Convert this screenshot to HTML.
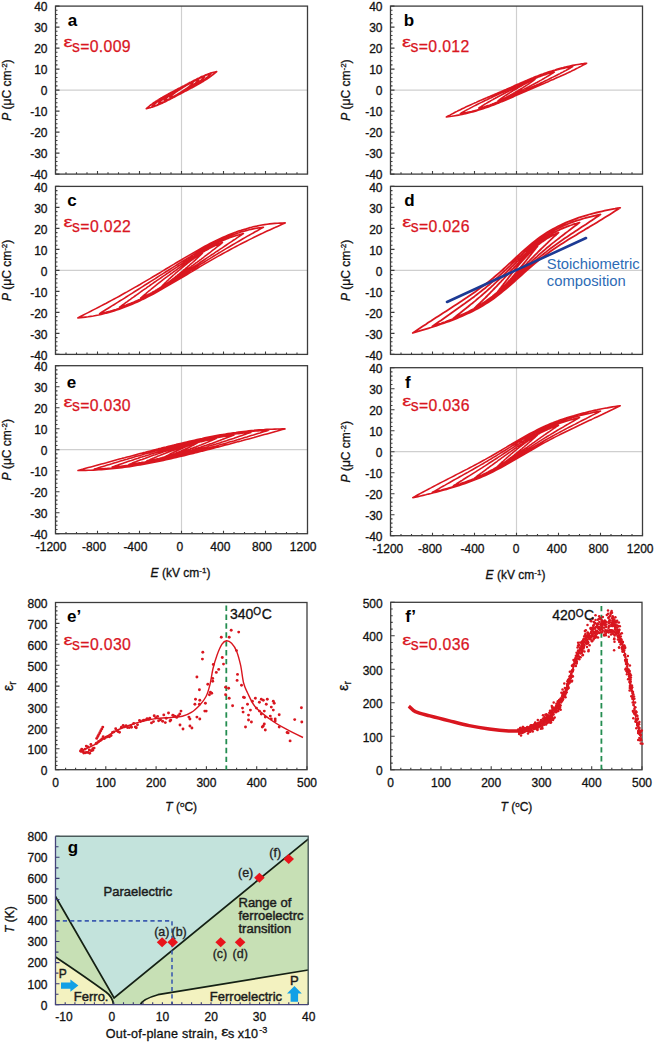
<!DOCTYPE html><html><head><meta charset="utf-8"><style>html,body{margin:0;padding:0;background:#fff;width:655px;height:1042px;overflow:hidden}svg{display:block;font-family:"Liberation Sans",sans-serif}.tk{font-size:12px;fill:#111;stroke:#111;stroke-width:0.3px}.lb{font-size:17px;font-weight:bold;fill:#000}.eps{font-size:15.8px;fill:#d9161f;stroke:#d9161f;stroke-width:0.25px}.ax{font-size:12px;fill:#111}</style></head><body>
<svg width="655" height="1042" viewBox="0 0 655 1042">
<rect width="655" height="1042" fill="#fff"/>
<line x1="181.5" y1="6.1" x2="181.5" y2="174.1" stroke="#cfcfcf" stroke-width="1.2"/>
<line x1="55.5" y1="90.1" x2="307.5" y2="90.1" stroke="#cfcfcf" stroke-width="1.2"/>
<path d="M55.5 6.1h4 M55.5 10.3h2 M55.5 14.5h2 M55.5 18.7h2 M55.5 22.9h2 M55.5 27.1h4 M55.5 31.3h2 M55.5 35.5h2 M55.5 39.7h2 M55.5 43.9h2 M55.5 48.1h4 M55.5 52.3h2 M55.5 56.5h2 M55.5 60.7h2 M55.5 64.9h2 M55.5 69.1h4 M55.5 73.3h2 M55.5 77.5h2 M55.5 81.7h2 M55.5 85.9h2 M55.5 90.1h4 M55.5 94.3h2 M55.5 98.5h2 M55.5 102.7h2 M55.5 106.9h2 M55.5 111.1h4 M55.5 115.3h2 M55.5 119.5h2 M55.5 123.7h2 M55.5 127.9h2 M55.5 132.1h4 M55.5 136.3h2 M55.5 140.5h2 M55.5 144.7h2 M55.5 148.9h2 M55.5 153.1h4 M55.5 157.3h2 M55.5 161.5h2 M55.5 165.7h2 M55.5 169.9h2 M55.5 174.1h4 M55.5 174.1v-3 M66.0 174.1v-1.8 M76.5 174.1v-1.8 M87.0 174.1v-1.8 M97.5 174.1v-3 M108.0 174.1v-1.8 M118.5 174.1v-1.8 M129.0 174.1v-1.8 M139.5 174.1v-3 M150.0 174.1v-1.8 M160.5 174.1v-1.8 M171.0 174.1v-1.8 M181.5 174.1v-3 M192.0 174.1v-1.8 M202.5 174.1v-1.8 M213.0 174.1v-1.8 M223.5 174.1v-3 M234.0 174.1v-1.8 M244.5 174.1v-1.8 M255.0 174.1v-1.8 M265.5 174.1v-3 M276.0 174.1v-1.8 M286.5 174.1v-1.8 M297.0 174.1v-1.8 M307.5 174.1v-3" stroke="#3c3c3c" stroke-width="1.1" fill="none"/>
<rect x="55.5" y="6.1" width="252.0" height="168.0" fill="none" stroke="#3c3c3c" stroke-width="1.3"/>
<text x="47.5" y="11.3" class="tk" text-anchor="end">40</text>
<text x="47.5" y="32.3" class="tk" text-anchor="end">30</text>
<text x="47.5" y="53.3" class="tk" text-anchor="end">20</text>
<text x="47.5" y="74.3" class="tk" text-anchor="end">10</text>
<text x="47.5" y="95.3" class="tk" text-anchor="end">0</text>
<text x="47.5" y="116.3" class="tk" text-anchor="end">-10</text>
<text x="47.5" y="137.3" class="tk" text-anchor="end">-20</text>
<text x="47.5" y="158.3" class="tk" text-anchor="end">-30</text>
<text x="47.5" y="179.3" class="tk" text-anchor="end">-40</text>
<line x1="516.5" y1="6.1" x2="516.5" y2="174.1" stroke="#cfcfcf" stroke-width="1.2"/>
<line x1="390.5" y1="90.1" x2="642.5" y2="90.1" stroke="#cfcfcf" stroke-width="1.2"/>
<path d="M390.5 6.1h4 M390.5 10.3h2 M390.5 14.5h2 M390.5 18.7h2 M390.5 22.9h2 M390.5 27.1h4 M390.5 31.3h2 M390.5 35.5h2 M390.5 39.7h2 M390.5 43.9h2 M390.5 48.1h4 M390.5 52.3h2 M390.5 56.5h2 M390.5 60.7h2 M390.5 64.9h2 M390.5 69.1h4 M390.5 73.3h2 M390.5 77.5h2 M390.5 81.7h2 M390.5 85.9h2 M390.5 90.1h4 M390.5 94.3h2 M390.5 98.5h2 M390.5 102.7h2 M390.5 106.9h2 M390.5 111.1h4 M390.5 115.3h2 M390.5 119.5h2 M390.5 123.7h2 M390.5 127.9h2 M390.5 132.1h4 M390.5 136.3h2 M390.5 140.5h2 M390.5 144.7h2 M390.5 148.9h2 M390.5 153.1h4 M390.5 157.3h2 M390.5 161.5h2 M390.5 165.7h2 M390.5 169.9h2 M390.5 174.1h4 M390.5 174.1v-3 M401.0 174.1v-1.8 M411.5 174.1v-1.8 M422.0 174.1v-1.8 M432.5 174.1v-3 M443.0 174.1v-1.8 M453.5 174.1v-1.8 M464.0 174.1v-1.8 M474.5 174.1v-3 M485.0 174.1v-1.8 M495.5 174.1v-1.8 M506.0 174.1v-1.8 M516.5 174.1v-3 M527.0 174.1v-1.8 M537.5 174.1v-1.8 M548.0 174.1v-1.8 M558.5 174.1v-3 M569.0 174.1v-1.8 M579.5 174.1v-1.8 M590.0 174.1v-1.8 M600.5 174.1v-3 M611.0 174.1v-1.8 M621.5 174.1v-1.8 M632.0 174.1v-1.8 M642.5 174.1v-3" stroke="#3c3c3c" stroke-width="1.1" fill="none"/>
<rect x="390.5" y="6.1" width="252.0" height="168.0" fill="none" stroke="#3c3c3c" stroke-width="1.3"/>
<text x="382.5" y="11.3" class="tk" text-anchor="end">40</text>
<text x="382.5" y="32.3" class="tk" text-anchor="end">30</text>
<text x="382.5" y="53.3" class="tk" text-anchor="end">20</text>
<text x="382.5" y="74.3" class="tk" text-anchor="end">10</text>
<text x="382.5" y="95.3" class="tk" text-anchor="end">0</text>
<text x="382.5" y="116.3" class="tk" text-anchor="end">-10</text>
<text x="382.5" y="137.3" class="tk" text-anchor="end">-20</text>
<text x="382.5" y="158.3" class="tk" text-anchor="end">-30</text>
<text x="382.5" y="179.3" class="tk" text-anchor="end">-40</text>
<line x1="181.5" y1="186.4" x2="181.5" y2="354.4" stroke="#cfcfcf" stroke-width="1.2"/>
<line x1="55.5" y1="270.4" x2="307.5" y2="270.4" stroke="#cfcfcf" stroke-width="1.2"/>
<path d="M55.5 186.4h4 M55.5 190.6h2 M55.5 194.8h2 M55.5 199.0h2 M55.5 203.2h2 M55.5 207.4h4 M55.5 211.6h2 M55.5 215.8h2 M55.5 220.0h2 M55.5 224.2h2 M55.5 228.4h4 M55.5 232.6h2 M55.5 236.8h2 M55.5 241.0h2 M55.5 245.2h2 M55.5 249.4h4 M55.5 253.6h2 M55.5 257.8h2 M55.5 262.0h2 M55.5 266.2h2 M55.5 270.4h4 M55.5 274.6h2 M55.5 278.8h2 M55.5 283.0h2 M55.5 287.2h2 M55.5 291.4h4 M55.5 295.6h2 M55.5 299.8h2 M55.5 304.0h2 M55.5 308.2h2 M55.5 312.4h4 M55.5 316.6h2 M55.5 320.8h2 M55.5 325.0h2 M55.5 329.2h2 M55.5 333.4h4 M55.5 337.6h2 M55.5 341.8h2 M55.5 346.0h2 M55.5 350.2h2 M55.5 354.4h4 M55.5 354.4v-3 M66.0 354.4v-1.8 M76.5 354.4v-1.8 M87.0 354.4v-1.8 M97.5 354.4v-3 M108.0 354.4v-1.8 M118.5 354.4v-1.8 M129.0 354.4v-1.8 M139.5 354.4v-3 M150.0 354.4v-1.8 M160.5 354.4v-1.8 M171.0 354.4v-1.8 M181.5 354.4v-3 M192.0 354.4v-1.8 M202.5 354.4v-1.8 M213.0 354.4v-1.8 M223.5 354.4v-3 M234.0 354.4v-1.8 M244.5 354.4v-1.8 M255.0 354.4v-1.8 M265.5 354.4v-3 M276.0 354.4v-1.8 M286.5 354.4v-1.8 M297.0 354.4v-1.8 M307.5 354.4v-3" stroke="#3c3c3c" stroke-width="1.1" fill="none"/>
<rect x="55.5" y="186.4" width="252.0" height="168.0" fill="none" stroke="#3c3c3c" stroke-width="1.3"/>
<text x="47.5" y="191.6" class="tk" text-anchor="end">40</text>
<text x="47.5" y="212.6" class="tk" text-anchor="end">30</text>
<text x="47.5" y="233.6" class="tk" text-anchor="end">20</text>
<text x="47.5" y="254.6" class="tk" text-anchor="end">10</text>
<text x="47.5" y="275.6" class="tk" text-anchor="end">0</text>
<text x="47.5" y="296.6" class="tk" text-anchor="end">-10</text>
<text x="47.5" y="317.6" class="tk" text-anchor="end">-20</text>
<text x="47.5" y="338.6" class="tk" text-anchor="end">-30</text>
<text x="47.5" y="359.6" class="tk" text-anchor="end">-40</text>
<line x1="516.5" y1="186.4" x2="516.5" y2="354.4" stroke="#cfcfcf" stroke-width="1.2"/>
<line x1="390.5" y1="270.4" x2="642.5" y2="270.4" stroke="#cfcfcf" stroke-width="1.2"/>
<path d="M390.5 186.4h4 M390.5 190.6h2 M390.5 194.8h2 M390.5 199.0h2 M390.5 203.2h2 M390.5 207.4h4 M390.5 211.6h2 M390.5 215.8h2 M390.5 220.0h2 M390.5 224.2h2 M390.5 228.4h4 M390.5 232.6h2 M390.5 236.8h2 M390.5 241.0h2 M390.5 245.2h2 M390.5 249.4h4 M390.5 253.6h2 M390.5 257.8h2 M390.5 262.0h2 M390.5 266.2h2 M390.5 270.4h4 M390.5 274.6h2 M390.5 278.8h2 M390.5 283.0h2 M390.5 287.2h2 M390.5 291.4h4 M390.5 295.6h2 M390.5 299.8h2 M390.5 304.0h2 M390.5 308.2h2 M390.5 312.4h4 M390.5 316.6h2 M390.5 320.8h2 M390.5 325.0h2 M390.5 329.2h2 M390.5 333.4h4 M390.5 337.6h2 M390.5 341.8h2 M390.5 346.0h2 M390.5 350.2h2 M390.5 354.4h4 M390.5 354.4v-3 M401.0 354.4v-1.8 M411.5 354.4v-1.8 M422.0 354.4v-1.8 M432.5 354.4v-3 M443.0 354.4v-1.8 M453.5 354.4v-1.8 M464.0 354.4v-1.8 M474.5 354.4v-3 M485.0 354.4v-1.8 M495.5 354.4v-1.8 M506.0 354.4v-1.8 M516.5 354.4v-3 M527.0 354.4v-1.8 M537.5 354.4v-1.8 M548.0 354.4v-1.8 M558.5 354.4v-3 M569.0 354.4v-1.8 M579.5 354.4v-1.8 M590.0 354.4v-1.8 M600.5 354.4v-3 M611.0 354.4v-1.8 M621.5 354.4v-1.8 M632.0 354.4v-1.8 M642.5 354.4v-3" stroke="#3c3c3c" stroke-width="1.1" fill="none"/>
<rect x="390.5" y="186.4" width="252.0" height="168.0" fill="none" stroke="#3c3c3c" stroke-width="1.3"/>
<text x="382.5" y="191.6" class="tk" text-anchor="end">40</text>
<text x="382.5" y="212.6" class="tk" text-anchor="end">30</text>
<text x="382.5" y="233.6" class="tk" text-anchor="end">20</text>
<text x="382.5" y="254.6" class="tk" text-anchor="end">10</text>
<text x="382.5" y="275.6" class="tk" text-anchor="end">0</text>
<text x="382.5" y="296.6" class="tk" text-anchor="end">-10</text>
<text x="382.5" y="317.6" class="tk" text-anchor="end">-20</text>
<text x="382.5" y="338.6" class="tk" text-anchor="end">-30</text>
<text x="382.5" y="359.6" class="tk" text-anchor="end">-40</text>
<line x1="181.5" y1="365.7" x2="181.5" y2="533.7" stroke="#cfcfcf" stroke-width="1.2"/>
<line x1="55.5" y1="449.7" x2="307.5" y2="449.7" stroke="#cfcfcf" stroke-width="1.2"/>
<path d="M55.5 365.7h4 M55.5 369.9h2 M55.5 374.1h2 M55.5 378.3h2 M55.5 382.5h2 M55.5 386.7h4 M55.5 390.9h2 M55.5 395.1h2 M55.5 399.3h2 M55.5 403.5h2 M55.5 407.7h4 M55.5 411.9h2 M55.5 416.1h2 M55.5 420.3h2 M55.5 424.5h2 M55.5 428.7h4 M55.5 432.9h2 M55.5 437.1h2 M55.5 441.3h2 M55.5 445.5h2 M55.5 449.7h4 M55.5 453.9h2 M55.5 458.1h2 M55.5 462.3h2 M55.5 466.5h2 M55.5 470.7h4 M55.5 474.9h2 M55.5 479.1h2 M55.5 483.3h2 M55.5 487.5h2 M55.5 491.7h4 M55.5 495.9h2 M55.5 500.1h2 M55.5 504.3h2 M55.5 508.5h2 M55.5 512.7h4 M55.5 516.9h2 M55.5 521.1h2 M55.5 525.3h2 M55.5 529.5h2 M55.5 533.7h4 M55.5 533.7v-3 M66.0 533.7v-1.8 M76.5 533.7v-1.8 M87.0 533.7v-1.8 M97.5 533.7v-3 M108.0 533.7v-1.8 M118.5 533.7v-1.8 M129.0 533.7v-1.8 M139.5 533.7v-3 M150.0 533.7v-1.8 M160.5 533.7v-1.8 M171.0 533.7v-1.8 M181.5 533.7v-3 M192.0 533.7v-1.8 M202.5 533.7v-1.8 M213.0 533.7v-1.8 M223.5 533.7v-3 M234.0 533.7v-1.8 M244.5 533.7v-1.8 M255.0 533.7v-1.8 M265.5 533.7v-3 M276.0 533.7v-1.8 M286.5 533.7v-1.8 M297.0 533.7v-1.8 M307.5 533.7v-3" stroke="#3c3c3c" stroke-width="1.1" fill="none"/>
<rect x="55.5" y="365.7" width="252.0" height="168.0" fill="none" stroke="#3c3c3c" stroke-width="1.3"/>
<text x="47.5" y="370.9" class="tk" text-anchor="end">40</text>
<text x="47.5" y="391.9" class="tk" text-anchor="end">30</text>
<text x="47.5" y="412.9" class="tk" text-anchor="end">20</text>
<text x="47.5" y="433.9" class="tk" text-anchor="end">10</text>
<text x="47.5" y="454.9" class="tk" text-anchor="end">0</text>
<text x="47.5" y="475.9" class="tk" text-anchor="end">-10</text>
<text x="47.5" y="496.9" class="tk" text-anchor="end">-20</text>
<text x="47.5" y="517.9" class="tk" text-anchor="end">-30</text>
<text x="47.5" y="538.9" class="tk" text-anchor="end">-40</text>
<line x1="516.5" y1="367.7" x2="516.5" y2="535.7" stroke="#cfcfcf" stroke-width="1.2"/>
<line x1="390.5" y1="451.7" x2="642.5" y2="451.7" stroke="#cfcfcf" stroke-width="1.2"/>
<path d="M390.5 367.7h4 M390.5 371.9h2 M390.5 376.1h2 M390.5 380.3h2 M390.5 384.5h2 M390.5 388.7h4 M390.5 392.9h2 M390.5 397.1h2 M390.5 401.3h2 M390.5 405.5h2 M390.5 409.7h4 M390.5 413.9h2 M390.5 418.1h2 M390.5 422.3h2 M390.5 426.5h2 M390.5 430.7h4 M390.5 434.9h2 M390.5 439.1h2 M390.5 443.3h2 M390.5 447.5h2 M390.5 451.7h4 M390.5 455.9h2 M390.5 460.1h2 M390.5 464.3h2 M390.5 468.5h2 M390.5 472.7h4 M390.5 476.9h2 M390.5 481.1h2 M390.5 485.3h2 M390.5 489.5h2 M390.5 493.7h4 M390.5 497.9h2 M390.5 502.1h2 M390.5 506.3h2 M390.5 510.5h2 M390.5 514.7h4 M390.5 518.9h2 M390.5 523.1h2 M390.5 527.3h2 M390.5 531.5h2 M390.5 535.7h4 M390.5 535.7v-3 M401.0 535.7v-1.8 M411.5 535.7v-1.8 M422.0 535.7v-1.8 M432.5 535.7v-3 M443.0 535.7v-1.8 M453.5 535.7v-1.8 M464.0 535.7v-1.8 M474.5 535.7v-3 M485.0 535.7v-1.8 M495.5 535.7v-1.8 M506.0 535.7v-1.8 M516.5 535.7v-3 M527.0 535.7v-1.8 M537.5 535.7v-1.8 M548.0 535.7v-1.8 M558.5 535.7v-3 M569.0 535.7v-1.8 M579.5 535.7v-1.8 M590.0 535.7v-1.8 M600.5 535.7v-3 M611.0 535.7v-1.8 M621.5 535.7v-1.8 M632.0 535.7v-1.8 M642.5 535.7v-3" stroke="#3c3c3c" stroke-width="1.1" fill="none"/>
<rect x="390.5" y="367.7" width="252.0" height="168.0" fill="none" stroke="#3c3c3c" stroke-width="1.3"/>
<text x="382.5" y="372.9" class="tk" text-anchor="end">40</text>
<text x="382.5" y="393.9" class="tk" text-anchor="end">30</text>
<text x="382.5" y="414.9" class="tk" text-anchor="end">20</text>
<text x="382.5" y="435.9" class="tk" text-anchor="end">10</text>
<text x="382.5" y="456.9" class="tk" text-anchor="end">0</text>
<text x="382.5" y="477.9" class="tk" text-anchor="end">-10</text>
<text x="382.5" y="498.9" class="tk" text-anchor="end">-20</text>
<text x="382.5" y="519.9" class="tk" text-anchor="end">-30</text>
<text x="382.5" y="540.9" class="tk" text-anchor="end">-40</text>
<path d="M193.1 82.8 L192.8 82.8 L192.5 82.8 L192.2 82.9 L191.9 82.9 L191.6 83.0 L191.3 83.1 L191.0 83.2 L190.7 83.3 L190.5 83.4 L190.2 83.5 L189.9 83.6 L189.6 83.7 L189.3 83.9 L189.0 84.0 L188.7 84.1 L188.4 84.3 L188.1 84.4 L187.9 84.6 L187.6 84.8 L187.3 84.9 L187.0 85.1 L186.7 85.2 L186.4 85.4 L186.1 85.6 L185.8 85.8 L185.5 85.9 L185.3 86.1 L185.0 86.3 L184.7 86.5 L184.4 86.7 L184.1 86.8 L183.8 87.0 L183.5 87.2 L183.2 87.4 L182.9 87.6 L182.7 87.8 L182.4 87.9 L182.1 88.1 L181.8 88.3 L181.5 88.5 L181.2 88.7 L180.9 88.9 L180.6 89.0 L180.3 89.2 L180.1 89.4 L179.8 89.6 L179.5 89.8 L179.2 90.0 L178.9 90.1 L178.6 90.3 L178.3 90.5 L178.0 90.7 L177.7 90.9 L177.5 91.1 L177.2 91.3 L176.9 91.5 L176.6 91.7 L176.3 91.9 L176.0 92.1 L175.7 92.3 L175.4 92.5 L175.1 92.7 L174.9 92.9 L174.6 93.1 L174.3 93.3 L174.0 93.5 L173.7 93.8 L173.4 94.0 L173.1 94.3 L172.8 94.5 L172.5 94.8 L172.3 95.0 L172.0 95.3 L171.7 95.6 L171.4 95.9 L171.1 96.1 L170.8 96.5 L170.5 96.8 L170.2 97.1 L169.9 97.4 L170.2 97.4 L170.5 97.4 L170.8 97.3 L171.1 97.3 L171.4 97.2 L171.7 97.1 L172.0 97.0 L172.3 96.9 L172.5 96.8 L172.8 96.7 L173.1 96.6 L173.4 96.5 L173.7 96.3 L174.0 96.2 L174.3 96.1 L174.6 95.9 L174.9 95.8 L175.1 95.6 L175.4 95.4 L175.7 95.3 L176.0 95.1 L176.3 95.0 L176.6 94.8 L176.9 94.6 L177.2 94.4 L177.5 94.3 L177.7 94.1 L178.0 93.9 L178.3 93.7 L178.6 93.5 L178.9 93.4 L179.2 93.2 L179.5 93.0 L179.8 92.8 L180.1 92.6 L180.3 92.4 L180.6 92.3 L180.9 92.1 L181.2 91.9 L181.5 91.7 L181.8 91.5 L182.1 91.3 L182.4 91.2 L182.7 91.0 L182.9 90.8 L183.2 90.6 L183.5 90.4 L183.8 90.2 L184.1 90.1 L184.4 89.9 L184.7 89.7 L185.0 89.5 L185.3 89.3 L185.5 89.1 L185.8 88.9 L186.1 88.7 L186.4 88.5 L186.7 88.3 L187.0 88.1 L187.3 87.9 L187.6 87.7 L187.9 87.5 L188.1 87.3 L188.4 87.1 L188.7 86.9 L189.0 86.7 L189.3 86.4 L189.6 86.2 L189.9 85.9 L190.2 85.7 L190.5 85.4 L190.7 85.2 L191.0 84.9 L191.3 84.6 L191.6 84.3 L191.9 84.1 L192.2 83.7 L192.5 83.4 L192.8 83.1 L193.1 82.8Z M198.8 79.8 L198.4 79.8 L198.0 79.9 L197.5 80.0 L197.1 80.1 L196.7 80.2 L196.2 80.3 L195.8 80.5 L195.4 80.6 L194.9 80.8 L194.5 81.0 L194.1 81.1 L193.6 81.3 L193.2 81.5 L192.8 81.7 L192.3 81.9 L191.9 82.1 L191.5 82.3 L191.0 82.6 L190.6 82.8 L190.2 83.0 L189.7 83.2 L189.3 83.5 L188.9 83.7 L188.4 84.0 L188.0 84.2 L187.6 84.5 L187.1 84.7 L186.7 85.0 L186.3 85.2 L185.8 85.5 L185.4 85.7 L185.0 86.0 L184.5 86.2 L184.1 86.5 L183.7 86.8 L183.2 87.0 L182.8 87.3 L182.4 87.5 L181.9 87.8 L181.5 88.0 L181.1 88.3 L180.6 88.6 L180.2 88.8 L179.8 89.1 L179.3 89.3 L178.9 89.6 L178.5 89.8 L178.0 90.1 L177.6 90.4 L177.2 90.6 L176.7 90.9 L176.3 91.2 L175.9 91.4 L175.4 91.7 L175.0 92.0 L174.6 92.2 L174.1 92.5 L173.7 92.8 L173.3 93.0 L172.8 93.3 L172.4 93.6 L172.0 93.9 L171.5 94.2 L171.1 94.5 L170.7 94.8 L170.2 95.1 L169.8 95.4 L169.4 95.8 L168.9 96.1 L168.5 96.4 L168.1 96.8 L167.6 97.1 L167.2 97.5 L166.8 97.9 L166.3 98.3 L165.9 98.7 L165.5 99.1 L165.0 99.5 L164.6 100.0 L164.2 100.4 L164.6 100.4 L165.0 100.3 L165.5 100.2 L165.9 100.1 L166.3 100.0 L166.8 99.9 L167.2 99.7 L167.6 99.6 L168.1 99.4 L168.5 99.2 L168.9 99.1 L169.4 98.9 L169.8 98.7 L170.2 98.5 L170.7 98.3 L171.1 98.1 L171.5 97.9 L172.0 97.6 L172.4 97.4 L172.8 97.2 L173.3 97.0 L173.7 96.7 L174.1 96.5 L174.6 96.2 L175.0 96.0 L175.4 95.7 L175.9 95.5 L176.3 95.2 L176.7 95.0 L177.2 94.7 L177.6 94.5 L178.0 94.2 L178.5 94.0 L178.9 93.7 L179.3 93.4 L179.8 93.2 L180.2 92.9 L180.6 92.7 L181.1 92.4 L181.5 92.2 L181.9 91.9 L182.4 91.6 L182.8 91.4 L183.2 91.1 L183.7 90.9 L184.1 90.6 L184.5 90.4 L185.0 90.1 L185.4 89.8 L185.8 89.6 L186.3 89.3 L186.7 89.0 L187.1 88.8 L187.6 88.5 L188.0 88.2 L188.4 88.0 L188.9 87.7 L189.3 87.4 L189.7 87.2 L190.2 86.9 L190.6 86.6 L191.0 86.3 L191.5 86.0 L191.9 85.7 L192.3 85.4 L192.8 85.1 L193.2 84.8 L193.6 84.4 L194.1 84.1 L194.5 83.8 L194.9 83.4 L195.4 83.1 L195.8 82.7 L196.2 82.3 L196.7 81.9 L197.1 81.5 L197.5 81.1 L198.0 80.7 L198.4 80.2 L198.8 79.8Z M204.6 76.9 L204.0 77.0 L203.4 77.1 L202.9 77.2 L202.3 77.4 L201.7 77.5 L201.1 77.7 L200.6 77.9 L200.0 78.1 L199.4 78.3 L198.8 78.5 L198.2 78.8 L197.7 79.0 L197.1 79.2 L196.5 79.5 L195.9 79.8 L195.4 80.0 L194.8 80.3 L194.2 80.6 L193.6 80.9 L193.1 81.2 L192.5 81.5 L191.9 81.8 L191.3 82.1 L190.7 82.4 L190.2 82.7 L189.6 83.1 L189.0 83.4 L188.4 83.7 L187.9 84.0 L187.3 84.4 L186.7 84.7 L186.1 85.0 L185.5 85.3 L185.0 85.7 L184.4 86.0 L183.8 86.3 L183.2 86.7 L182.7 87.0 L182.1 87.3 L181.5 87.7 L180.9 88.0 L180.3 88.3 L179.8 88.6 L179.2 89.0 L178.6 89.3 L178.0 89.6 L177.5 90.0 L176.9 90.3 L176.3 90.6 L175.7 91.0 L175.1 91.3 L174.6 91.6 L174.0 92.0 L173.4 92.3 L172.8 92.7 L172.3 93.0 L171.7 93.3 L171.1 93.7 L170.5 94.1 L169.9 94.4 L169.4 94.8 L168.8 95.1 L168.2 95.5 L167.6 95.9 L167.1 96.3 L166.5 96.7 L165.9 97.1 L165.3 97.5 L164.8 97.9 L164.2 98.3 L163.6 98.8 L163.0 99.2 L162.4 99.7 L161.9 100.1 L161.3 100.6 L160.7 101.1 L160.1 101.6 L159.6 102.2 L159.0 102.7 L158.4 103.3 L159.0 103.2 L159.6 103.1 L160.1 103.0 L160.7 102.8 L161.3 102.7 L161.9 102.5 L162.4 102.3 L163.0 102.1 L163.6 101.9 L164.2 101.7 L164.8 101.4 L165.3 101.2 L165.9 101.0 L166.5 100.7 L167.1 100.4 L167.6 100.2 L168.2 99.9 L168.8 99.6 L169.4 99.3 L169.9 99.0 L170.5 98.7 L171.1 98.4 L171.7 98.1 L172.3 97.8 L172.8 97.5 L173.4 97.1 L174.0 96.8 L174.6 96.5 L175.1 96.2 L175.7 95.8 L176.3 95.5 L176.9 95.2 L177.5 94.9 L178.0 94.5 L178.6 94.2 L179.2 93.9 L179.8 93.5 L180.3 93.2 L180.9 92.9 L181.5 92.5 L182.1 92.2 L182.7 91.9 L183.2 91.6 L183.8 91.2 L184.4 90.9 L185.0 90.6 L185.5 90.2 L186.1 89.9 L186.7 89.6 L187.3 89.2 L187.9 88.9 L188.4 88.6 L189.0 88.2 L189.6 87.9 L190.2 87.5 L190.7 87.2 L191.3 86.9 L191.9 86.5 L192.5 86.1 L193.1 85.8 L193.6 85.4 L194.2 85.1 L194.8 84.7 L195.4 84.3 L195.9 83.9 L196.5 83.5 L197.1 83.1 L197.7 82.7 L198.2 82.3 L198.8 81.9 L199.4 81.4 L200.0 81.0 L200.6 80.5 L201.1 80.1 L201.7 79.6 L202.3 79.1 L202.9 78.6 L203.4 78.0 L204.0 77.5 L204.6 76.9Z M210.9 74.0 L210.2 74.1 L209.4 74.3 L208.7 74.4 L208.0 74.6 L207.2 74.8 L206.5 75.0 L205.8 75.3 L205.0 75.5 L204.3 75.8 L203.6 76.1 L202.8 76.4 L202.1 76.7 L201.3 77.0 L200.6 77.3 L199.9 77.6 L199.1 78.0 L198.4 78.3 L197.7 78.7 L196.9 79.0 L196.2 79.4 L195.5 79.7 L194.7 80.1 L194.0 80.5 L193.3 80.9 L192.5 81.3 L191.8 81.7 L191.1 82.1 L190.3 82.4 L189.6 82.8 L188.8 83.2 L188.1 83.6 L187.4 84.0 L186.6 84.4 L185.9 84.8 L185.2 85.3 L184.4 85.7 L183.7 86.1 L183.0 86.5 L182.2 86.9 L181.5 87.3 L180.8 87.7 L180.0 88.1 L179.3 88.5 L178.6 88.9 L177.8 89.3 L177.1 89.7 L176.4 90.1 L175.6 90.5 L174.9 90.9 L174.2 91.3 L173.4 91.7 L172.7 92.1 L171.9 92.6 L171.2 93.0 L170.5 93.4 L169.7 93.8 L169.0 94.2 L168.3 94.7 L167.5 95.1 L166.8 95.5 L166.1 96.0 L165.3 96.4 L164.6 96.9 L163.9 97.3 L163.1 97.8 L162.4 98.3 L161.7 98.7 L160.9 99.2 L160.2 99.7 L159.4 100.3 L158.7 100.8 L158.0 101.3 L157.2 101.9 L156.5 102.5 L155.8 103.0 L155.0 103.6 L154.3 104.3 L153.6 104.9 L152.8 105.5 L152.1 106.2 L152.8 106.1 L153.6 105.9 L154.3 105.8 L155.0 105.6 L155.8 105.4 L156.5 105.2 L157.2 104.9 L158.0 104.7 L158.7 104.4 L159.4 104.1 L160.2 103.8 L160.9 103.5 L161.7 103.2 L162.4 102.9 L163.1 102.6 L163.9 102.2 L164.6 101.9 L165.3 101.5 L166.1 101.2 L166.8 100.8 L167.5 100.5 L168.3 100.1 L169.0 99.7 L169.7 99.3 L170.5 98.9 L171.2 98.5 L171.9 98.1 L172.7 97.8 L173.4 97.4 L174.2 97.0 L174.9 96.6 L175.6 96.2 L176.4 95.8 L177.1 95.4 L177.8 94.9 L178.6 94.5 L179.3 94.1 L180.0 93.7 L180.8 93.3 L181.5 92.9 L182.2 92.5 L183.0 92.1 L183.7 91.7 L184.4 91.3 L185.2 90.9 L185.9 90.5 L186.6 90.1 L187.4 89.7 L188.1 89.3 L188.8 88.9 L189.6 88.5 L190.3 88.1 L191.1 87.6 L191.8 87.2 L192.5 86.8 L193.3 86.4 L194.0 86.0 L194.7 85.5 L195.5 85.1 L196.2 84.7 L196.9 84.2 L197.7 83.8 L198.4 83.3 L199.1 82.9 L199.9 82.4 L200.6 81.9 L201.3 81.5 L202.1 81.0 L202.8 80.5 L203.6 79.9 L204.3 79.4 L205.0 78.9 L205.8 78.3 L206.5 77.7 L207.2 77.2 L208.0 76.6 L208.7 75.9 L209.4 75.3 L210.2 74.7 L210.9 74.0Z M216.7 71.6 L215.8 71.8 L214.9 72.0 L214.0 72.2 L213.2 72.4 L212.3 72.6 L211.4 72.9 L210.5 73.1 L209.6 73.4 L208.8 73.7 L207.9 74.1 L207.0 74.4 L206.1 74.7 L205.2 75.1 L204.4 75.5 L203.5 75.9 L202.6 76.2 L201.7 76.6 L200.8 77.0 L200.0 77.5 L199.1 77.9 L198.2 78.3 L197.3 78.7 L196.4 79.2 L195.6 79.6 L194.7 80.1 L193.8 80.5 L192.9 81.0 L192.1 81.4 L191.2 81.9 L190.3 82.3 L189.4 82.8 L188.5 83.2 L187.7 83.7 L186.8 84.2 L185.9 84.6 L185.0 85.1 L184.1 85.6 L183.3 86.0 L182.4 86.5 L181.5 86.9 L180.6 87.4 L179.7 87.9 L178.9 88.3 L178.0 88.8 L177.1 89.3 L176.2 89.7 L175.3 90.2 L174.5 90.7 L173.6 91.1 L172.7 91.6 L171.8 92.1 L170.9 92.5 L170.1 93.0 L169.2 93.5 L168.3 94.0 L167.4 94.4 L166.6 94.9 L165.7 95.4 L164.8 95.9 L163.9 96.4 L163.0 96.9 L162.2 97.4 L161.3 97.9 L160.4 98.5 L159.5 99.0 L158.6 99.6 L157.8 100.1 L156.9 100.7 L156.0 101.2 L155.1 101.8 L154.2 102.4 L153.4 103.0 L152.5 103.7 L151.6 104.3 L150.7 105.0 L149.8 105.7 L149.0 106.4 L148.1 107.1 L147.2 107.8 L146.3 108.6 L147.2 108.4 L148.1 108.2 L149.0 108.0 L149.8 107.8 L150.7 107.6 L151.6 107.3 L152.5 107.1 L153.4 106.8 L154.2 106.5 L155.1 106.1 L156.0 105.8 L156.9 105.5 L157.8 105.1 L158.6 104.7 L159.5 104.3 L160.4 104.0 L161.3 103.6 L162.2 103.2 L163.0 102.7 L163.9 102.3 L164.8 101.9 L165.7 101.5 L166.6 101.0 L167.4 100.6 L168.3 100.1 L169.2 99.7 L170.1 99.2 L170.9 98.8 L171.8 98.3 L172.7 97.9 L173.6 97.4 L174.5 97.0 L175.3 96.5 L176.2 96.0 L177.1 95.6 L178.0 95.1 L178.9 94.6 L179.7 94.2 L180.6 93.7 L181.5 93.2 L182.4 92.8 L183.3 92.3 L184.1 91.9 L185.0 91.4 L185.9 90.9 L186.8 90.5 L187.7 90.0 L188.5 89.5 L189.4 89.1 L190.3 88.6 L191.2 88.1 L192.1 87.7 L192.9 87.2 L193.8 86.7 L194.7 86.2 L195.6 85.8 L196.4 85.3 L197.3 84.8 L198.2 84.3 L199.1 83.8 L200.0 83.3 L200.8 82.8 L201.7 82.3 L202.6 81.7 L203.5 81.2 L204.4 80.6 L205.2 80.1 L206.1 79.5 L207.0 79.0 L207.9 78.4 L208.8 77.8 L209.6 77.2 L210.5 76.5 L211.4 75.9 L212.3 75.2 L213.2 74.5 L214.0 73.8 L214.9 73.1 L215.8 72.4 L216.7 71.6Z" fill="none" stroke="#d9161f" stroke-width="1.6" stroke-linejoin="round"/>
<path d="M535.0 79.3 L534.5 79.5 L534.1 79.6 L533.6 79.8 L533.1 80.0 L532.7 80.2 L532.2 80.3 L531.7 80.5 L531.3 80.7 L530.8 80.9 L530.4 81.1 L529.9 81.4 L529.4 81.6 L529.0 81.8 L528.5 82.0 L528.0 82.2 L527.6 82.5 L527.1 82.7 L526.7 82.9 L526.2 83.2 L525.7 83.4 L525.3 83.7 L524.8 83.9 L524.4 84.2 L523.9 84.4 L523.4 84.7 L523.0 84.9 L522.5 85.2 L522.0 85.5 L521.6 85.7 L521.1 86.0 L520.7 86.3 L520.2 86.5 L519.7 86.8 L519.3 87.1 L518.8 87.3 L518.3 87.6 L517.9 87.9 L517.4 88.2 L517.0 88.4 L516.5 88.7 L516.0 89.0 L515.6 89.3 L515.1 89.5 L514.7 89.8 L514.2 90.1 L513.7 90.4 L513.3 90.6 L512.8 90.9 L512.3 91.2 L511.9 91.5 L511.4 91.8 L511.0 92.0 L510.5 92.3 L510.0 92.6 L509.6 92.9 L509.1 93.2 L508.6 93.5 L508.2 93.8 L507.7 94.1 L507.3 94.4 L506.8 94.7 L506.3 95.0 L505.9 95.3 L505.4 95.6 L504.9 95.9 L504.5 96.2 L504.0 96.5 L503.6 96.8 L503.1 97.1 L502.6 97.5 L502.2 97.8 L501.7 98.1 L501.3 98.5 L500.8 98.8 L500.3 99.1 L499.9 99.5 L499.4 99.8 L498.9 100.2 L498.5 100.5 L498.0 100.9 L498.5 100.7 L498.9 100.6 L499.4 100.4 L499.9 100.2 L500.3 100.0 L500.8 99.9 L501.3 99.7 L501.7 99.5 L502.2 99.3 L502.6 99.1 L503.1 98.8 L503.6 98.6 L504.0 98.4 L504.5 98.2 L504.9 98.0 L505.4 97.7 L505.9 97.5 L506.3 97.3 L506.8 97.0 L507.3 96.8 L507.7 96.5 L508.2 96.3 L508.6 96.0 L509.1 95.8 L509.6 95.5 L510.0 95.3 L510.5 95.0 L511.0 94.7 L511.4 94.5 L511.9 94.2 L512.3 93.9 L512.8 93.7 L513.3 93.4 L513.7 93.1 L514.2 92.9 L514.7 92.6 L515.1 92.3 L515.6 92.0 L516.0 91.8 L516.5 91.5 L517.0 91.2 L517.4 90.9 L517.9 90.7 L518.3 90.4 L518.8 90.1 L519.3 89.8 L519.7 89.6 L520.2 89.3 L520.7 89.0 L521.1 88.7 L521.6 88.4 L522.0 88.2 L522.5 87.9 L523.0 87.6 L523.4 87.3 L523.9 87.0 L524.4 86.7 L524.8 86.4 L525.3 86.1 L525.7 85.8 L526.2 85.5 L526.7 85.2 L527.1 84.9 L527.6 84.6 L528.0 84.3 L528.5 84.0 L529.0 83.7 L529.4 83.4 L529.9 83.1 L530.4 82.7 L530.8 82.4 L531.3 82.1 L531.7 81.7 L532.2 81.4 L532.7 81.1 L533.1 80.7 L533.6 80.4 L534.1 80.0 L534.5 79.7 L535.0 79.3Z M554.3 72.1 L553.4 72.3 L552.4 72.5 L551.5 72.7 L550.5 73.0 L549.6 73.2 L548.6 73.5 L547.7 73.8 L546.7 74.1 L545.8 74.4 L544.9 74.7 L543.9 75.0 L543.0 75.3 L542.0 75.7 L541.1 76.0 L540.1 76.4 L539.2 76.7 L538.2 77.1 L537.3 77.5 L536.3 77.9 L535.4 78.3 L534.5 78.7 L533.5 79.1 L532.6 79.5 L531.6 79.9 L530.7 80.3 L529.7 80.8 L528.8 81.2 L527.8 81.7 L526.9 82.1 L526.0 82.6 L525.0 83.0 L524.1 83.5 L523.1 84.0 L522.2 84.4 L521.2 84.9 L520.3 85.4 L519.3 85.8 L518.4 86.3 L517.4 86.8 L516.5 87.3 L515.6 87.7 L514.6 88.2 L513.7 88.7 L512.7 89.2 L511.8 89.7 L510.8 90.1 L509.9 90.6 L508.9 91.1 L508.0 91.6 L507.1 92.1 L506.1 92.5 L505.2 93.0 L504.2 93.5 L503.3 94.0 L502.3 94.5 L501.4 95.0 L500.4 95.5 L499.5 96.0 L498.5 96.5 L497.6 97.0 L496.7 97.5 L495.7 98.0 L494.8 98.5 L493.8 99.0 L492.9 99.6 L491.9 100.1 L491.0 100.6 L490.0 101.2 L489.1 101.7 L488.1 102.3 L487.2 102.8 L486.3 103.4 L485.3 103.9 L484.4 104.5 L483.4 105.1 L482.5 105.7 L481.5 106.3 L480.6 106.9 L479.6 107.5 L478.7 108.1 L479.6 107.9 L480.6 107.7 L481.5 107.5 L482.5 107.2 L483.4 107.0 L484.4 106.7 L485.3 106.4 L486.3 106.1 L487.2 105.8 L488.1 105.5 L489.1 105.2 L490.0 104.9 L491.0 104.5 L491.9 104.2 L492.9 103.8 L493.8 103.5 L494.8 103.1 L495.7 102.7 L496.7 102.3 L497.6 101.9 L498.5 101.5 L499.5 101.1 L500.4 100.7 L501.4 100.3 L502.3 99.9 L503.3 99.4 L504.2 99.0 L505.2 98.5 L506.1 98.1 L507.1 97.6 L508.0 97.2 L508.9 96.7 L509.9 96.2 L510.8 95.8 L511.8 95.3 L512.7 94.8 L513.7 94.4 L514.6 93.9 L515.6 93.4 L516.5 92.9 L517.4 92.5 L518.4 92.0 L519.3 91.5 L520.3 91.0 L521.2 90.5 L522.2 90.1 L523.1 89.6 L524.1 89.1 L525.0 88.6 L526.0 88.1 L526.9 87.7 L527.8 87.2 L528.8 86.7 L529.7 86.2 L530.7 85.7 L531.6 85.2 L532.6 84.7 L533.5 84.2 L534.5 83.7 L535.4 83.2 L536.3 82.7 L537.3 82.2 L538.2 81.7 L539.2 81.2 L540.1 80.6 L541.1 80.1 L542.0 79.6 L543.0 79.0 L543.9 78.5 L544.9 77.9 L545.8 77.4 L546.7 76.8 L547.7 76.3 L548.6 75.7 L549.6 75.1 L550.5 74.5 L551.5 73.9 L552.4 73.3 L553.4 72.7 L554.3 72.1Z M572.7 66.6 L571.3 66.8 L569.9 67.0 L568.5 67.3 L567.1 67.5 L565.7 67.8 L564.2 68.1 L562.8 68.4 L561.4 68.7 L560.0 69.1 L558.6 69.5 L557.2 69.8 L555.8 70.2 L554.4 70.6 L553.0 71.0 L551.6 71.5 L550.2 71.9 L548.8 72.4 L547.4 72.9 L546.0 73.4 L544.6 73.9 L543.2 74.4 L541.8 74.9 L540.4 75.4 L539.0 76.0 L537.6 76.5 L536.2 77.1 L534.8 77.7 L533.4 78.3 L531.9 78.9 L530.5 79.5 L529.1 80.1 L527.7 80.7 L526.3 81.4 L524.9 82.0 L523.5 82.6 L522.1 83.3 L520.7 83.9 L519.3 84.6 L517.9 85.2 L516.5 85.9 L515.1 86.5 L513.7 87.2 L512.3 87.9 L510.9 88.5 L509.5 89.2 L508.1 89.8 L506.7 90.5 L505.3 91.1 L503.9 91.8 L502.5 92.4 L501.1 93.1 L499.6 93.7 L498.2 94.4 L496.8 95.0 L495.4 95.7 L494.0 96.3 L492.6 97.0 L491.2 97.7 L489.8 98.3 L488.4 99.0 L487.0 99.7 L485.6 100.3 L484.2 101.0 L482.8 101.7 L481.4 102.4 L480.0 103.1 L478.6 103.8 L477.2 104.5 L475.8 105.2 L474.4 105.9 L473.0 106.6 L471.6 107.4 L470.2 108.1 L468.8 108.9 L467.3 109.6 L465.9 110.4 L464.5 111.2 L463.1 112.0 L461.7 112.8 L460.3 113.6 L461.7 113.4 L463.1 113.2 L464.5 112.9 L465.9 112.7 L467.3 112.4 L468.8 112.1 L470.2 111.8 L471.6 111.5 L473.0 111.1 L474.4 110.7 L475.8 110.4 L477.2 110.0 L478.6 109.6 L480.0 109.2 L481.4 108.7 L482.8 108.3 L484.2 107.8 L485.6 107.3 L487.0 106.8 L488.4 106.3 L489.8 105.8 L491.2 105.3 L492.6 104.8 L494.0 104.2 L495.4 103.7 L496.8 103.1 L498.2 102.5 L499.6 101.9 L501.1 101.3 L502.5 100.7 L503.9 100.1 L505.3 99.5 L506.7 98.8 L508.1 98.2 L509.5 97.6 L510.9 96.9 L512.3 96.3 L513.7 95.6 L515.1 95.0 L516.5 94.3 L517.9 93.7 L519.3 93.0 L520.7 92.3 L522.1 91.7 L523.5 91.0 L524.9 90.4 L526.3 89.7 L527.7 89.1 L529.1 88.4 L530.5 87.8 L531.9 87.1 L533.4 86.5 L534.8 85.8 L536.2 85.2 L537.6 84.5 L539.0 83.9 L540.4 83.2 L541.8 82.5 L543.2 81.9 L544.6 81.2 L546.0 80.5 L547.4 79.9 L548.8 79.2 L550.2 78.5 L551.6 77.8 L553.0 77.1 L554.4 76.4 L555.8 75.7 L557.2 75.0 L558.6 74.3 L560.0 73.6 L561.4 72.8 L562.8 72.1 L564.2 71.3 L565.7 70.6 L567.1 69.8 L568.5 69.0 L569.9 68.2 L571.3 67.4 L572.7 66.6Z M586.6 63.2 L584.9 63.4 L583.1 63.7 L581.4 63.9 L579.6 64.2 L577.9 64.5 L576.1 64.8 L574.4 65.1 L572.6 65.4 L570.9 65.8 L569.1 66.2 L567.4 66.6 L565.6 67.0 L563.8 67.4 L562.1 67.9 L560.3 68.3 L558.6 68.8 L556.8 69.3 L555.1 69.9 L553.3 70.4 L551.6 71.0 L549.8 71.5 L548.1 72.1 L546.3 72.7 L544.6 73.3 L542.8 74.0 L541.0 74.6 L539.3 75.3 L537.5 76.0 L535.8 76.6 L534.0 77.3 L532.3 78.1 L530.5 78.8 L528.8 79.5 L527.0 80.3 L525.3 81.0 L523.5 81.8 L521.8 82.5 L520.0 83.3 L518.3 84.1 L516.5 84.8 L514.7 85.6 L513.0 86.4 L511.2 87.2 L509.5 87.9 L507.7 88.7 L506.0 89.5 L504.2 90.2 L502.5 91.0 L500.7 91.8 L499.0 92.5 L497.2 93.3 L495.5 94.0 L493.7 94.8 L492.0 95.5 L490.2 96.3 L488.4 97.0 L486.7 97.8 L484.9 98.5 L483.2 99.3 L481.4 100.1 L479.7 100.8 L477.9 101.6 L476.2 102.4 L474.4 103.1 L472.7 103.9 L470.9 104.7 L469.2 105.5 L467.4 106.3 L465.6 107.1 L463.9 108.0 L462.1 108.8 L460.4 109.7 L458.6 110.5 L456.9 111.4 L455.1 112.3 L453.4 113.2 L451.6 114.1 L449.9 115.1 L448.1 116.0 L446.4 117.0 L448.1 116.8 L449.9 116.5 L451.6 116.3 L453.4 116.0 L455.1 115.7 L456.9 115.4 L458.6 115.1 L460.4 114.8 L462.1 114.4 L463.9 114.0 L465.6 113.6 L467.4 113.2 L469.2 112.8 L470.9 112.3 L472.7 111.9 L474.4 111.4 L476.2 110.9 L477.9 110.3 L479.7 109.8 L481.4 109.2 L483.2 108.7 L484.9 108.1 L486.7 107.5 L488.4 106.9 L490.2 106.2 L492.0 105.6 L493.7 104.9 L495.5 104.2 L497.2 103.6 L499.0 102.9 L500.7 102.1 L502.5 101.4 L504.2 100.7 L506.0 99.9 L507.7 99.2 L509.5 98.4 L511.2 97.7 L513.0 96.9 L514.7 96.1 L516.5 95.3 L518.3 94.6 L520.0 93.8 L521.8 93.0 L523.5 92.3 L525.3 91.5 L527.0 90.7 L528.8 90.0 L530.5 89.2 L532.3 88.4 L534.0 87.7 L535.8 86.9 L537.5 86.2 L539.3 85.4 L541.0 84.7 L542.8 83.9 L544.6 83.2 L546.3 82.4 L548.1 81.7 L549.8 80.9 L551.6 80.1 L553.3 79.4 L555.1 78.6 L556.8 77.8 L558.6 77.1 L560.3 76.3 L562.1 75.5 L563.8 74.7 L565.6 73.9 L567.4 73.1 L569.1 72.2 L570.9 71.4 L572.6 70.5 L574.4 69.7 L576.1 68.8 L577.9 67.9 L579.6 67.0 L581.4 66.1 L583.1 65.1 L584.9 64.2 L586.6 63.2Z" fill="none" stroke="#d9161f" stroke-width="1.6" stroke-linejoin="round"/>
<path d="M202.5 253.1 L202.0 253.4 L201.4 253.7 L200.9 254.0 L200.4 254.4 L199.9 254.7 L199.3 255.0 L198.8 255.3 L198.3 255.6 L197.8 256.0 L197.2 256.3 L196.7 256.7 L196.2 257.0 L195.7 257.4 L195.2 257.7 L194.6 258.1 L194.1 258.4 L193.6 258.8 L193.1 259.2 L192.5 259.6 L192.0 259.9 L191.5 260.3 L190.9 260.7 L190.4 261.1 L189.9 261.5 L189.4 261.9 L188.8 262.3 L188.3 262.7 L187.8 263.1 L187.3 263.5 L186.8 264.0 L186.2 264.4 L185.7 264.8 L185.2 265.2 L184.7 265.6 L184.1 266.1 L183.6 266.5 L183.1 266.9 L182.6 267.4 L182.0 267.8 L181.5 268.2 L181.0 268.7 L180.4 269.1 L179.9 269.5 L179.4 270.0 L178.9 270.4 L178.3 270.9 L177.8 271.3 L177.3 271.8 L176.8 272.2 L176.2 272.7 L175.7 273.1 L175.2 273.6 L174.7 274.0 L174.2 274.5 L173.6 275.0 L173.1 275.4 L172.6 275.9 L172.1 276.4 L171.5 276.9 L171.0 277.3 L170.5 277.8 L169.9 278.3 L169.4 278.8 L168.9 279.3 L168.4 279.8 L167.8 280.3 L167.3 280.8 L166.8 281.3 L166.3 281.8 L165.8 282.3 L165.2 282.8 L164.7 283.3 L164.2 283.9 L163.7 284.4 L163.1 284.9 L162.6 285.5 L162.1 286.0 L161.6 286.6 L161.0 287.1 L160.5 287.7 L161.0 287.3 L161.6 287.0 L162.1 286.7 L162.6 286.3 L163.1 286.0 L163.7 285.6 L164.2 285.3 L164.7 284.9 L165.2 284.6 L165.8 284.2 L166.3 283.8 L166.8 283.4 L167.3 283.1 L167.8 282.7 L168.4 282.3 L168.9 281.9 L169.4 281.5 L169.9 281.1 L170.5 280.7 L171.0 280.3 L171.5 279.9 L172.1 279.5 L172.6 279.1 L173.1 278.7 L173.6 278.3 L174.2 277.9 L174.7 277.5 L175.2 277.1 L175.7 276.6 L176.2 276.2 L176.8 275.8 L177.3 275.4 L177.8 274.9 L178.3 274.5 L178.9 274.1 L179.4 273.6 L179.9 273.2 L180.4 272.8 L181.0 272.3 L181.5 271.9 L182.0 271.5 L182.6 271.0 L183.1 270.6 L183.6 270.1 L184.1 269.7 L184.7 269.3 L185.2 268.8 L185.7 268.4 L186.2 267.9 L186.8 267.5 L187.3 267.1 L187.8 266.6 L188.3 266.2 L188.8 265.7 L189.4 265.3 L189.9 264.8 L190.4 264.3 L190.9 263.9 L191.5 263.4 L192.0 263.0 L192.5 262.5 L193.1 262.0 L193.6 261.6 L194.1 261.1 L194.6 260.6 L195.2 260.1 L195.7 259.6 L196.2 259.2 L196.7 258.7 L197.2 258.2 L197.8 257.7 L198.3 257.2 L198.8 256.7 L199.3 256.2 L199.9 255.7 L200.4 255.2 L200.9 254.7 L201.4 254.2 L202.0 253.7 L202.5 253.1Z M222.4 242.6 L221.4 243.0 L220.4 243.4 L219.4 243.8 L218.4 244.3 L217.3 244.7 L216.3 245.2 L215.3 245.6 L214.3 246.1 L213.2 246.6 L212.2 247.1 L211.2 247.6 L210.2 248.1 L209.1 248.6 L208.1 249.2 L207.1 249.7 L206.1 250.3 L205.0 250.9 L204.0 251.5 L203.0 252.0 L202.0 252.6 L201.0 253.3 L199.9 253.9 L198.9 254.5 L197.9 255.1 L196.9 255.8 L195.8 256.4 L194.8 257.1 L193.8 257.8 L192.8 258.4 L191.7 259.1 L190.7 259.8 L189.7 260.5 L188.7 261.2 L187.6 261.9 L186.6 262.6 L185.6 263.3 L184.6 264.0 L183.5 264.7 L182.5 265.4 L181.5 266.2 L180.5 266.9 L179.5 267.6 L178.4 268.4 L177.4 269.1 L176.4 269.8 L175.4 270.6 L174.3 271.3 L173.3 272.0 L172.3 272.8 L171.3 273.5 L170.2 274.3 L169.2 275.1 L168.2 275.8 L167.2 276.6 L166.1 277.4 L165.1 278.1 L164.1 278.9 L163.1 279.7 L162.0 280.5 L161.0 281.3 L160.0 282.1 L159.0 282.9 L158.0 283.7 L156.9 284.5 L155.9 285.3 L154.9 286.2 L153.9 287.0 L152.8 287.8 L151.8 288.6 L150.8 289.5 L149.8 290.3 L148.7 291.2 L147.7 292.0 L146.7 292.9 L145.7 293.8 L144.6 294.6 L143.6 295.5 L142.6 296.4 L141.6 297.3 L140.6 298.2 L141.6 297.7 L142.6 297.3 L143.6 296.8 L144.6 296.3 L145.7 295.8 L146.7 295.3 L147.7 294.8 L148.7 294.2 L149.8 293.7 L150.8 293.1 L151.8 292.6 L152.8 292.0 L153.9 291.4 L154.9 290.9 L155.9 290.3 L156.9 289.7 L158.0 289.0 L159.0 288.4 L160.0 287.8 L161.0 287.2 L162.0 286.5 L163.1 285.9 L164.1 285.2 L165.1 284.5 L166.1 283.9 L167.2 283.2 L168.2 282.5 L169.2 281.8 L170.2 281.1 L171.3 280.4 L172.3 279.7 L173.3 279.0 L174.3 278.3 L175.4 277.6 L176.4 276.9 L177.4 276.2 L178.4 275.5 L179.5 274.7 L180.5 274.0 L181.5 273.3 L182.5 272.6 L183.5 271.9 L184.6 271.1 L185.6 270.4 L186.6 269.7 L187.6 268.9 L188.7 268.2 L189.7 267.5 L190.7 266.8 L191.7 266.0 L192.8 265.3 L193.8 264.5 L194.8 263.8 L195.8 263.0 L196.9 262.3 L197.9 261.5 L198.9 260.8 L199.9 260.0 L201.0 259.3 L202.0 258.5 L203.0 257.8 L204.0 257.0 L205.0 256.2 L206.1 255.4 L207.1 254.7 L208.1 253.9 L209.1 253.1 L210.2 252.3 L211.2 251.5 L212.2 250.7 L213.2 249.9 L214.3 249.1 L215.3 248.3 L216.3 247.5 L217.3 246.7 L218.4 245.9 L219.4 245.1 L220.4 244.3 L221.4 243.4 L222.4 242.6Z M243.4 233.6 L241.9 233.9 L240.4 234.3 L238.8 234.8 L237.3 235.2 L235.7 235.7 L234.2 236.2 L232.6 236.7 L231.1 237.3 L229.5 237.8 L228.0 238.4 L226.4 239.0 L224.9 239.7 L223.3 240.3 L221.8 241.0 L220.2 241.7 L218.7 242.4 L217.1 243.1 L215.6 243.9 L214.0 244.6 L212.5 245.4 L210.9 246.2 L209.4 247.0 L207.8 247.9 L206.3 248.7 L204.7 249.6 L203.2 250.5 L201.6 251.4 L200.1 252.3 L198.5 253.2 L197.0 254.1 L195.4 255.1 L193.9 256.1 L192.3 257.0 L190.8 258.0 L189.2 259.0 L187.7 260.0 L186.1 261.0 L184.6 262.0 L183.0 263.0 L181.5 264.0 L180.0 265.0 L178.4 266.0 L176.9 267.1 L175.3 268.1 L173.8 269.1 L172.2 270.2 L170.7 271.2 L169.1 272.2 L167.6 273.3 L166.0 274.3 L164.5 275.4 L162.9 276.4 L161.4 277.5 L159.8 278.6 L158.3 279.6 L156.7 280.7 L155.2 281.8 L153.6 282.8 L152.1 283.9 L150.5 285.0 L149.0 286.1 L147.4 287.2 L145.9 288.3 L144.3 289.4 L142.8 290.4 L141.2 291.5 L139.7 292.7 L138.1 293.8 L136.6 294.9 L135.0 296.0 L133.5 297.1 L131.9 298.2 L130.4 299.3 L128.8 300.4 L127.3 301.6 L125.7 302.7 L124.2 303.8 L122.6 305.0 L121.1 306.1 L119.6 307.2 L121.1 306.8 L122.6 306.3 L124.2 305.7 L125.7 305.2 L127.3 304.6 L128.8 304.0 L130.4 303.4 L131.9 302.8 L133.5 302.2 L135.0 301.5 L136.6 300.8 L138.1 300.1 L139.7 299.4 L141.2 298.7 L142.8 297.9 L144.3 297.1 L145.9 296.3 L147.4 295.5 L149.0 294.7 L150.5 293.9 L152.1 293.0 L153.6 292.2 L155.2 291.3 L156.7 290.4 L158.3 289.5 L159.8 288.6 L161.4 287.6 L162.9 286.7 L164.5 285.7 L166.0 284.8 L167.6 283.8 L169.1 282.8 L170.7 281.8 L172.2 280.8 L173.8 279.8 L175.3 278.8 L176.9 277.8 L178.4 276.8 L180.0 275.8 L181.5 274.8 L183.0 273.8 L184.6 272.8 L186.1 271.7 L187.7 270.7 L189.2 269.7 L190.8 268.7 L192.3 267.7 L193.9 266.6 L195.4 265.6 L197.0 264.6 L198.5 263.6 L200.1 262.5 L201.6 261.5 L203.2 260.5 L204.7 259.5 L206.3 258.4 L207.8 257.4 L209.4 256.4 L210.9 255.3 L212.5 254.3 L214.0 253.3 L215.6 252.2 L217.1 251.2 L218.7 250.2 L220.2 249.1 L221.8 248.1 L223.3 247.1 L224.9 246.0 L226.4 245.0 L228.0 243.9 L229.5 242.9 L231.1 241.9 L232.6 240.8 L234.2 239.8 L235.7 238.8 L237.3 237.7 L238.8 236.7 L240.4 235.6 L241.9 234.6 L243.4 233.6Z M263.4 227.2 L261.4 227.5 L259.3 227.8 L257.3 228.1 L255.2 228.5 L253.2 228.9 L251.1 229.4 L249.1 229.8 L247.0 230.4 L245.0 230.9 L242.9 231.5 L240.9 232.1 L238.8 232.8 L236.8 233.4 L234.7 234.2 L232.7 234.9 L230.6 235.7 L228.6 236.5 L226.5 237.4 L224.5 238.2 L222.4 239.1 L220.4 240.1 L218.4 241.0 L216.3 242.0 L214.3 243.0 L212.2 244.1 L210.2 245.1 L208.1 246.2 L206.1 247.3 L204.0 248.5 L202.0 249.6 L199.9 250.8 L197.9 252.0 L195.8 253.2 L193.8 254.4 L191.7 255.6 L189.7 256.9 L187.6 258.1 L185.6 259.4 L183.5 260.7 L181.5 261.9 L179.5 263.2 L177.4 264.5 L175.4 265.8 L173.3 267.1 L171.3 268.4 L169.2 269.7 L167.2 271.0 L165.1 272.3 L163.1 273.6 L161.0 274.9 L159.0 276.2 L156.9 277.5 L154.9 278.8 L152.8 280.1 L150.8 281.4 L148.7 282.7 L146.7 284.0 L144.6 285.3 L142.6 286.6 L140.6 287.9 L138.5 289.2 L136.5 290.5 L134.4 291.8 L132.4 293.1 L130.3 294.4 L128.3 295.7 L126.2 297.0 L124.2 298.3 L122.1 299.6 L120.1 300.8 L118.0 302.1 L116.0 303.4 L113.9 304.7 L111.9 305.9 L109.8 307.2 L107.8 308.5 L105.7 309.8 L103.7 311.0 L101.6 312.3 L99.6 313.6 L101.6 313.2 L103.7 312.7 L105.7 312.3 L107.8 311.8 L109.8 311.3 L111.9 310.7 L113.9 310.1 L116.0 309.5 L118.0 308.8 L120.1 308.2 L122.1 307.4 L124.2 306.7 L126.2 305.9 L128.3 305.1 L130.3 304.3 L132.4 303.4 L134.4 302.5 L136.5 301.6 L138.5 300.7 L140.6 299.7 L142.6 298.7 L144.6 297.7 L146.7 296.6 L148.7 295.5 L150.8 294.5 L152.8 293.3 L154.9 292.2 L156.9 291.1 L159.0 289.9 L161.0 288.7 L163.1 287.5 L165.1 286.3 L167.2 285.1 L169.2 283.8 L171.3 282.6 L173.3 281.3 L175.4 280.0 L177.4 278.8 L179.5 277.5 L181.5 276.2 L183.5 274.9 L185.6 273.6 L187.6 272.4 L189.7 271.1 L191.7 269.8 L193.8 268.5 L195.8 267.3 L197.9 266.0 L199.9 264.7 L202.0 263.4 L204.0 262.2 L206.1 260.9 L208.1 259.6 L210.2 258.4 L212.2 257.1 L214.3 255.8 L216.3 254.6 L218.4 253.3 L220.4 252.1 L222.4 250.9 L224.5 249.6 L226.5 248.4 L228.6 247.2 L230.6 246.0 L232.7 244.8 L234.7 243.6 L236.8 242.4 L238.8 241.2 L240.9 240.0 L242.9 238.8 L245.0 237.6 L247.0 236.4 L249.1 235.3 L251.1 234.1 L253.2 233.0 L255.2 231.8 L257.3 230.7 L259.3 229.5 L261.4 228.4 L263.4 227.2Z M285.2 222.9 L282.6 223.0 L280.1 223.1 L277.5 223.2 L274.9 223.4 L272.3 223.6 L269.7 223.9 L267.1 224.2 L264.5 224.6 L261.9 225.0 L259.3 225.5 L256.7 226.1 L254.1 226.6 L251.5 227.3 L248.9 227.9 L246.3 228.7 L243.7 229.4 L241.2 230.3 L238.6 231.1 L236.0 232.1 L233.4 233.0 L230.8 234.0 L228.2 235.1 L225.6 236.2 L223.0 237.3 L220.4 238.5 L217.8 239.7 L215.2 240.9 L212.6 242.2 L210.0 243.5 L207.4 244.9 L204.8 246.3 L202.2 247.7 L199.7 249.1 L197.1 250.6 L194.5 252.1 L191.9 253.6 L189.3 255.1 L186.7 256.6 L184.1 258.1 L181.5 259.7 L178.9 261.2 L176.3 262.8 L173.7 264.4 L171.1 265.9 L168.5 267.5 L165.9 269.0 L163.3 270.6 L160.8 272.2 L158.2 273.7 L155.6 275.3 L153.0 276.8 L150.4 278.4 L147.8 279.9 L145.2 281.4 L142.6 282.9 L140.0 284.5 L137.4 286.0 L134.8 287.4 L132.2 288.9 L129.6 290.4 L127.0 291.9 L124.4 293.3 L121.8 294.8 L119.3 296.2 L116.7 297.6 L114.1 299.0 L111.5 300.4 L108.9 301.8 L106.3 303.2 L103.7 304.5 L101.1 305.9 L98.5 307.3 L95.9 308.6 L93.3 309.9 L90.7 311.3 L88.1 312.6 L85.5 313.9 L82.9 315.2 L80.4 316.5 L77.8 317.9 L80.4 317.7 L82.9 317.4 L85.5 317.1 L88.1 316.8 L90.7 316.4 L93.3 316.0 L95.9 315.5 L98.5 315.0 L101.1 314.4 L103.7 313.8 L106.3 313.1 L108.9 312.5 L111.5 311.7 L114.1 310.9 L116.7 310.1 L119.3 309.2 L121.8 308.3 L124.4 307.3 L127.0 306.3 L129.6 305.3 L132.2 304.2 L134.8 303.1 L137.4 301.9 L140.0 300.7 L142.6 299.4 L145.2 298.2 L147.8 296.9 L150.4 295.5 L153.0 294.2 L155.6 292.8 L158.2 291.3 L160.8 289.9 L163.3 288.4 L165.9 286.9 L168.5 285.4 L171.1 283.9 L173.7 282.4 L176.3 280.8 L178.9 279.3 L181.5 277.8 L184.1 276.2 L186.7 274.7 L189.3 273.1 L191.9 271.6 L194.5 270.0 L197.1 268.5 L199.7 266.9 L202.2 265.4 L204.8 263.9 L207.4 262.4 L210.0 260.9 L212.6 259.4 L215.2 257.9 L217.8 256.4 L220.4 255.0 L223.0 253.5 L225.6 252.1 L228.2 250.7 L230.8 249.3 L233.4 247.9 L236.0 246.5 L238.6 245.1 L241.2 243.8 L243.7 242.5 L246.3 241.2 L248.9 239.9 L251.5 238.6 L254.1 237.3 L256.7 236.0 L259.3 234.8 L261.9 233.6 L264.5 232.3 L267.1 231.1 L269.7 229.9 L272.3 228.7 L274.9 227.6 L277.5 226.4 L280.1 225.2 L282.6 224.1 L285.2 222.9Z" fill="none" stroke="#d9161f" stroke-width="1.6" stroke-linejoin="round"/>
<path d="M537.5 246.2 L537.0 246.6 L536.5 247.0 L535.9 247.5 L535.4 247.9 L534.9 248.3 L534.4 248.8 L533.8 249.2 L533.3 249.7 L532.8 250.2 L532.2 250.7 L531.7 251.1 L531.2 251.6 L530.7 252.1 L530.1 252.6 L529.6 253.2 L529.1 253.7 L528.6 254.2 L528.0 254.7 L527.5 255.3 L527.0 255.8 L526.5 256.3 L526.0 256.9 L525.4 257.5 L524.9 258.0 L524.4 258.6 L523.9 259.2 L523.3 259.7 L522.8 260.3 L522.3 260.9 L521.8 261.5 L521.2 262.1 L520.7 262.7 L520.2 263.3 L519.6 263.9 L519.1 264.5 L518.6 265.2 L518.1 265.8 L517.5 266.4 L517.0 267.0 L516.5 267.7 L516.0 268.3 L515.5 269.0 L514.9 269.6 L514.4 270.3 L513.9 270.9 L513.4 271.6 L512.8 272.2 L512.3 272.9 L511.8 273.5 L511.2 274.2 L510.7 274.9 L510.2 275.5 L509.7 276.2 L509.1 276.9 L508.6 277.5 L508.1 278.2 L507.6 278.9 L507.1 279.6 L506.5 280.2 L506.0 280.9 L505.5 281.6 L504.9 282.3 L504.4 283.0 L503.9 283.6 L503.4 284.3 L502.9 285.0 L502.3 285.7 L501.8 286.4 L501.3 287.1 L500.8 287.8 L500.2 288.4 L499.7 289.1 L499.2 289.8 L498.6 290.5 L498.1 291.2 L497.6 291.9 L497.1 292.6 L496.6 293.2 L496.0 293.9 L495.5 294.6 L496.0 294.1 L496.6 293.6 L497.1 293.1 L497.6 292.7 L498.1 292.2 L498.6 291.6 L499.2 291.1 L499.7 290.6 L500.2 290.1 L500.8 289.6 L501.3 289.1 L501.8 288.5 L502.3 288.0 L502.9 287.5 L503.4 286.9 L503.9 286.4 L504.4 285.8 L504.9 285.3 L505.5 284.7 L506.0 284.2 L506.5 283.6 L507.1 283.0 L507.6 282.5 L508.1 281.9 L508.6 281.3 L509.1 280.7 L509.7 280.1 L510.2 279.6 L510.7 279.0 L511.2 278.4 L511.8 277.8 L512.3 277.2 L512.8 276.6 L513.4 276.0 L513.9 275.4 L514.4 274.7 L514.9 274.1 L515.5 273.5 L516.0 272.9 L516.5 272.3 L517.0 271.6 L517.5 271.0 L518.1 270.4 L518.6 269.8 L519.1 269.1 L519.6 268.5 L520.2 267.9 L520.7 267.2 L521.2 266.6 L521.8 265.9 L522.3 265.3 L522.8 264.7 L523.3 264.0 L523.9 263.4 L524.4 262.7 L524.9 262.1 L525.4 261.4 L526.0 260.8 L526.5 260.1 L527.0 259.4 L527.5 258.8 L528.0 258.1 L528.6 257.5 L529.1 256.8 L529.6 256.2 L530.1 255.5 L530.7 254.8 L531.2 254.2 L531.7 253.5 L532.2 252.9 L532.8 252.2 L533.3 251.5 L533.8 250.9 L534.4 250.2 L534.9 249.5 L535.4 248.9 L535.9 248.2 L536.5 247.5 L537.0 246.9 L537.5 246.2Z M558.5 232.6 L557.5 233.0 L556.4 233.5 L555.4 234.0 L554.3 234.5 L553.2 235.0 L552.2 235.6 L551.1 236.2 L550.1 236.8 L549.0 237.4 L548.0 238.0 L547.0 238.6 L545.9 239.3 L544.9 240.0 L543.8 240.7 L542.8 241.4 L541.7 242.1 L540.6 242.9 L539.6 243.7 L538.5 244.5 L537.5 245.3 L536.5 246.1 L535.4 247.0 L534.4 247.8 L533.3 248.7 L532.2 249.6 L531.2 250.5 L530.1 251.5 L529.1 252.4 L528.0 253.4 L527.0 254.4 L526.0 255.4 L524.9 256.4 L523.9 257.4 L522.8 258.5 L521.8 259.5 L520.7 260.6 L519.6 261.7 L518.6 262.8 L517.5 263.9 L516.5 265.0 L515.5 266.1 L514.4 267.2 L513.4 268.3 L512.3 269.4 L511.2 270.5 L510.2 271.7 L509.1 272.8 L508.1 273.9 L507.1 275.1 L506.0 276.2 L504.9 277.3 L503.9 278.5 L502.9 279.6 L501.8 280.7 L500.8 281.8 L499.7 282.9 L498.6 284.1 L497.6 285.2 L496.6 286.3 L495.5 287.4 L494.4 288.5 L493.4 289.5 L492.4 290.6 L491.3 291.7 L490.2 292.8 L489.2 293.8 L488.1 294.9 L487.1 296.0 L486.1 297.0 L485.0 298.1 L483.9 299.1 L482.9 300.1 L481.9 301.2 L480.8 302.2 L479.8 303.2 L478.7 304.2 L477.6 305.2 L476.6 306.2 L475.6 307.2 L474.5 308.2 L475.6 307.6 L476.6 307.0 L477.6 306.4 L478.7 305.8 L479.8 305.1 L480.8 304.5 L481.9 303.8 L482.9 303.1 L483.9 302.4 L485.0 301.7 L486.1 301.0 L487.1 300.2 L488.1 299.5 L489.2 298.7 L490.2 298.0 L491.3 297.2 L492.4 296.4 L493.4 295.5 L494.4 294.7 L495.5 293.8 L496.6 293.0 L497.6 292.1 L498.6 291.2 L499.7 290.3 L500.8 289.4 L501.8 288.4 L502.9 287.5 L503.9 286.5 L504.9 285.5 L506.0 284.6 L507.1 283.6 L508.1 282.5 L509.1 281.5 L510.2 280.5 L511.2 279.5 L512.3 278.4 L513.4 277.3 L514.4 276.3 L515.5 275.2 L516.5 274.1 L517.5 273.1 L518.6 272.0 L519.6 270.9 L520.7 269.8 L521.8 268.7 L522.8 267.6 L523.9 266.5 L524.9 265.4 L526.0 264.4 L527.0 263.3 L528.0 262.2 L529.1 261.1 L530.1 260.0 L531.2 258.9 L532.2 257.9 L533.3 256.8 L534.4 255.7 L535.4 254.7 L536.5 253.6 L537.5 252.6 L538.5 251.5 L539.6 250.5 L540.6 249.5 L541.7 248.4 L542.8 247.4 L543.8 246.4 L544.9 245.4 L545.9 244.4 L547.0 243.4 L548.0 242.4 L549.0 241.4 L550.1 240.4 L551.1 239.4 L552.2 238.4 L553.2 237.4 L554.3 236.4 L555.4 235.5 L556.4 234.5 L557.5 233.5 L558.5 232.6Z M579.5 222.6 L577.9 223.0 L576.4 223.5 L574.8 223.9 L573.2 224.4 L571.6 225.0 L570.0 225.5 L568.5 226.1 L566.9 226.7 L565.3 227.3 L563.8 227.9 L562.2 228.6 L560.6 229.3 L559.0 230.1 L557.5 230.8 L555.9 231.6 L554.3 232.4 L552.7 233.3 L551.1 234.2 L549.6 235.1 L548.0 236.1 L546.4 237.1 L544.9 238.1 L543.3 239.1 L541.7 240.2 L540.1 241.4 L538.5 242.6 L537.0 243.8 L535.4 245.0 L533.8 246.3 L532.2 247.6 L530.7 248.9 L529.1 250.3 L527.5 251.7 L526.0 253.2 L524.4 254.6 L522.8 256.1 L521.2 257.6 L519.6 259.1 L518.1 260.7 L516.5 262.2 L514.9 263.8 L513.4 265.4 L511.8 266.9 L510.2 268.5 L508.6 270.1 L507.1 271.7 L505.5 273.2 L503.9 274.8 L502.3 276.4 L500.8 277.9 L499.2 279.4 L497.6 280.9 L496.0 282.4 L494.4 283.9 L492.9 285.4 L491.3 286.8 L489.7 288.3 L488.1 289.7 L486.6 291.1 L485.0 292.5 L483.4 293.9 L481.9 295.2 L480.3 296.6 L478.7 297.9 L477.1 299.2 L475.6 300.6 L474.0 301.9 L472.4 303.2 L470.8 304.4 L469.2 305.7 L467.7 307.0 L466.1 308.3 L464.5 309.5 L462.9 310.8 L461.4 312.0 L459.8 313.3 L458.2 314.5 L456.6 315.8 L455.1 317.0 L453.5 318.2 L455.1 317.6 L456.6 316.9 L458.2 316.3 L459.8 315.6 L461.4 314.9 L462.9 314.2 L464.5 313.5 L466.1 312.7 L467.7 312.0 L469.2 311.2 L470.8 310.4 L472.4 309.6 L474.0 308.8 L475.6 307.9 L477.1 307.0 L478.7 306.1 L480.3 305.2 L481.9 304.2 L483.4 303.2 L485.0 302.2 L486.6 301.2 L488.1 300.1 L489.7 299.0 L491.3 297.9 L492.9 296.7 L494.4 295.5 L496.0 294.3 L497.6 293.0 L499.2 291.7 L500.8 290.4 L502.3 289.1 L503.9 287.7 L505.5 286.3 L507.1 284.9 L508.6 283.5 L510.2 282.0 L511.8 280.5 L513.4 279.0 L514.9 277.5 L516.5 276.0 L518.1 274.5 L519.6 273.0 L521.2 271.4 L522.8 269.9 L524.4 268.4 L526.0 266.9 L527.5 265.4 L529.1 263.9 L530.7 262.4 L532.2 260.9 L533.8 259.4 L535.4 258.0 L537.0 256.6 L538.5 255.1 L540.1 253.7 L541.7 252.4 L543.3 251.0 L544.9 249.7 L546.4 248.3 L548.0 247.0 L549.6 245.7 L551.1 244.4 L552.7 243.1 L554.3 241.9 L555.9 240.6 L557.5 239.4 L559.0 238.2 L560.6 236.9 L562.2 235.7 L563.8 234.5 L565.3 233.3 L566.9 232.1 L568.5 230.9 L570.0 229.7 L571.6 228.5 L573.2 227.3 L574.8 226.1 L576.4 225.0 L577.9 223.8 L579.5 222.6Z M600.5 214.5 L598.4 214.9 L596.3 215.3 L594.2 215.8 L592.1 216.3 L590.0 216.8 L587.9 217.3 L585.8 217.9 L583.7 218.5 L581.6 219.1 L579.5 219.8 L577.4 220.4 L575.3 221.2 L573.2 221.9 L571.1 222.7 L569.0 223.5 L566.9 224.3 L564.8 225.2 L562.7 226.1 L560.6 227.1 L558.5 228.1 L556.4 229.2 L554.3 230.3 L552.2 231.5 L550.1 232.7 L548.0 233.9 L545.9 235.3 L543.8 236.7 L541.7 238.1 L539.6 239.6 L537.5 241.2 L535.4 242.8 L533.3 244.5 L531.2 246.2 L529.1 248.0 L527.0 249.8 L524.9 251.7 L522.8 253.6 L520.7 255.6 L518.6 257.5 L516.5 259.5 L514.4 261.5 L512.3 263.5 L510.2 265.6 L508.1 267.6 L506.0 269.6 L503.9 271.5 L501.8 273.5 L499.7 275.4 L497.6 277.3 L495.5 279.2 L493.4 281.1 L491.3 282.9 L489.2 284.7 L487.1 286.4 L485.0 288.2 L482.9 289.8 L480.8 291.5 L478.7 293.1 L476.6 294.8 L474.5 296.4 L472.4 297.9 L470.3 299.5 L468.2 301.0 L466.1 302.5 L464.0 304.1 L461.9 305.6 L459.8 307.1 L457.7 308.5 L455.6 310.0 L453.5 311.5 L451.4 313.0 L449.3 314.5 L447.2 315.9 L445.1 317.4 L443.0 318.9 L440.9 320.4 L438.8 321.8 L436.7 323.3 L434.6 324.8 L432.5 326.3 L434.6 325.6 L436.7 324.9 L438.8 324.2 L440.9 323.5 L443.0 322.7 L445.1 322.0 L447.2 321.2 L449.3 320.4 L451.4 319.6 L453.5 318.8 L455.6 318.0 L457.7 317.1 L459.8 316.2 L461.9 315.3 L464.0 314.4 L466.1 313.5 L468.2 312.5 L470.3 311.4 L472.4 310.4 L474.5 309.3 L476.6 308.2 L478.7 307.0 L480.8 305.8 L482.9 304.5 L485.0 303.2 L487.1 301.9 L489.2 300.5 L491.3 299.0 L493.4 297.5 L495.5 295.9 L497.6 294.3 L499.7 292.6 L501.8 290.9 L503.9 289.2 L506.0 287.4 L508.1 285.5 L510.2 283.7 L512.3 281.7 L514.4 279.8 L516.5 277.9 L518.6 275.9 L520.7 274.0 L522.8 272.0 L524.9 270.1 L527.0 268.2 L529.1 266.3 L531.2 264.4 L533.3 262.5 L535.4 260.7 L537.5 258.9 L539.6 257.1 L541.7 255.4 L543.8 253.7 L545.9 252.1 L548.0 250.4 L550.1 248.8 L552.2 247.3 L554.3 245.7 L556.4 244.2 L558.5 242.7 L560.6 241.2 L562.7 239.8 L564.8 238.3 L566.9 236.9 L569.0 235.5 L571.1 234.1 L573.2 232.7 L575.3 231.3 L577.4 229.9 L579.5 228.5 L581.6 227.1 L583.7 225.7 L585.8 224.4 L587.9 223.0 L590.0 221.6 L592.1 220.2 L594.2 218.8 L596.3 217.3 L598.4 215.9 L600.5 214.5Z M620.2 207.8 L617.6 208.2 L615.1 208.7 L612.5 209.1 L609.9 209.6 L607.3 210.1 L604.7 210.7 L602.1 211.3 L599.5 211.9 L596.9 212.5 L594.3 213.1 L591.7 213.8 L589.1 214.5 L586.5 215.3 L583.9 216.1 L581.3 216.9 L578.7 217.7 L576.2 218.6 L573.6 219.6 L571.0 220.6 L568.4 221.6 L565.8 222.7 L563.2 223.8 L560.6 225.1 L558.0 226.3 L555.4 227.7 L552.8 229.1 L550.2 230.6 L547.6 232.1 L545.0 233.8 L542.4 235.5 L539.8 237.3 L537.2 239.2 L534.7 241.2 L532.1 243.2 L529.5 245.4 L526.9 247.6 L524.3 249.9 L521.7 252.2 L519.1 254.6 L516.5 257.0 L513.9 259.4 L511.3 261.8 L508.7 264.2 L506.1 266.6 L503.5 269.0 L500.9 271.3 L498.3 273.6 L495.8 275.8 L493.2 278.0 L490.6 280.1 L488.0 282.2 L485.4 284.2 L482.8 286.2 L480.2 288.1 L477.6 290.0 L475.0 291.9 L472.4 293.7 L469.8 295.5 L467.2 297.3 L464.6 299.0 L462.0 300.8 L459.4 302.5 L456.8 304.2 L454.3 305.8 L451.7 307.5 L449.1 309.2 L446.5 310.9 L443.9 312.6 L441.3 314.2 L438.7 315.9 L436.1 317.6 L433.5 319.3 L430.9 321.0 L428.3 322.6 L425.7 324.4 L423.1 326.1 L420.5 327.8 L417.9 329.5 L415.4 331.2 L412.8 333.0 L415.4 332.2 L417.9 331.5 L420.5 330.7 L423.1 329.9 L425.7 329.1 L428.3 328.3 L430.9 327.5 L433.5 326.6 L436.1 325.8 L438.7 324.9 L441.3 324.0 L443.9 323.1 L446.5 322.2 L449.1 321.3 L451.7 320.3 L454.3 319.3 L456.8 318.3 L459.4 317.2 L462.0 316.1 L464.6 315.0 L467.2 313.8 L469.8 312.6 L472.4 311.4 L475.0 310.0 L477.6 308.7 L480.2 307.2 L482.8 305.7 L485.4 304.1 L488.0 302.5 L490.6 300.7 L493.2 298.9 L495.8 297.0 L498.3 295.1 L500.9 293.0 L503.5 290.9 L506.1 288.8 L508.7 286.5 L511.3 284.3 L513.9 282.0 L516.5 279.6 L519.1 277.3 L521.7 275.0 L524.3 272.6 L526.9 270.3 L529.5 268.1 L532.1 265.8 L534.7 263.6 L537.2 261.5 L539.8 259.4 L542.4 257.4 L545.0 255.4 L547.6 253.5 L550.2 251.6 L552.8 249.8 L555.4 248.0 L558.0 246.3 L560.6 244.6 L563.2 242.9 L565.8 241.3 L568.4 239.6 L571.0 238.0 L573.6 236.5 L576.2 234.9 L578.7 233.3 L581.3 231.7 L583.9 230.2 L586.5 228.6 L589.1 227.1 L591.7 225.5 L594.3 224.0 L596.9 222.4 L599.5 220.8 L602.1 219.2 L604.7 217.6 L607.3 216.0 L609.9 214.4 L612.5 212.8 L615.1 211.1 L617.6 209.5 L620.2 207.8Z" fill="none" stroke="#d9161f" stroke-width="1.8" stroke-linejoin="round"/>
<path d="M198.8 442.1 L198.4 442.2 L198.0 442.4 L197.5 442.5 L197.1 442.6 L196.7 442.8 L196.2 442.9 L195.8 443.0 L195.4 443.2 L194.9 443.3 L194.5 443.5 L194.1 443.6 L193.6 443.8 L193.2 443.9 L192.8 444.1 L192.3 444.2 L191.9 444.4 L191.5 444.5 L191.0 444.7 L190.6 444.9 L190.2 445.0 L189.7 445.2 L189.3 445.4 L188.9 445.5 L188.4 445.7 L188.0 445.9 L187.6 446.0 L187.1 446.2 L186.7 446.4 L186.3 446.6 L185.8 446.8 L185.4 446.9 L185.0 447.1 L184.5 447.3 L184.1 447.5 L183.7 447.7 L183.2 447.9 L182.8 448.0 L182.4 448.2 L181.9 448.4 L181.5 448.6 L181.1 448.8 L180.6 449.0 L180.2 449.2 L179.8 449.4 L179.3 449.6 L178.9 449.8 L178.5 450.0 L178.0 450.2 L177.6 450.4 L177.2 450.6 L176.7 450.8 L176.3 451.0 L175.9 451.2 L175.4 451.4 L175.0 451.6 L174.6 451.8 L174.1 452.0 L173.7 452.2 L173.3 452.4 L172.8 452.7 L172.4 452.9 L172.0 453.1 L171.5 453.3 L171.1 453.5 L170.7 453.8 L170.2 454.0 L169.8 454.2 L169.4 454.4 L168.9 454.7 L168.5 454.9 L168.1 455.1 L167.6 455.4 L167.2 455.6 L166.8 455.8 L166.3 456.1 L165.9 456.3 L165.5 456.6 L165.0 456.8 L164.6 457.1 L164.2 457.3 L164.6 457.2 L165.0 457.0 L165.5 456.9 L165.9 456.8 L166.3 456.6 L166.8 456.5 L167.2 456.4 L167.6 456.2 L168.1 456.1 L168.5 455.9 L168.9 455.8 L169.4 455.6 L169.8 455.5 L170.2 455.3 L170.7 455.2 L171.1 455.0 L171.5 454.9 L172.0 454.7 L172.4 454.5 L172.8 454.4 L173.3 454.2 L173.7 454.0 L174.1 453.9 L174.6 453.7 L175.0 453.5 L175.4 453.4 L175.9 453.2 L176.3 453.0 L176.7 452.8 L177.2 452.6 L177.6 452.5 L178.0 452.3 L178.5 452.1 L178.9 451.9 L179.3 451.7 L179.8 451.5 L180.2 451.4 L180.6 451.2 L181.1 451.0 L181.5 450.8 L181.9 450.6 L182.4 450.4 L182.8 450.2 L183.2 450.0 L183.7 449.8 L184.1 449.6 L184.5 449.4 L185.0 449.2 L185.4 449.0 L185.8 448.8 L186.3 448.6 L186.7 448.4 L187.1 448.2 L187.6 448.0 L188.0 447.8 L188.4 447.6 L188.9 447.4 L189.3 447.2 L189.7 447.0 L190.2 446.7 L190.6 446.5 L191.0 446.3 L191.5 446.1 L191.9 445.9 L192.3 445.6 L192.8 445.4 L193.2 445.2 L193.6 445.0 L194.1 444.7 L194.5 444.5 L194.9 444.3 L195.4 444.0 L195.8 443.8 L196.2 443.6 L196.7 443.3 L197.1 443.1 L197.5 442.8 L198.0 442.6 L198.4 442.3 L198.8 442.1Z M216.2 438.4 L215.3 438.5 L214.4 438.7 L213.6 438.9 L212.7 439.0 L211.8 439.2 L211.0 439.4 L210.1 439.6 L209.2 439.7 L208.4 439.9 L207.5 440.1 L206.6 440.3 L205.8 440.5 L204.9 440.7 L204.0 440.9 L203.2 441.1 L202.3 441.4 L201.4 441.6 L200.6 441.8 L199.7 442.0 L198.8 442.3 L198.0 442.5 L197.1 442.7 L196.2 443.0 L195.4 443.2 L194.5 443.5 L193.6 443.7 L192.8 444.0 L191.9 444.2 L191.0 444.5 L190.2 444.8 L189.3 445.0 L188.4 445.3 L187.6 445.6 L186.7 445.8 L185.8 446.1 L185.0 446.4 L184.1 446.7 L183.2 446.9 L182.4 447.2 L181.5 447.5 L180.6 447.8 L179.8 448.1 L178.9 448.4 L178.0 448.7 L177.2 449.0 L176.3 449.3 L175.4 449.6 L174.6 449.9 L173.7 450.2 L172.8 450.5 L172.0 450.8 L171.1 451.1 L170.2 451.4 L169.4 451.8 L168.5 452.1 L167.6 452.4 L166.8 452.7 L165.9 453.1 L165.0 453.4 L164.2 453.7 L163.3 454.1 L162.4 454.4 L161.6 454.7 L160.7 455.1 L159.8 455.4 L159.0 455.8 L158.1 456.1 L157.2 456.5 L156.4 456.9 L155.5 457.2 L154.6 457.6 L153.8 458.0 L152.9 458.3 L152.0 458.7 L151.2 459.1 L150.3 459.5 L149.4 459.9 L148.6 460.2 L147.7 460.6 L146.8 461.0 L147.7 460.9 L148.6 460.7 L149.4 460.5 L150.3 460.4 L151.2 460.2 L152.0 460.0 L152.9 459.8 L153.8 459.7 L154.6 459.5 L155.5 459.3 L156.4 459.1 L157.2 458.9 L158.1 458.7 L159.0 458.5 L159.8 458.3 L160.7 458.0 L161.6 457.8 L162.4 457.6 L163.3 457.4 L164.2 457.1 L165.0 456.9 L165.9 456.7 L166.8 456.4 L167.6 456.2 L168.5 455.9 L169.4 455.7 L170.2 455.4 L171.1 455.2 L172.0 454.9 L172.8 454.6 L173.7 454.4 L174.6 454.1 L175.4 453.8 L176.3 453.6 L177.2 453.3 L178.0 453.0 L178.9 452.7 L179.8 452.5 L180.6 452.2 L181.5 451.9 L182.4 451.6 L183.2 451.3 L184.1 451.0 L185.0 450.7 L185.8 450.4 L186.7 450.1 L187.6 449.8 L188.4 449.5 L189.3 449.2 L190.2 448.9 L191.0 448.6 L191.9 448.3 L192.8 448.0 L193.6 447.6 L194.5 447.3 L195.4 447.0 L196.2 446.7 L197.1 446.3 L198.0 446.0 L198.8 445.7 L199.7 445.3 L200.6 445.0 L201.4 444.7 L202.3 444.3 L203.2 444.0 L204.0 443.6 L204.9 443.3 L205.8 442.9 L206.6 442.5 L207.5 442.2 L208.4 441.8 L209.2 441.4 L210.1 441.1 L211.0 440.7 L211.8 440.3 L212.7 439.9 L213.6 439.5 L214.4 439.2 L215.3 438.8 L216.2 438.4Z M234.0 435.0 L232.7 435.2 L231.4 435.3 L230.1 435.5 L228.8 435.7 L227.4 435.9 L226.1 436.1 L224.8 436.3 L223.5 436.5 L222.2 436.7 L220.9 437.0 L219.6 437.2 L218.2 437.4 L216.9 437.7 L215.6 437.9 L214.3 438.2 L213.0 438.4 L211.7 438.7 L210.4 439.0 L209.1 439.3 L207.8 439.6 L206.4 439.9 L205.1 440.2 L203.8 440.5 L202.5 440.8 L201.2 441.1 L199.9 441.4 L198.6 441.7 L197.2 442.1 L195.9 442.4 L194.6 442.7 L193.3 443.1 L192.0 443.4 L190.7 443.8 L189.4 444.2 L188.1 444.5 L186.8 444.9 L185.4 445.3 L184.1 445.6 L182.8 446.0 L181.5 446.4 L180.2 446.8 L178.9 447.2 L177.6 447.6 L176.2 447.9 L174.9 448.3 L173.6 448.7 L172.3 449.1 L171.0 449.5 L169.7 450.0 L168.4 450.4 L167.1 450.8 L165.8 451.2 L164.4 451.6 L163.1 452.0 L161.8 452.5 L160.5 452.9 L159.2 453.3 L157.9 453.8 L156.6 454.2 L155.2 454.7 L153.9 455.1 L152.6 455.6 L151.3 456.0 L150.0 456.5 L148.7 457.0 L147.4 457.4 L146.1 457.9 L144.8 458.4 L143.4 458.9 L142.1 459.4 L140.8 459.8 L139.5 460.3 L138.2 460.8 L136.9 461.3 L135.6 461.8 L134.2 462.3 L132.9 462.8 L131.6 463.4 L130.3 463.9 L129.0 464.4 L130.3 464.2 L131.6 464.1 L132.9 463.9 L134.2 463.7 L135.6 463.5 L136.9 463.3 L138.2 463.1 L139.5 462.9 L140.8 462.7 L142.1 462.4 L143.4 462.2 L144.8 462.0 L146.1 461.7 L147.4 461.5 L148.7 461.2 L150.0 461.0 L151.3 460.7 L152.6 460.4 L153.9 460.1 L155.2 459.8 L156.6 459.5 L157.9 459.2 L159.2 458.9 L160.5 458.6 L161.8 458.3 L163.1 458.0 L164.4 457.7 L165.8 457.3 L167.1 457.0 L168.4 456.7 L169.7 456.3 L171.0 456.0 L172.3 455.6 L173.6 455.2 L174.9 454.9 L176.2 454.5 L177.6 454.1 L178.9 453.8 L180.2 453.4 L181.5 453.0 L182.8 452.6 L184.1 452.2 L185.4 451.8 L186.8 451.5 L188.1 451.1 L189.4 450.7 L190.7 450.3 L192.0 449.9 L193.3 449.4 L194.6 449.0 L195.9 448.6 L197.2 448.2 L198.6 447.8 L199.9 447.4 L201.2 446.9 L202.5 446.5 L203.8 446.1 L205.1 445.6 L206.4 445.2 L207.8 444.7 L209.1 444.3 L210.4 443.8 L211.7 443.4 L213.0 442.9 L214.3 442.4 L215.6 442.0 L216.9 441.5 L218.2 441.0 L219.6 440.5 L220.9 440.0 L222.2 439.6 L223.5 439.1 L224.8 438.6 L226.1 438.1 L227.4 437.6 L228.8 437.1 L230.1 436.6 L231.4 436.0 L232.7 435.5 L234.0 435.0Z M250.8 432.4 L249.1 432.5 L247.3 432.7 L245.6 432.8 L243.9 433.0 L242.1 433.2 L240.4 433.4 L238.7 433.6 L236.9 433.8 L235.2 434.0 L233.5 434.3 L231.7 434.5 L230.0 434.8 L228.3 435.0 L226.5 435.3 L224.8 435.6 L223.1 435.9 L221.3 436.2 L219.6 436.5 L217.9 436.8 L216.2 437.2 L214.4 437.5 L212.7 437.9 L211.0 438.2 L209.2 438.6 L207.5 438.9 L205.8 439.3 L204.0 439.7 L202.3 440.1 L200.6 440.5 L198.8 440.9 L197.1 441.3 L195.4 441.8 L193.6 442.2 L191.9 442.6 L190.2 443.1 L188.4 443.5 L186.7 444.0 L185.0 444.4 L183.2 444.9 L181.5 445.3 L179.8 445.8 L178.0 446.3 L176.3 446.8 L174.6 447.2 L172.8 447.7 L171.1 448.2 L169.4 448.7 L167.6 449.2 L165.9 449.7 L164.2 450.2 L162.4 450.7 L160.7 451.2 L159.0 451.7 L157.2 452.2 L155.5 452.7 L153.8 453.3 L152.0 453.8 L150.3 454.3 L148.6 454.9 L146.8 455.4 L145.1 456.0 L143.4 456.5 L141.7 457.1 L139.9 457.6 L138.2 458.2 L136.5 458.7 L134.7 459.3 L133.0 459.9 L131.3 460.5 L129.5 461.0 L127.8 461.6 L126.1 462.2 L124.3 462.8 L122.6 463.4 L120.9 464.0 L119.1 464.6 L117.4 465.2 L115.7 465.8 L113.9 466.4 L112.2 467.0 L113.9 466.9 L115.7 466.7 L117.4 466.6 L119.1 466.4 L120.9 466.2 L122.6 466.0 L124.3 465.8 L126.1 465.6 L127.8 465.4 L129.5 465.1 L131.3 464.9 L133.0 464.6 L134.7 464.4 L136.5 464.1 L138.2 463.8 L139.9 463.5 L141.7 463.2 L143.4 462.9 L145.1 462.6 L146.8 462.2 L148.6 461.9 L150.3 461.5 L152.0 461.2 L153.8 460.8 L155.5 460.5 L157.2 460.1 L159.0 459.7 L160.7 459.3 L162.4 458.9 L164.2 458.5 L165.9 458.1 L167.6 457.6 L169.4 457.2 L171.1 456.8 L172.8 456.3 L174.6 455.9 L176.3 455.4 L178.0 455.0 L179.8 454.5 L181.5 454.1 L183.2 453.6 L185.0 453.1 L186.7 452.6 L188.4 452.2 L190.2 451.7 L191.9 451.2 L193.6 450.7 L195.4 450.2 L197.1 449.7 L198.8 449.2 L200.6 448.7 L202.3 448.2 L204.0 447.7 L205.8 447.2 L207.5 446.7 L209.2 446.1 L211.0 445.6 L212.7 445.1 L214.4 444.5 L216.2 444.0 L217.9 443.4 L219.6 442.9 L221.3 442.3 L223.1 441.8 L224.8 441.2 L226.5 440.7 L228.3 440.1 L230.0 439.5 L231.7 438.9 L233.5 438.4 L235.2 437.8 L236.9 437.2 L238.7 436.6 L240.4 436.0 L242.1 435.4 L243.9 434.8 L245.6 434.2 L247.3 433.6 L249.1 433.0 L250.8 432.4Z M268.6 430.3 L266.5 430.3 L264.3 430.5 L262.1 430.6 L259.9 430.7 L257.8 430.9 L255.6 431.0 L253.4 431.2 L251.2 431.4 L249.0 431.6 L246.9 431.8 L244.7 432.1 L242.5 432.3 L240.3 432.6 L238.1 432.9 L236.0 433.2 L233.8 433.5 L231.6 433.8 L229.4 434.1 L227.3 434.5 L225.1 434.8 L222.9 435.2 L220.7 435.6 L218.5 436.0 L216.4 436.4 L214.2 436.8 L212.0 437.2 L209.8 437.7 L207.6 438.1 L205.5 438.6 L203.3 439.1 L201.1 439.5 L198.9 440.0 L196.8 440.5 L194.6 441.0 L192.4 441.5 L190.2 442.1 L188.0 442.6 L185.9 443.1 L183.7 443.7 L181.5 444.2 L179.3 444.8 L177.1 445.3 L175.0 445.9 L172.8 446.4 L170.6 447.0 L168.4 447.6 L166.2 448.1 L164.1 448.7 L161.9 449.3 L159.7 449.9 L157.5 450.5 L155.4 451.1 L153.2 451.7 L151.0 452.3 L148.8 452.9 L146.6 453.5 L144.5 454.1 L142.3 454.8 L140.1 455.4 L137.9 456.0 L135.7 456.6 L133.6 457.3 L131.4 457.9 L129.2 458.5 L127.0 459.2 L124.9 459.8 L122.7 460.5 L120.5 461.1 L118.3 461.8 L116.1 462.4 L114.0 463.1 L111.8 463.8 L109.6 464.4 L107.4 465.1 L105.2 465.8 L103.1 466.4 L100.9 467.1 L98.7 467.8 L96.5 468.5 L94.4 469.1 L96.5 469.1 L98.7 468.9 L100.9 468.8 L103.1 468.7 L105.2 468.5 L107.4 468.4 L109.6 468.2 L111.8 468.0 L114.0 467.8 L116.1 467.6 L118.3 467.3 L120.5 467.1 L122.7 466.8 L124.9 466.5 L127.0 466.2 L129.2 465.9 L131.4 465.6 L133.6 465.3 L135.7 464.9 L137.9 464.6 L140.1 464.2 L142.3 463.8 L144.5 463.4 L146.6 463.0 L148.8 462.6 L151.0 462.2 L153.2 461.7 L155.4 461.3 L157.5 460.8 L159.7 460.3 L161.9 459.9 L164.1 459.4 L166.2 458.9 L168.4 458.4 L170.6 457.9 L172.8 457.3 L175.0 456.8 L177.1 456.3 L179.3 455.7 L181.5 455.2 L183.7 454.6 L185.9 454.1 L188.0 453.5 L190.2 453.0 L192.4 452.4 L194.6 451.8 L196.8 451.3 L198.9 450.7 L201.1 450.1 L203.3 449.5 L205.5 448.9 L207.6 448.3 L209.8 447.7 L212.0 447.1 L214.2 446.5 L216.4 445.9 L218.5 445.3 L220.7 444.6 L222.9 444.0 L225.1 443.4 L227.3 442.8 L229.4 442.1 L231.6 441.5 L233.8 440.9 L236.0 440.2 L238.1 439.6 L240.3 438.9 L242.5 438.3 L244.7 437.6 L246.9 437.0 L249.0 436.3 L251.2 435.6 L253.4 435.0 L255.6 434.3 L257.8 433.6 L259.9 433.0 L262.1 432.3 L264.3 431.6 L266.5 430.9 L268.6 430.3Z M285.0 428.9 L282.4 428.9 L279.9 429.0 L277.3 429.0 L274.7 429.1 L272.1 429.2 L269.5 429.3 L266.9 429.4 L264.3 429.6 L261.7 429.7 L259.1 429.9 L256.6 430.1 L254.0 430.4 L251.4 430.6 L248.8 430.9 L246.2 431.2 L243.6 431.5 L241.0 431.8 L238.4 432.1 L235.9 432.5 L233.3 432.8 L230.7 433.2 L228.1 433.6 L225.5 434.1 L222.9 434.5 L220.3 434.9 L217.7 435.4 L215.1 435.9 L212.6 436.4 L210.0 436.9 L207.4 437.4 L204.8 437.9 L202.2 438.5 L199.6 439.0 L197.0 439.6 L194.4 440.2 L191.9 440.8 L189.3 441.4 L186.7 442.0 L184.1 442.6 L181.5 443.2 L178.9 443.8 L176.3 444.4 L173.7 445.1 L171.1 445.7 L168.6 446.3 L166.0 447.0 L163.4 447.6 L160.8 448.3 L158.2 448.9 L155.6 449.6 L153.0 450.2 L150.4 450.9 L147.9 451.6 L145.3 452.3 L142.7 452.9 L140.1 453.6 L137.5 454.3 L134.9 455.0 L132.3 455.7 L129.7 456.4 L127.1 457.1 L124.6 457.8 L122.0 458.4 L119.4 459.1 L116.8 459.8 L114.2 460.5 L111.6 461.2 L109.0 461.9 L106.4 462.7 L103.9 463.4 L101.3 464.1 L98.7 464.8 L96.1 465.5 L93.5 466.2 L90.9 466.9 L88.3 467.6 L85.7 468.3 L83.1 469.1 L80.6 469.8 L78.0 470.5 L80.6 470.5 L83.1 470.4 L85.7 470.4 L88.3 470.3 L90.9 470.2 L93.5 470.1 L96.1 470.0 L98.7 469.8 L101.3 469.7 L103.9 469.5 L106.4 469.3 L109.0 469.0 L111.6 468.8 L114.2 468.5 L116.8 468.2 L119.4 467.9 L122.0 467.6 L124.6 467.3 L127.1 466.9 L129.7 466.6 L132.3 466.2 L134.9 465.8 L137.5 465.3 L140.1 464.9 L142.7 464.5 L145.3 464.0 L147.9 463.5 L150.4 463.0 L153.0 462.5 L155.6 462.0 L158.2 461.5 L160.8 460.9 L163.4 460.4 L166.0 459.8 L168.6 459.2 L171.1 458.6 L173.7 458.0 L176.3 457.4 L178.9 456.8 L181.5 456.2 L184.1 455.6 L186.7 455.0 L189.3 454.3 L191.9 453.7 L194.4 453.1 L197.0 452.4 L199.6 451.8 L202.2 451.1 L204.8 450.5 L207.4 449.8 L210.0 449.2 L212.6 448.5 L215.1 447.8 L217.7 447.1 L220.3 446.5 L222.9 445.8 L225.5 445.1 L228.1 444.4 L230.7 443.7 L233.3 443.0 L235.9 442.3 L238.4 441.6 L241.0 441.0 L243.6 440.3 L246.2 439.6 L248.8 438.9 L251.4 438.2 L254.0 437.5 L256.6 436.7 L259.1 436.0 L261.7 435.3 L264.3 434.6 L266.9 433.9 L269.5 433.2 L272.1 432.5 L274.7 431.8 L277.3 431.1 L279.9 430.3 L282.4 429.6 L285.0 428.9Z" fill="none" stroke="#d9161f" stroke-width="1.6" stroke-linejoin="round"/>
<path d="M537.5 435.0 L537.0 435.3 L536.5 435.6 L535.9 435.9 L535.4 436.2 L534.9 436.6 L534.4 436.9 L533.8 437.2 L533.3 437.5 L532.8 437.8 L532.2 438.2 L531.7 438.5 L531.2 438.8 L530.7 439.2 L530.1 439.5 L529.6 439.9 L529.1 440.2 L528.6 440.6 L528.0 440.9 L527.5 441.3 L527.0 441.6 L526.5 442.0 L526.0 442.4 L525.4 442.7 L524.9 443.1 L524.4 443.5 L523.9 443.9 L523.3 444.3 L522.8 444.7 L522.3 445.1 L521.8 445.5 L521.2 445.9 L520.7 446.3 L520.2 446.7 L519.6 447.1 L519.1 447.5 L518.6 447.9 L518.1 448.3 L517.5 448.7 L517.0 449.1 L516.5 449.6 L516.0 450.0 L515.5 450.4 L514.9 450.9 L514.4 451.3 L513.9 451.7 L513.4 452.2 L512.8 452.6 L512.3 453.1 L511.8 453.5 L511.2 454.0 L510.7 454.4 L510.2 454.9 L509.7 455.3 L509.1 455.8 L508.6 456.2 L508.1 456.7 L507.6 457.2 L507.1 457.6 L506.5 458.1 L506.0 458.6 L505.5 459.0 L504.9 459.5 L504.4 460.0 L503.9 460.5 L503.4 461.0 L502.9 461.4 L502.3 461.9 L501.8 462.4 L501.3 462.9 L500.8 463.4 L500.2 463.9 L499.7 464.4 L499.2 464.9 L498.6 465.4 L498.1 465.9 L497.6 466.3 L497.1 466.8 L496.6 467.3 L496.0 467.9 L495.5 468.4 L496.0 468.0 L496.6 467.7 L497.1 467.4 L497.6 467.0 L498.1 466.7 L498.6 466.3 L499.2 466.0 L499.7 465.7 L500.2 465.3 L500.8 464.9 L501.3 464.6 L501.8 464.2 L502.3 463.9 L502.9 463.5 L503.4 463.1 L503.9 462.8 L504.4 462.4 L504.9 462.0 L505.5 461.6 L506.0 461.3 L506.5 460.9 L507.1 460.5 L507.6 460.1 L508.1 459.7 L508.6 459.3 L509.1 458.9 L509.7 458.5 L510.2 458.1 L510.7 457.7 L511.2 457.3 L511.8 456.9 L512.3 456.5 L512.8 456.1 L513.4 455.7 L513.9 455.3 L514.4 454.8 L514.9 454.4 L515.5 454.0 L516.0 453.6 L516.5 453.1 L517.0 452.7 L517.5 452.3 L518.1 451.9 L518.6 451.4 L519.1 451.0 L519.6 450.6 L520.2 450.1 L520.7 449.7 L521.2 449.2 L521.8 448.8 L522.3 448.4 L522.8 447.9 L523.3 447.5 L523.9 447.0 L524.4 446.6 L524.9 446.1 L525.4 445.7 L526.0 445.2 L526.5 444.8 L527.0 444.3 L527.5 443.9 L528.0 443.4 L528.6 442.9 L529.1 442.5 L529.6 442.0 L530.1 441.6 L530.7 441.1 L531.2 440.6 L531.7 440.2 L532.2 439.7 L532.8 439.3 L533.3 438.8 L533.8 438.3 L534.4 437.9 L534.9 437.4 L535.4 436.9 L535.9 436.5 L536.5 436.0 L537.0 435.5 L537.5 435.0Z M558.5 425.3 L557.5 425.7 L556.4 426.0 L555.4 426.4 L554.3 426.8 L553.2 427.2 L552.2 427.6 L551.1 428.1 L550.1 428.5 L549.0 428.9 L548.0 429.4 L547.0 429.9 L545.9 430.3 L544.9 430.8 L543.8 431.3 L542.8 431.8 L541.7 432.3 L540.6 432.8 L539.6 433.4 L538.5 433.9 L537.5 434.5 L536.5 435.0 L535.4 435.6 L534.4 436.2 L533.3 436.8 L532.2 437.4 L531.2 438.0 L530.1 438.6 L529.1 439.3 L528.0 439.9 L527.0 440.6 L526.0 441.2 L524.9 441.9 L523.9 442.5 L522.8 443.2 L521.8 443.9 L520.7 444.6 L519.6 445.3 L518.6 446.0 L517.5 446.7 L516.5 447.4 L515.5 448.2 L514.4 448.9 L513.4 449.6 L512.3 450.4 L511.2 451.1 L510.2 451.9 L509.1 452.6 L508.1 453.4 L507.1 454.1 L506.0 454.9 L504.9 455.6 L503.9 456.4 L502.9 457.2 L501.8 457.9 L500.8 458.7 L499.7 459.5 L498.6 460.2 L497.6 461.0 L496.6 461.8 L495.5 462.5 L494.4 463.3 L493.4 464.1 L492.4 464.9 L491.3 465.6 L490.2 466.4 L489.2 467.2 L488.1 468.0 L487.1 468.7 L486.1 469.5 L485.0 470.3 L483.9 471.1 L482.9 471.8 L481.9 472.6 L480.8 473.4 L479.8 474.2 L478.7 475.0 L477.6 475.7 L476.6 476.5 L475.6 477.3 L474.5 478.1 L475.6 477.7 L476.6 477.2 L477.6 476.8 L478.7 476.3 L479.8 475.9 L480.8 475.4 L481.9 474.9 L482.9 474.4 L483.9 473.9 L485.0 473.4 L486.1 472.9 L487.1 472.4 L488.1 471.9 L489.2 471.3 L490.2 470.8 L491.3 470.2 L492.4 469.6 L493.4 469.1 L494.4 468.5 L495.5 467.9 L496.6 467.3 L497.6 466.7 L498.6 466.1 L499.7 465.5 L500.8 464.8 L501.8 464.2 L502.9 463.5 L503.9 462.9 L504.9 462.2 L506.0 461.6 L507.1 460.9 L508.1 460.2 L509.1 459.5 L510.2 458.8 L511.2 458.1 L512.3 457.4 L513.4 456.7 L514.4 456.0 L515.5 455.3 L516.5 454.6 L517.5 453.9 L518.6 453.1 L519.6 452.4 L520.7 451.7 L521.8 450.9 L522.8 450.2 L523.9 449.5 L524.9 448.7 L526.0 448.0 L527.0 447.3 L528.0 446.5 L529.1 445.8 L530.1 445.0 L531.2 444.3 L532.2 443.5 L533.3 442.8 L534.4 442.1 L535.4 441.3 L536.5 440.6 L537.5 439.8 L538.5 439.1 L539.6 438.4 L540.6 437.6 L541.7 436.9 L542.8 436.2 L543.8 435.4 L544.9 434.7 L545.9 434.0 L547.0 433.2 L548.0 432.5 L549.0 431.8 L550.1 431.1 L551.1 430.3 L552.2 429.6 L553.2 428.9 L554.3 428.2 L555.4 427.5 L556.4 426.7 L557.5 426.0 L558.5 425.3Z M579.5 417.6 L577.9 417.9 L576.4 418.3 L574.8 418.7 L573.2 419.2 L571.6 419.6 L570.0 420.0 L568.5 420.5 L566.9 421.0 L565.3 421.5 L563.8 422.0 L562.2 422.5 L560.6 423.0 L559.0 423.6 L557.5 424.2 L555.9 424.8 L554.3 425.4 L552.7 426.0 L551.1 426.6 L549.6 427.3 L548.0 428.0 L546.4 428.7 L544.9 429.4 L543.3 430.1 L541.7 430.9 L540.1 431.7 L538.5 432.5 L537.0 433.3 L535.4 434.1 L533.8 435.0 L532.2 435.8 L530.7 436.7 L529.1 437.6 L527.5 438.5 L526.0 439.5 L524.4 440.4 L522.8 441.4 L521.2 442.3 L519.6 443.3 L518.1 444.3 L516.5 445.3 L514.9 446.3 L513.4 447.4 L511.8 448.4 L510.2 449.4 L508.6 450.4 L507.1 451.5 L505.5 452.5 L503.9 453.5 L502.3 454.6 L500.8 455.6 L499.2 456.6 L497.6 457.7 L496.0 458.7 L494.4 459.7 L492.9 460.8 L491.3 461.8 L489.7 462.8 L488.1 463.8 L486.6 464.8 L485.0 465.9 L483.4 466.9 L481.9 467.9 L480.3 468.9 L478.7 469.9 L477.1 470.9 L475.6 471.9 L474.0 472.9 L472.4 473.9 L470.8 474.9 L469.2 475.9 L467.7 476.8 L466.1 477.8 L464.5 478.8 L462.9 479.8 L461.4 480.8 L459.8 481.8 L458.2 482.8 L456.6 483.8 L455.1 484.8 L453.5 485.8 L455.1 485.4 L456.6 484.9 L458.2 484.4 L459.8 483.9 L461.4 483.3 L462.9 482.8 L464.5 482.3 L466.1 481.7 L467.7 481.1 L469.2 480.5 L470.8 479.9 L472.4 479.3 L474.0 478.7 L475.6 478.1 L477.1 477.4 L478.7 476.7 L480.3 476.0 L481.9 475.3 L483.4 474.6 L485.0 473.9 L486.6 473.1 L488.1 472.4 L489.7 471.6 L491.3 470.8 L492.9 470.0 L494.4 469.1 L496.0 468.3 L497.6 467.4 L499.2 466.5 L500.8 465.7 L502.3 464.7 L503.9 463.8 L505.5 462.9 L507.1 461.9 L508.6 461.0 L510.2 460.0 L511.8 459.0 L513.4 458.0 L514.9 457.0 L516.5 456.0 L518.1 455.0 L519.6 454.0 L521.2 453.0 L522.8 452.0 L524.4 451.0 L526.0 449.9 L527.5 448.9 L529.1 447.9 L530.7 446.9 L532.2 445.9 L533.8 444.9 L535.4 443.9 L537.0 442.9 L538.5 441.9 L540.1 440.9 L541.7 439.9 L543.3 438.9 L544.9 437.9 L546.4 437.0 L548.0 436.0 L549.6 435.1 L551.1 434.1 L552.7 433.2 L554.3 432.2 L555.9 431.3 L557.5 430.3 L559.0 429.4 L560.6 428.5 L562.2 427.6 L563.8 426.7 L565.3 425.7 L566.9 424.8 L568.5 423.9 L570.0 423.0 L571.6 422.1 L573.2 421.2 L574.8 420.3 L576.4 419.4 L577.9 418.5 L579.5 417.6Z M600.5 411.1 L598.4 411.5 L596.3 411.9 L594.2 412.3 L592.1 412.7 L590.0 413.2 L587.9 413.6 L585.8 414.1 L583.7 414.6 L581.6 415.1 L579.5 415.7 L577.4 416.2 L575.3 416.8 L573.2 417.4 L571.1 418.0 L569.0 418.6 L566.9 419.3 L564.8 420.0 L562.7 420.7 L560.6 421.4 L558.5 422.1 L556.4 422.9 L554.3 423.7 L552.2 424.6 L550.1 425.5 L548.0 426.4 L545.9 427.3 L543.8 428.2 L541.7 429.2 L539.6 430.3 L537.5 431.3 L535.4 432.4 L533.3 433.5 L531.2 434.6 L529.1 435.8 L527.0 437.0 L524.9 438.2 L522.8 439.4 L520.7 440.7 L518.6 441.9 L516.5 443.2 L514.4 444.5 L512.3 445.8 L510.2 447.1 L508.1 448.4 L506.0 449.7 L503.9 451.0 L501.8 452.3 L499.7 453.6 L497.6 454.9 L495.5 456.2 L493.4 457.4 L491.3 458.7 L489.2 459.9 L487.1 461.2 L485.0 462.4 L482.9 463.7 L480.8 464.9 L478.7 466.1 L476.6 467.3 L474.5 468.5 L472.4 469.7 L470.3 470.9 L468.2 472.1 L466.1 473.2 L464.0 474.4 L461.9 475.6 L459.8 476.8 L457.7 478.0 L455.6 479.1 L453.5 480.3 L451.4 481.5 L449.3 482.7 L447.2 483.9 L445.1 485.1 L443.0 486.2 L440.9 487.4 L438.8 488.7 L436.7 489.9 L434.6 491.1 L432.5 492.3 L434.6 491.8 L436.7 491.3 L438.8 490.7 L440.9 490.2 L443.0 489.6 L445.1 489.0 L447.2 488.4 L449.3 487.8 L451.4 487.2 L453.5 486.6 L455.6 485.9 L457.7 485.2 L459.8 484.6 L461.9 483.8 L464.0 483.1 L466.1 482.4 L468.2 481.6 L470.3 480.8 L472.4 480.0 L474.5 479.2 L476.6 478.4 L478.7 477.5 L480.8 476.6 L482.9 475.7 L485.0 474.7 L487.1 473.7 L489.2 472.7 L491.3 471.7 L493.4 470.6 L495.5 469.5 L497.6 468.4 L499.7 467.3 L501.8 466.1 L503.9 464.9 L506.0 463.7 L508.1 462.5 L510.2 461.3 L512.3 460.0 L514.4 458.8 L516.5 457.5 L518.6 456.2 L520.7 454.9 L522.8 453.6 L524.9 452.3 L527.0 451.0 L529.1 449.8 L531.2 448.5 L533.3 447.2 L535.4 445.9 L537.5 444.7 L539.6 443.5 L541.7 442.2 L543.8 441.0 L545.9 439.8 L548.0 438.6 L550.1 437.5 L552.2 436.3 L554.3 435.1 L556.4 434.0 L558.5 432.9 L560.6 431.7 L562.7 430.6 L564.8 429.5 L566.9 428.4 L569.0 427.3 L571.1 426.2 L573.2 425.1 L575.3 424.1 L577.4 423.0 L579.5 421.9 L581.6 420.8 L583.7 419.7 L585.8 418.7 L587.9 417.6 L590.0 416.5 L592.1 415.4 L594.2 414.4 L596.3 413.3 L598.4 412.2 L600.5 411.1Z M620.2 405.7 L617.6 406.1 L615.1 406.5 L612.5 406.9 L609.9 407.4 L607.3 407.9 L604.7 408.3 L602.1 408.8 L599.5 409.3 L596.9 409.9 L594.3 410.4 L591.7 411.0 L589.1 411.6 L586.5 412.2 L583.9 412.9 L581.3 413.5 L578.7 414.2 L576.2 414.9 L573.6 415.7 L571.0 416.4 L568.4 417.2 L565.8 418.1 L563.2 418.9 L560.6 419.8 L558.0 420.8 L555.4 421.7 L552.8 422.8 L550.2 423.8 L547.6 424.9 L545.0 426.1 L542.4 427.2 L539.8 428.5 L537.2 429.8 L534.7 431.1 L532.1 432.4 L529.5 433.8 L526.9 435.2 L524.3 436.7 L521.7 438.2 L519.1 439.7 L516.5 441.2 L513.9 442.7 L511.3 444.3 L508.7 445.8 L506.1 447.4 L503.5 448.9 L500.9 450.5 L498.3 452.0 L495.8 453.5 L493.2 455.0 L490.6 456.5 L488.0 457.9 L485.4 459.4 L482.8 460.8 L480.2 462.2 L477.6 463.6 L475.0 465.0 L472.4 466.4 L469.8 467.7 L467.2 469.1 L464.6 470.4 L462.0 471.8 L459.4 473.1 L456.8 474.4 L454.3 475.8 L451.7 477.1 L449.1 478.4 L446.5 479.8 L443.9 481.1 L441.3 482.4 L438.7 483.8 L436.1 485.1 L433.5 486.5 L430.9 487.9 L428.3 489.2 L425.7 490.6 L423.1 492.0 L420.5 493.4 L417.9 494.8 L415.4 496.3 L412.8 497.7 L415.4 497.1 L417.9 496.6 L420.5 496.0 L423.1 495.4 L425.7 494.8 L428.3 494.1 L430.9 493.5 L433.5 492.8 L436.1 492.2 L438.7 491.5 L441.3 490.8 L443.9 490.1 L446.5 489.4 L449.1 488.6 L451.7 487.8 L454.3 487.0 L456.8 486.2 L459.4 485.4 L462.0 484.5 L464.6 483.7 L467.2 482.7 L469.8 481.8 L472.4 480.8 L475.0 479.8 L477.6 478.8 L480.2 477.7 L482.8 476.6 L485.4 475.4 L488.0 474.2 L490.6 473.0 L493.2 471.7 L495.8 470.4 L498.3 469.1 L500.9 467.7 L503.5 466.3 L506.1 464.8 L508.7 463.4 L511.3 461.9 L513.9 460.4 L516.5 458.8 L519.1 457.3 L521.7 455.8 L524.3 454.2 L526.9 452.7 L529.5 451.2 L532.1 449.7 L534.7 448.2 L537.2 446.7 L539.8 445.2 L542.4 443.8 L545.0 442.4 L547.6 441.0 L550.2 439.6 L552.8 438.2 L555.4 436.9 L558.0 435.6 L560.6 434.3 L563.2 433.0 L565.8 431.7 L568.4 430.5 L571.0 429.2 L573.6 428.0 L576.2 426.7 L578.7 425.5 L581.3 424.3 L583.9 423.0 L586.5 421.8 L589.1 420.6 L591.7 419.4 L594.3 418.1 L596.9 416.9 L599.5 415.7 L602.1 414.5 L604.7 413.2 L607.3 412.0 L609.9 410.7 L612.5 409.5 L615.1 408.2 L617.6 407.0 L620.2 405.7Z" fill="none" stroke="#d9161f" stroke-width="1.6" stroke-linejoin="round"/>
<text x="67.8" y="26.2" class="lb">a</text>
<text transform="translate(63.4,47.3) scale(1.42,1)" class="eps" style="font-size:14.4px">ε</text>
<text x="71.9" y="52.1" class="eps" letter-spacing="0.35">s=0.009</text>
<text x="403.7" y="26.0" class="lb">b</text>
<text transform="translate(402.0,46.7) scale(1.42,1)" class="eps" style="font-size:14.4px">ε</text>
<text x="410.5" y="51.5" class="eps" letter-spacing="0.35">s=0.012</text>
<text x="67.2" y="205.6" class="lb">c</text>
<text transform="translate(63.6,227.3) scale(1.42,1)" class="eps" style="font-size:14.4px">ε</text>
<text x="72.1" y="232.1" class="eps" letter-spacing="0.35">s=0.022</text>
<text x="404.3" y="205.6" class="lb">d</text>
<text transform="translate(402.2,227.2) scale(1.42,1)" class="eps" style="font-size:14.4px">ε</text>
<text x="410.7" y="232.0" class="eps" letter-spacing="0.35">s=0.026</text>
<text x="66.7" y="387.6" class="lb">e</text>
<text transform="translate(63.4,406.5) scale(1.42,1)" class="eps" style="font-size:14.4px">ε</text>
<text x="71.9" y="411.3" class="eps" letter-spacing="0.35">s=0.030</text>
<text x="405.1" y="387.6" class="lb">f</text>
<text transform="translate(402.2,406.0) scale(1.42,1)" class="eps" style="font-size:14.4px">ε</text>
<text x="410.7" y="410.8" class="eps" letter-spacing="0.35">s=0.036</text>
<line x1="447" y1="302" x2="586" y2="238" stroke="#1c3a94" stroke-width="2.6" stroke-linecap="round"/>
<text x="546.8" y="269.4" style="font-size:14.8px;fill:#2d6bb5">Stoichiometric</text>
<text x="546.8" y="285.6" style="font-size:14.8px;fill:#2d6bb5">composition</text>
<text transform="translate(11.0,90.1) rotate(-90)" text-anchor="middle" style="font-size:12px;fill:#111;stroke:#111;stroke-width:0.3px"><tspan font-style="italic">P</tspan> (μC cm<tspan dy="-4" style="font-size:8px">-2</tspan><tspan dy="4">)</tspan></text>
<text transform="translate(349.5,90.1) rotate(-90)" text-anchor="middle" style="font-size:12px;fill:#111;stroke:#111;stroke-width:0.3px"><tspan font-style="italic">P</tspan> (μC cm<tspan dy="-4" style="font-size:8px">-2</tspan><tspan dy="4">)</tspan></text>
<text transform="translate(11.0,270.4) rotate(-90)" text-anchor="middle" style="font-size:12px;fill:#111;stroke:#111;stroke-width:0.3px"><tspan font-style="italic">P</tspan> (μC cm<tspan dy="-4" style="font-size:8px">-2</tspan><tspan dy="4">)</tspan></text>
<text transform="translate(349.5,270.4) rotate(-90)" text-anchor="middle" style="font-size:12px;fill:#111;stroke:#111;stroke-width:0.3px"><tspan font-style="italic">P</tspan> (μC cm<tspan dy="-4" style="font-size:8px">-2</tspan><tspan dy="4">)</tspan></text>
<text transform="translate(11.0,449.7) rotate(-90)" text-anchor="middle" style="font-size:12px;fill:#111;stroke:#111;stroke-width:0.3px"><tspan font-style="italic">P</tspan> (μC cm<tspan dy="-4" style="font-size:8px">-2</tspan><tspan dy="4">)</tspan></text>
<text transform="translate(349.5,451.7) rotate(-90)" text-anchor="middle" style="font-size:12px;fill:#111;stroke:#111;stroke-width:0.3px"><tspan font-style="italic">P</tspan> (μC cm<tspan dy="-4" style="font-size:8px">-2</tspan><tspan dy="4">)</tspan></text>
<text x="51.1" y="551.2" class="tk" text-anchor="middle">-1200</text>
<text x="94.1" y="551.2" class="tk" text-anchor="middle">-800</text>
<text x="135.4" y="551.2" class="tk" text-anchor="middle">-400</text>
<text x="179.8" y="551.2" class="tk" text-anchor="middle">0</text>
<text x="220.3" y="551.2" class="tk" text-anchor="middle">400</text>
<text x="262.0" y="551.2" class="tk" text-anchor="middle">800</text>
<text x="303.2" y="551.2" class="tk" text-anchor="middle">1200</text>
<text x="180.5" y="576.7" text-anchor="middle" style="font-size:12px;fill:#111;stroke:#111;stroke-width:0.3px"><tspan font-style="italic">E</tspan> (kV cm<tspan dy="-4" style="font-size:8px">-1</tspan><tspan dy="4">)</tspan></text>
<text x="387.9" y="553.1" class="tk" text-anchor="middle">-1200</text>
<text x="430.0" y="553.1" class="tk" text-anchor="middle">-800</text>
<text x="472.5" y="553.1" class="tk" text-anchor="middle">-400</text>
<text x="516.2" y="553.1" class="tk" text-anchor="middle">0</text>
<text x="556.8" y="553.1" class="tk" text-anchor="middle">400</text>
<text x="598.5" y="553.1" class="tk" text-anchor="middle">800</text>
<text x="640.2" y="553.1" class="tk" text-anchor="middle">1200</text>
<text x="515.5" y="578.6" text-anchor="middle" style="font-size:12px;fill:#111;stroke:#111;stroke-width:0.3px"><tspan font-style="italic">E</tspan> (kV cm<tspan dy="-4" style="font-size:8px">-1</tspan><tspan dy="4">)</tspan></text>
<path d="M55.5 602.5h4 M55.5 606.7h2 M55.5 610.9h2 M55.5 615.0h2 M55.5 619.2h2 M55.5 623.4h4 M55.5 627.6h2 M55.5 631.8h2 M55.5 635.9h2 M55.5 640.1h2 M55.5 644.3h4 M55.5 648.5h2 M55.5 652.7h2 M55.5 656.8h2 M55.5 661.0h2 M55.5 665.2h4 M55.5 669.4h2 M55.5 673.6h2 M55.5 677.7h2 M55.5 681.9h2 M55.5 686.1h4 M55.5 690.3h2 M55.5 694.5h2 M55.5 698.6h2 M55.5 702.8h2 M55.5 707.0h4 M55.5 711.2h2 M55.5 715.4h2 M55.5 719.5h2 M55.5 723.7h2 M55.5 727.9h4 M55.5 732.1h2 M55.5 736.3h2 M55.5 740.4h2 M55.5 744.6h2 M55.5 748.8h4 M55.5 753.0h2 M55.5 757.2h2 M55.5 761.3h2 M55.5 765.5h2 M55.5 769.7h4 M55.5 769.7v-3.5 M65.6 769.7v-2 M75.6 769.7v-2 M85.7 769.7v-2 M95.7 769.7v-2 M105.8 769.7v-3.5 M115.9 769.7v-2 M125.9 769.7v-2 M136.0 769.7v-2 M146.0 769.7v-2 M156.1 769.7v-3.5 M166.2 769.7v-2 M176.2 769.7v-2 M186.3 769.7v-2 M196.3 769.7v-2 M206.4 769.7v-3.5 M216.5 769.7v-2 M226.5 769.7v-2 M236.6 769.7v-2 M246.6 769.7v-2 M256.7 769.7v-3.5 M266.8 769.7v-2 M276.8 769.7v-2 M286.9 769.7v-2 M296.9 769.7v-2 M307.0 769.7v-3.5" stroke="#3c3c3c" stroke-width="1.1" fill="none"/>
<rect x="55.5" y="602.5" width="251.5" height="167.2" fill="none" stroke="#3c3c3c" stroke-width="1.3"/>
<text x="47.5" y="608.1" class="tk" text-anchor="end">800</text>
<text x="47.5" y="629.0" class="tk" text-anchor="end">700</text>
<text x="47.5" y="649.9" class="tk" text-anchor="end">600</text>
<text x="47.5" y="670.8" class="tk" text-anchor="end">500</text>
<text x="47.5" y="691.7" class="tk" text-anchor="end">400</text>
<text x="47.5" y="712.6" class="tk" text-anchor="end">300</text>
<text x="47.5" y="733.5" class="tk" text-anchor="end">200</text>
<text x="47.5" y="754.4" class="tk" text-anchor="end">100</text>
<text x="47.5" y="775.3" class="tk" text-anchor="end">0</text>
<text x="55.5" y="786.7" class="tk" text-anchor="middle">0</text>
<text x="105.8" y="786.7" class="tk" text-anchor="middle">100</text>
<text x="156.1" y="786.7" class="tk" text-anchor="middle">200</text>
<text x="206.4" y="786.7" class="tk" text-anchor="middle">300</text>
<text x="256.7" y="786.7" class="tk" text-anchor="middle">400</text>
<text x="307.0" y="786.7" class="tk" text-anchor="middle">500</text>
<text x="181.2" y="810.7" text-anchor="middle" style="font-size:12px;fill:#111;stroke:#111;stroke-width:0.3px"><tspan font-style="italic">T</tspan> (<tspan dy="-4" style="font-size:8px">o</tspan><tspan dy="4">C)</tspan></text>
<text transform="translate(13.2,686.1) rotate(-90)" text-anchor="middle" style="font-size:14px;fill:#111;stroke:#111;stroke-width:0.3px">ε<tspan dy="3" style="font-size:10px">r</tspan></text>
<line x1="226.3" y1="602.5" x2="226.3" y2="769.7" stroke="#248d50" stroke-width="1.8" stroke-dasharray="5.4 3.49" stroke-dashoffset="5.8"/>
<path d="M80.7 750.7 C83.0 749.7 89.1 747.8 94.7 744.6 C100.4 741.5 107.7 735.2 114.4 731.7 C121.0 728.1 127.8 725.6 134.5 723.5 C141.1 721.4 148.0 719.9 154.1 718.9 C160.2 717.9 166.5 717.9 171.2 717.5 C175.9 717.0 178.9 717.0 182.3 716.2 C185.6 715.4 188.4 714.3 191.3 712.4 C194.2 710.6 197.4 707.5 199.9 704.9 C202.3 702.3 204.2 700.1 205.9 696.8 C207.6 693.4 208.7 689.5 209.9 684.8 C211.1 680.2 211.8 673.9 212.9 669.0 C214.1 664.0 215.5 659.3 217.0 655.2 C218.5 651.0 220.4 646.5 222.0 644.1 C223.6 641.7 224.9 640.9 226.5 640.7 C228.1 640.6 229.9 641.5 231.6 643.3 C233.2 645.0 235.1 647.5 236.6 651.2 C238.1 654.9 239.4 659.9 240.6 665.2 C241.8 670.5 242.4 678.3 243.6 683.0 C244.8 687.6 245.7 689.0 247.6 693.0 C249.6 697.0 251.6 702.5 255.2 706.8 C258.8 711.1 264.2 715.0 269.3 718.7 C274.3 722.4 279.8 725.6 285.4 728.7 C291.0 731.9 300.0 736.1 303.0 737.5" fill="none" stroke="#d9161f" stroke-width="1.4"/>
<g fill="#d9161f"><circle cx="231.2" cy="630.2" r="1.45"/><circle cx="238.7" cy="632.1" r="1.45"/><circle cx="221.3" cy="637.3" r="1.45"/><circle cx="229.2" cy="637.3" r="1.45"/><circle cx="202.8" cy="652.2" r="1.45"/><circle cx="202.4" cy="659.1" r="1.45"/><circle cx="236.5" cy="650.6" r="1.45"/><circle cx="222.3" cy="657.5" r="1.45"/><circle cx="223.5" cy="664.1" r="1.45"/><circle cx="218.7" cy="669.4" r="1.45"/><circle cx="216.3" cy="672.4" r="1.45"/><circle cx="213.3" cy="664.5" r="1.45"/><circle cx="212.7" cy="678.4" r="1.45"/><circle cx="212.7" cy="681.3" r="1.45"/><circle cx="196.9" cy="677.0" r="1.45"/><circle cx="207.8" cy="684.3" r="1.45"/><circle cx="199.4" cy="689.7" r="1.45"/><circle cx="210.4" cy="692.3" r="1.45"/><circle cx="211.7" cy="693.3" r="1.45"/><circle cx="209.4" cy="694.8" r="1.45"/><circle cx="225.6" cy="687.3" r="1.45"/><circle cx="228.6" cy="688.3" r="1.45"/><circle cx="225.6" cy="694.8" r="1.45"/><circle cx="229.2" cy="698.2" r="1.45"/><circle cx="195.5" cy="699.2" r="1.45"/><circle cx="199.8" cy="700.2" r="1.45"/><circle cx="194.9" cy="704.2" r="1.45"/><circle cx="199.4" cy="704.2" r="1.45"/><circle cx="205.4" cy="703.2" r="1.45"/><circle cx="206.2" cy="711.1" r="1.45"/><circle cx="232.6" cy="705.8" r="1.45"/><circle cx="237.5" cy="674.4" r="1.45"/><circle cx="237.1" cy="680.4" r="1.45"/><circle cx="241.5" cy="685.3" r="1.45"/><circle cx="243.5" cy="697.2" r="1.45"/><circle cx="244.5" cy="697.6" r="1.45"/><circle cx="242.5" cy="708.1" r="1.45"/><circle cx="243.1" cy="712.1" r="1.45"/><circle cx="247.5" cy="704.2" r="1.45"/><circle cx="248.5" cy="715.1" r="1.45"/><circle cx="250.4" cy="710.1" r="1.45"/><circle cx="248.5" cy="720.0" r="1.45"/><circle cx="251.4" cy="722.0" r="1.45"/><circle cx="245.5" cy="727.0" r="1.45"/><circle cx="252.4" cy="701.2" r="1.45"/><circle cx="255.4" cy="698.2" r="1.45"/><circle cx="256.4" cy="708.1" r="1.45"/><circle cx="259.4" cy="702.2" r="1.45"/><circle cx="261.3" cy="699.2" r="1.45"/><circle cx="263.3" cy="700.2" r="1.45"/><circle cx="266.3" cy="704.2" r="1.45"/><circle cx="267.3" cy="699.2" r="1.45"/><circle cx="273.3" cy="701.2" r="1.45"/><circle cx="274.2" cy="703.2" r="1.45"/><circle cx="271.3" cy="707.1" r="1.45"/><circle cx="273.3" cy="710.1" r="1.45"/><circle cx="259.4" cy="711.1" r="1.45"/><circle cx="261.3" cy="714.1" r="1.45"/><circle cx="264.3" cy="711.1" r="1.45"/><circle cx="265.3" cy="717.1" r="1.45"/><circle cx="270.3" cy="716.1" r="1.45"/><circle cx="271.3" cy="719.0" r="1.45"/><circle cx="275.2" cy="719.0" r="1.45"/><circle cx="275.2" cy="721.0" r="1.45"/><circle cx="279.2" cy="714.7" r="1.45"/><circle cx="263.3" cy="726.0" r="1.45"/><circle cx="264.3" cy="724.0" r="1.45"/><circle cx="265.3" cy="730.0" r="1.45"/><circle cx="262.3" cy="727.0" r="1.45"/><circle cx="279.2" cy="727.0" r="1.45"/><circle cx="288.1" cy="732.9" r="1.45"/><circle cx="287.1" cy="732.5" r="1.45"/><circle cx="290.1" cy="740.9" r="1.45"/><circle cx="294.7" cy="719.6" r="1.45"/><circle cx="301.4" cy="707.7" r="1.45"/><circle cx="301.8" cy="722.0" r="1.45"/><circle cx="180.0" cy="725.0" r="1.45"/><circle cx="183.0" cy="729.0" r="1.45"/><circle cx="188.9" cy="717.1" r="1.45"/><circle cx="189.9" cy="719.0" r="1.45"/><circle cx="189.9" cy="726.0" r="1.45"/><circle cx="191.9" cy="728.0" r="1.45"/><circle cx="196.9" cy="717.1" r="1.45"/><circle cx="199.8" cy="719.0" r="1.45"/><circle cx="204.8" cy="711.1" r="1.45"/><circle cx="181.0" cy="711.1" r="1.45"/><circle cx="80.8" cy="751.2" r="1.45"/><circle cx="81.7" cy="749.1" r="1.45"/><circle cx="83.2" cy="751.1" r="1.45"/><circle cx="85.2" cy="749.1" r="1.45"/><circle cx="86.3" cy="746.1" r="1.45"/><circle cx="87.8" cy="747.0" r="1.45"/><circle cx="89.3" cy="749.9" r="1.45"/><circle cx="90.9" cy="744.5" r="1.45"/><circle cx="92.8" cy="748.7" r="1.45"/><circle cx="94.1" cy="748.1" r="1.45"/><circle cx="96.1" cy="743.4" r="1.45"/><circle cx="97.0" cy="743.0" r="1.45"/><circle cx="98.6" cy="741.4" r="1.45"/><circle cx="100.6" cy="740.2" r="1.45"/><circle cx="101.9" cy="738.9" r="1.45"/><circle cx="103.2" cy="736.7" r="1.45"/><circle cx="104.4" cy="738.6" r="1.45"/><circle cx="106.0" cy="737.2" r="1.45"/><circle cx="107.6" cy="736.8" r="1.45"/><circle cx="109.4" cy="736.8" r="1.45"/><circle cx="111.1" cy="735.5" r="1.45"/><circle cx="112.5" cy="732.5" r="1.45"/><circle cx="113.9" cy="731.9" r="1.45"/><circle cx="115.7" cy="728.8" r="1.45"/><circle cx="117.3" cy="730.8" r="1.45"/><circle cx="118.0" cy="731.6" r="1.45"/><circle cx="119.5" cy="732.2" r="1.45"/><circle cx="121.4" cy="727.3" r="1.45"/><circle cx="123.2" cy="725.5" r="1.45"/><circle cx="124.5" cy="726.9" r="1.45"/><circle cx="126.1" cy="725.8" r="1.45"/><circle cx="127.5" cy="727.5" r="1.45"/><circle cx="129.3" cy="727.6" r="1.45"/><circle cx="130.9" cy="726.1" r="1.45"/><circle cx="131.5" cy="727.3" r="1.45"/><circle cx="133.7" cy="723.5" r="1.45"/><circle cx="135.3" cy="727.0" r="1.45"/><circle cx="136.3" cy="727.8" r="1.45"/><circle cx="137.5" cy="724.8" r="1.45"/><circle cx="139.5" cy="720.5" r="1.45"/><circle cx="140.6" cy="721.5" r="1.45"/><circle cx="142.8" cy="720.8" r="1.45"/><circle cx="143.9" cy="720.3" r="1.45"/><circle cx="145.9" cy="719.9" r="1.45"/><circle cx="147.1" cy="718.8" r="1.45"/><circle cx="148.9" cy="719.2" r="1.45"/><circle cx="149.8" cy="718.3" r="1.45"/><circle cx="151.5" cy="722.9" r="1.45"/><circle cx="153.5" cy="721.6" r="1.45"/><circle cx="154.2" cy="715.8" r="1.45"/><circle cx="155.8" cy="717.7" r="1.45"/><circle cx="157.6" cy="716.4" r="1.45"/><circle cx="158.6" cy="720.7" r="1.45"/><circle cx="160.5" cy="719.7" r="1.45"/><circle cx="162.6" cy="721.2" r="1.45"/><circle cx="163.8" cy="714.9" r="1.45"/><circle cx="165.3" cy="722.6" r="1.45"/><circle cx="166.2" cy="718.3" r="1.45"/><circle cx="168.5" cy="713.0" r="1.45"/><circle cx="170.0" cy="721.0" r="1.45"/><circle cx="170.8" cy="720.1" r="1.45"/><circle cx="172.8" cy="715.2" r="1.45"/><circle cx="173.9" cy="716.0" r="1.45"/><circle cx="175.4" cy="716.5" r="1.45"/><circle cx="176.7" cy="717.4" r="1.45"/><circle cx="178.4" cy="715.7" r="1.45"/><circle cx="179.8" cy="713.9" r="1.45"/><circle cx="80.7" cy="750.7" r="1.45"/><circle cx="82.2" cy="751.6" r="1.45"/><circle cx="83.7" cy="753.1" r="1.45"/><circle cx="85.2" cy="752.8" r="1.45"/><circle cx="86.7" cy="752.4" r="1.45"/><circle cx="88.2" cy="752.4" r="1.45"/><circle cx="89.7" cy="753.2" r="1.45"/><circle cx="91.2" cy="750.8" r="1.45"/><circle cx="92.7" cy="750.3" r="1.45"/><circle cx="96.7" cy="738.4" r="1.45"/><circle cx="97.8" cy="736.5" r="1.45"/><circle cx="98.8" cy="734.6" r="1.45"/><circle cx="99.8" cy="732.7" r="1.45"/><circle cx="100.8" cy="730.8" r="1.45"/><circle cx="101.8" cy="728.9" r="1.45"/><circle cx="102.8" cy="727.1" r="1.45"/></g>
<text x="67.0" y="622.3" class="lb">e’</text>
<text transform="translate(63.6,645.3) scale(1.42,1)" class="eps" style="font-size:14.4px">ε</text>
<text x="72.1" y="650.1" class="eps" letter-spacing="0.35">s=0.030</text>
<text x="230" y="618.6" style="font-size:14px;fill:#111;stroke:#111;stroke-width:0.3px">340<tspan dy="-3.3" style="font-size:10px">O</tspan><tspan dy="3.3" dx="0.5">C</tspan></text>
<path d="M390.7 602.3h4 M390.7 609.0h2 M390.7 615.7h2 M390.7 622.4h2 M390.7 629.1h2 M390.7 635.8h4 M390.7 642.5h2 M390.7 649.2h2 M390.7 655.9h2 M390.7 662.6h2 M390.7 669.3h4 M390.7 676.0h2 M390.7 682.7h2 M390.7 689.4h2 M390.7 696.1h2 M390.7 702.8h4 M390.7 709.5h2 M390.7 716.2h2 M390.7 722.9h2 M390.7 729.6h2 M390.7 736.3h4 M390.7 743.0h2 M390.7 749.7h2 M390.7 756.4h2 M390.7 763.1h2 M390.7 769.8h4 M390.7 769.8v-3.5 M400.8 769.8v-2 M410.8 769.8v-2 M420.9 769.8v-2 M430.9 769.8v-2 M441.0 769.8v-3.5 M451.0 769.8v-2 M461.1 769.8v-2 M471.1 769.8v-2 M481.2 769.8v-2 M491.2 769.8v-3.5 M501.3 769.8v-2 M511.3 769.8v-2 M521.4 769.8v-2 M531.4 769.8v-2 M541.5 769.8v-3.5 M551.5 769.8v-2 M561.6 769.8v-2 M571.6 769.8v-2 M581.7 769.8v-2 M591.7 769.8v-3.5 M601.8 769.8v-2 M611.8 769.8v-2 M621.9 769.8v-2 M631.9 769.8v-2 M642.0 769.8v-3.5" stroke="#3c3c3c" stroke-width="1.1" fill="none"/>
<rect x="390.7" y="602.3" width="251.3" height="167.5" fill="none" stroke="#3c3c3c" stroke-width="1.3"/>
<text x="382.7" y="607.9" class="tk" text-anchor="end">500</text>
<text x="382.7" y="641.4" class="tk" text-anchor="end">400</text>
<text x="382.7" y="674.9" class="tk" text-anchor="end">300</text>
<text x="382.7" y="708.4" class="tk" text-anchor="end">200</text>
<text x="382.7" y="741.9" class="tk" text-anchor="end">100</text>
<text x="382.7" y="775.4" class="tk" text-anchor="end">0</text>
<text x="390.7" y="786.8" class="tk" text-anchor="middle">0</text>
<text x="441.0" y="786.8" class="tk" text-anchor="middle">100</text>
<text x="491.2" y="786.8" class="tk" text-anchor="middle">200</text>
<text x="541.5" y="786.8" class="tk" text-anchor="middle">300</text>
<text x="591.7" y="786.8" class="tk" text-anchor="middle">400</text>
<text x="642.0" y="786.8" class="tk" text-anchor="middle">500</text>
<text x="516.4" y="810.8" text-anchor="middle" style="font-size:12px;fill:#111;stroke:#111;stroke-width:0.3px"><tspan font-style="italic">T</tspan> (<tspan dy="-4" style="font-size:8px">o</tspan><tspan dy="4">C)</tspan></text>
<text transform="translate(348.4,686.0) rotate(-90)" text-anchor="middle" style="font-size:14px;fill:#111;stroke:#111;stroke-width:0.3px">ε<tspan dy="3" style="font-size:10px">r</tspan></text>
<line x1="601.4" y1="602.3" x2="601.4" y2="769.8" stroke="#248d50" stroke-width="1.8" stroke-dasharray="5.4 3.43" stroke-dashoffset="5.2"/>
<path d="M408.8 706.1 C410.0 707.1 412.3 710.2 415.8 711.8 C419.3 713.5 424.3 714.4 429.9 715.9 C435.5 717.4 443.0 719.3 449.5 720.9 C456.0 722.5 462.5 724.2 469.1 725.6 C475.7 726.9 482.6 728.0 489.2 728.9 C495.8 729.8 503.7 730.6 508.8 730.9 C513.9 731.3 516.9 731.1 519.9 730.9 C522.9 730.8 525.7 730.1 526.9 729.9" fill="none" stroke="#d9161f" stroke-width="3.5"/>
<path d="M519.9 730.9 C521.0 730.8 523.8 730.9 526.9 729.9 C530.0 728.9 534.5 727.1 538.5 724.9 C542.4 722.7 546.8 720.8 550.5 716.9 C554.2 712.9 557.6 706.7 560.6 701.1 C563.6 695.5 566.4 689.3 568.6 683.4 C570.9 677.5 572.2 671.2 574.1 665.6 C576.1 660.0 577.8 654.8 580.2 649.9 C582.5 644.9 585.5 639.8 588.2 635.8 C590.9 631.8 593.9 628.2 596.3 626.1 C598.6 624.0 600.0 623.7 602.3 623.1 C604.6 622.4 607.6 621.6 609.8 622.1 C612.1 622.6 614.2 623.5 615.9 626.1 C617.5 628.7 618.4 633.2 619.9 637.8 C621.4 642.4 623.4 647.6 624.9 653.9 C626.4 660.2 627.6 668.5 628.9 675.7 C630.3 682.9 631.8 689.9 633.0 697.1 C634.1 704.3 635.0 713.2 636.0 718.9 C637.0 724.5 638.0 727.3 639.0 730.9 C640.0 734.6 641.5 739.3 642.0 741.0" fill="none" stroke="#d9161f" stroke-width="1.4"/>
<g fill="#d9161f"><circle cx="576.8" cy="661.4" r="1.25"/><circle cx="531.5" cy="728.7" r="1.25"/><circle cx="621.5" cy="640.7" r="1.25"/><circle cx="636.1" cy="721.1" r="1.25"/><circle cx="585.7" cy="635.3" r="1.25"/><circle cx="639.5" cy="728.1" r="1.25"/><circle cx="550.0" cy="717.3" r="1.25"/><circle cx="614.3" cy="638.4" r="1.25"/><circle cx="559.1" cy="702.0" r="1.25"/><circle cx="641.8" cy="730.4" r="1.25"/><circle cx="618.3" cy="637.2" r="1.25"/><circle cx="582.0" cy="646.2" r="1.25"/><circle cx="522.5" cy="730.8" r="1.25"/><circle cx="604.8" cy="620.5" r="1.25"/><circle cx="634.0" cy="696.4" r="1.25"/><circle cx="563.6" cy="693.7" r="1.25"/><circle cx="543.7" cy="720.6" r="1.25"/><circle cx="630.9" cy="677.4" r="1.25"/><circle cx="598.4" cy="627.5" r="1.25"/><circle cx="599.8" cy="618.3" r="1.25"/><circle cx="610.4" cy="630.3" r="1.25"/><circle cx="616.1" cy="634.1" r="1.25"/><circle cx="639.9" cy="732.3" r="1.25"/><circle cx="636.0" cy="715.5" r="1.25"/><circle cx="534.0" cy="724.5" r="1.25"/><circle cx="619.8" cy="626.2" r="1.25"/><circle cx="640.9" cy="735.0" r="1.25"/><circle cx="585.7" cy="638.5" r="1.25"/><circle cx="638.5" cy="731.6" r="1.25"/><circle cx="632.9" cy="710.9" r="1.25"/><circle cx="621.3" cy="639.3" r="1.25"/><circle cx="555.6" cy="709.7" r="1.25"/><circle cx="552.0" cy="717.8" r="1.25"/><circle cx="631.2" cy="689.0" r="1.25"/><circle cx="591.5" cy="628.1" r="1.25"/><circle cx="631.3" cy="696.3" r="1.25"/><circle cx="583.3" cy="640.1" r="1.25"/><circle cx="541.5" cy="719.9" r="1.25"/><circle cx="540.1" cy="726.5" r="1.25"/><circle cx="587.6" cy="641.4" r="1.25"/><circle cx="588.2" cy="637.2" r="1.25"/><circle cx="587.4" cy="636.9" r="1.25"/><circle cx="614.7" cy="635.6" r="1.25"/><circle cx="612.4" cy="620.4" r="1.25"/><circle cx="593.8" cy="638.6" r="1.25"/><circle cx="604.1" cy="635.4" r="1.25"/><circle cx="578.1" cy="650.5" r="1.25"/><circle cx="626.3" cy="661.2" r="1.25"/><circle cx="587.5" cy="625.1" r="1.25"/><circle cx="535.1" cy="724.8" r="1.25"/><circle cx="528.5" cy="729.5" r="1.25"/><circle cx="601.7" cy="624.9" r="1.25"/><circle cx="536.0" cy="725.7" r="1.25"/><circle cx="535.2" cy="722.5" r="1.25"/><circle cx="544.3" cy="717.0" r="1.25"/><circle cx="578.6" cy="645.7" r="1.25"/><circle cx="538.6" cy="726.6" r="1.25"/><circle cx="561.1" cy="700.1" r="1.25"/><circle cx="608.5" cy="618.1" r="1.25"/><circle cx="573.2" cy="666.3" r="1.25"/><circle cx="595.8" cy="631.8" r="1.25"/><circle cx="640.1" cy="732.3" r="1.25"/><circle cx="529.4" cy="727.9" r="1.25"/><circle cx="615.0" cy="627.7" r="1.25"/><circle cx="571.3" cy="671.5" r="1.25"/><circle cx="549.8" cy="712.6" r="1.25"/><circle cx="590.8" cy="636.3" r="1.25"/><circle cx="525.6" cy="730.7" r="1.25"/><circle cx="526.9" cy="727.4" r="1.25"/><circle cx="617.1" cy="620.8" r="1.25"/><circle cx="528.0" cy="728.7" r="1.25"/><circle cx="559.9" cy="707.5" r="1.25"/><circle cx="551.2" cy="712.3" r="1.25"/><circle cx="549.0" cy="717.0" r="1.25"/><circle cx="525.4" cy="729.8" r="1.25"/><circle cx="557.2" cy="707.5" r="1.25"/><circle cx="579.7" cy="647.8" r="1.25"/><circle cx="521.9" cy="730.8" r="1.25"/><circle cx="609.3" cy="630.2" r="1.25"/><circle cx="577.1" cy="655.6" r="1.25"/><circle cx="619.5" cy="641.6" r="1.25"/><circle cx="622.1" cy="647.1" r="1.25"/><circle cx="604.2" cy="621.5" r="1.25"/><circle cx="621.3" cy="644.0" r="1.25"/><circle cx="567.5" cy="683.7" r="1.25"/><circle cx="535.1" cy="724.0" r="1.25"/><circle cx="551.0" cy="716.3" r="1.25"/><circle cx="622.8" cy="641.9" r="1.25"/><circle cx="552.6" cy="712.0" r="1.25"/><circle cx="576.2" cy="660.5" r="1.25"/><circle cx="552.1" cy="707.8" r="1.25"/><circle cx="585.7" cy="638.9" r="1.25"/><circle cx="559.3" cy="706.8" r="1.25"/><circle cx="565.9" cy="693.0" r="1.25"/><circle cx="543.8" cy="721.8" r="1.25"/><circle cx="551.4" cy="712.9" r="1.25"/><circle cx="524.5" cy="728.9" r="1.25"/><circle cx="547.6" cy="722.0" r="1.25"/><circle cx="610.7" cy="632.0" r="1.25"/><circle cx="625.9" cy="668.5" r="1.25"/><circle cx="640.6" cy="730.9" r="1.25"/><circle cx="599.2" cy="616.3" r="1.25"/><circle cx="629.2" cy="678.9" r="1.25"/><circle cx="617.8" cy="630.5" r="1.25"/><circle cx="581.8" cy="644.8" r="1.25"/><circle cx="619.2" cy="647.5" r="1.25"/><circle cx="602.0" cy="629.3" r="1.25"/><circle cx="522.1" cy="729.5" r="1.25"/><circle cx="532.4" cy="726.7" r="1.25"/><circle cx="595.2" cy="636.0" r="1.25"/><circle cx="578.1" cy="645.5" r="1.25"/><circle cx="611.0" cy="634.4" r="1.25"/><circle cx="600.0" cy="618.2" r="1.25"/><circle cx="550.5" cy="715.2" r="1.25"/><circle cx="609.0" cy="623.2" r="1.25"/><circle cx="640.4" cy="735.0" r="1.25"/><circle cx="577.9" cy="658.7" r="1.25"/><circle cx="593.4" cy="631.7" r="1.25"/><circle cx="536.7" cy="725.6" r="1.25"/><circle cx="557.8" cy="708.2" r="1.25"/><circle cx="526.3" cy="730.3" r="1.25"/><circle cx="605.4" cy="630.0" r="1.25"/><circle cx="581.8" cy="650.3" r="1.25"/><circle cx="533.7" cy="726.2" r="1.25"/><circle cx="638.9" cy="731.3" r="1.25"/><circle cx="575.3" cy="659.0" r="1.25"/><circle cx="572.1" cy="665.7" r="1.25"/><circle cx="635.9" cy="712.8" r="1.25"/><circle cx="537.5" cy="729.9" r="1.25"/><circle cx="534.9" cy="725.5" r="1.25"/><circle cx="627.1" cy="671.8" r="1.25"/><circle cx="628.8" cy="679.1" r="1.25"/><circle cx="519.3" cy="732.8" r="1.25"/><circle cx="556.1" cy="706.5" r="1.25"/><circle cx="558.4" cy="705.4" r="1.25"/><circle cx="611.3" cy="624.4" r="1.25"/><circle cx="632.5" cy="699.0" r="1.25"/><circle cx="552.7" cy="712.7" r="1.25"/><circle cx="642.5" cy="743.7" r="1.25"/><circle cx="571.1" cy="674.0" r="1.25"/><circle cx="531.7" cy="727.3" r="1.25"/><circle cx="633.4" cy="705.1" r="1.25"/><circle cx="582.5" cy="645.6" r="1.25"/><circle cx="637.4" cy="715.9" r="1.25"/><circle cx="595.5" cy="615.2" r="1.25"/><circle cx="585.4" cy="639.1" r="1.25"/><circle cx="608.8" cy="636.7" r="1.25"/><circle cx="598.7" cy="629.0" r="1.25"/><circle cx="633.3" cy="694.2" r="1.25"/><circle cx="561.9" cy="701.3" r="1.25"/><circle cx="640.5" cy="731.6" r="1.25"/><circle cx="557.2" cy="711.3" r="1.25"/><circle cx="539.1" cy="723.6" r="1.25"/><circle cx="630.9" cy="686.4" r="1.25"/><circle cx="630.5" cy="679.4" r="1.25"/><circle cx="536.0" cy="725.7" r="1.25"/><circle cx="561.3" cy="698.4" r="1.25"/><circle cx="551.0" cy="722.3" r="1.25"/><circle cx="610.4" cy="632.1" r="1.25"/><circle cx="583.9" cy="646.8" r="1.25"/><circle cx="527.1" cy="730.7" r="1.25"/><circle cx="536.7" cy="729.1" r="1.25"/><circle cx="625.1" cy="654.3" r="1.25"/><circle cx="550.2" cy="720.2" r="1.25"/><circle cx="636.9" cy="715.6" r="1.25"/><circle cx="520.1" cy="728.1" r="1.25"/><circle cx="629.4" cy="682.1" r="1.25"/><circle cx="519.1" cy="733.9" r="1.25"/><circle cx="621.8" cy="633.2" r="1.25"/><circle cx="547.5" cy="716.2" r="1.25"/><circle cx="583.5" cy="648.6" r="1.25"/><circle cx="605.8" cy="633.5" r="1.25"/><circle cx="573.9" cy="663.7" r="1.25"/><circle cx="615.1" cy="625.8" r="1.25"/><circle cx="600.4" cy="629.7" r="1.25"/><circle cx="550.3" cy="720.4" r="1.25"/><circle cx="531.6" cy="725.6" r="1.25"/><circle cx="591.1" cy="637.5" r="1.25"/><circle cx="593.3" cy="626.1" r="1.25"/><circle cx="575.6" cy="657.7" r="1.25"/><circle cx="627.4" cy="671.8" r="1.25"/><circle cx="549.4" cy="713.1" r="1.25"/><circle cx="556.4" cy="703.7" r="1.25"/><circle cx="602.1" cy="632.3" r="1.25"/><circle cx="601.4" cy="623.7" r="1.25"/><circle cx="522.8" cy="731.4" r="1.25"/><circle cx="603.7" cy="623.8" r="1.25"/><circle cx="611.4" cy="630.3" r="1.25"/><circle cx="638.3" cy="731.0" r="1.25"/><circle cx="548.8" cy="718.1" r="1.25"/><circle cx="556.7" cy="706.2" r="1.25"/><circle cx="541.6" cy="722.1" r="1.25"/><circle cx="601.7" cy="624.5" r="1.25"/><circle cx="567.2" cy="684.4" r="1.25"/><circle cx="538.7" cy="725.3" r="1.25"/><circle cx="567.4" cy="681.3" r="1.25"/><circle cx="608.0" cy="610.5" r="1.25"/><circle cx="559.4" cy="700.2" r="1.25"/><circle cx="612.7" cy="616.3" r="1.25"/><circle cx="565.8" cy="692.2" r="1.25"/><circle cx="540.3" cy="722.7" r="1.25"/><circle cx="562.2" cy="696.2" r="1.25"/><circle cx="637.5" cy="724.4" r="1.25"/><circle cx="620.8" cy="636.4" r="1.25"/><circle cx="524.1" cy="731.8" r="1.25"/><circle cx="632.2" cy="691.2" r="1.25"/><circle cx="630.1" cy="673.7" r="1.25"/><circle cx="619.0" cy="635.4" r="1.25"/><circle cx="522.9" cy="727.0" r="1.25"/><circle cx="551.3" cy="717.0" r="1.25"/><circle cx="558.7" cy="702.1" r="1.25"/><circle cx="597.1" cy="630.9" r="1.25"/><circle cx="559.3" cy="705.5" r="1.25"/><circle cx="612.0" cy="618.2" r="1.25"/><circle cx="634.4" cy="709.1" r="1.25"/><circle cx="577.5" cy="647.6" r="1.25"/><circle cx="565.9" cy="688.2" r="1.25"/><circle cx="580.6" cy="649.0" r="1.25"/><circle cx="617.4" cy="633.4" r="1.25"/><circle cx="612.3" cy="631.7" r="1.25"/><circle cx="557.7" cy="708.2" r="1.25"/><circle cx="529.8" cy="728.3" r="1.25"/><circle cx="550.7" cy="717.0" r="1.25"/><circle cx="587.0" cy="647.1" r="1.25"/><circle cx="629.9" cy="665.6" r="1.25"/><circle cx="529.2" cy="727.3" r="1.25"/><circle cx="606.9" cy="631.7" r="1.25"/><circle cx="570.4" cy="681.6" r="1.25"/><circle cx="610.0" cy="620.4" r="1.25"/><circle cx="532.7" cy="726.2" r="1.25"/><circle cx="588.0" cy="643.6" r="1.25"/><circle cx="544.5" cy="721.6" r="1.25"/><circle cx="538.4" cy="723.6" r="1.25"/><circle cx="558.3" cy="711.0" r="1.25"/><circle cx="583.1" cy="647.0" r="1.25"/><circle cx="600.9" cy="625.3" r="1.25"/><circle cx="577.3" cy="654.1" r="1.25"/><circle cx="629.9" cy="685.9" r="1.25"/><circle cx="533.7" cy="725.4" r="1.25"/><circle cx="592.9" cy="628.0" r="1.25"/><circle cx="625.1" cy="660.1" r="1.25"/><circle cx="614.9" cy="624.2" r="1.25"/><circle cx="592.1" cy="635.8" r="1.25"/><circle cx="563.8" cy="691.7" r="1.25"/><circle cx="550.7" cy="720.6" r="1.25"/><circle cx="543.1" cy="718.6" r="1.25"/><circle cx="602.4" cy="625.3" r="1.25"/><circle cx="544.6" cy="720.2" r="1.25"/><circle cx="525.6" cy="728.6" r="1.25"/><circle cx="587.1" cy="639.8" r="1.25"/><circle cx="538.7" cy="725.1" r="1.25"/><circle cx="552.9" cy="714.5" r="1.25"/><circle cx="559.4" cy="708.8" r="1.25"/><circle cx="569.8" cy="671.8" r="1.25"/><circle cx="561.4" cy="692.7" r="1.25"/><circle cx="545.3" cy="714.8" r="1.25"/><circle cx="571.1" cy="674.3" r="1.25"/><circle cx="626.7" cy="670.6" r="1.25"/><circle cx="520.8" cy="733.1" r="1.25"/><circle cx="630.5" cy="681.4" r="1.25"/><circle cx="565.2" cy="694.1" r="1.25"/><circle cx="553.7" cy="718.6" r="1.25"/><circle cx="532.0" cy="730.6" r="1.25"/><circle cx="638.0" cy="726.0" r="1.25"/><circle cx="635.4" cy="707.3" r="1.25"/><circle cx="525.3" cy="728.7" r="1.25"/><circle cx="629.8" cy="687.9" r="1.25"/><circle cx="537.4" cy="724.6" r="1.25"/><circle cx="568.0" cy="680.0" r="1.25"/><circle cx="540.0" cy="722.6" r="1.25"/><circle cx="583.5" cy="647.1" r="1.25"/><circle cx="549.6" cy="718.7" r="1.25"/><circle cx="522.0" cy="733.0" r="1.25"/><circle cx="523.0" cy="730.0" r="1.25"/><circle cx="592.3" cy="640.9" r="1.25"/><circle cx="556.2" cy="710.9" r="1.25"/><circle cx="571.9" cy="676.6" r="1.25"/><circle cx="572.0" cy="665.7" r="1.25"/><circle cx="579.3" cy="652.0" r="1.25"/><circle cx="616.4" cy="631.4" r="1.25"/><circle cx="577.3" cy="656.2" r="1.25"/><circle cx="572.2" cy="670.2" r="1.25"/><circle cx="582.2" cy="641.7" r="1.25"/><circle cx="529.3" cy="729.3" r="1.25"/><circle cx="580.3" cy="642.5" r="1.25"/><circle cx="565.8" cy="688.9" r="1.25"/><circle cx="624.3" cy="645.7" r="1.25"/><circle cx="619.2" cy="630.1" r="1.25"/><circle cx="581.8" cy="643.2" r="1.25"/><circle cx="538.7" cy="723.5" r="1.25"/><circle cx="524.9" cy="731.6" r="1.25"/><circle cx="539.6" cy="723.9" r="1.25"/><circle cx="618.9" cy="631.9" r="1.25"/><circle cx="633.0" cy="691.9" r="1.25"/><circle cx="581.9" cy="648.6" r="1.25"/><circle cx="541.5" cy="720.9" r="1.25"/><circle cx="604.4" cy="624.4" r="1.25"/><circle cx="615.2" cy="621.3" r="1.25"/><circle cx="598.0" cy="637.4" r="1.25"/><circle cx="588.6" cy="650.1" r="1.25"/><circle cx="530.8" cy="725.5" r="1.25"/><circle cx="567.4" cy="685.3" r="1.25"/><circle cx="640.2" cy="740.5" r="1.25"/><circle cx="612.6" cy="630.6" r="1.25"/><circle cx="610.6" cy="614.1" r="1.25"/><circle cx="550.6" cy="722.7" r="1.25"/><circle cx="589.0" cy="636.5" r="1.25"/><circle cx="518.4" cy="730.0" r="1.25"/><circle cx="594.8" cy="637.5" r="1.25"/><circle cx="629.6" cy="674.8" r="1.25"/><circle cx="599.8" cy="627.9" r="1.25"/><circle cx="562.6" cy="694.5" r="1.25"/><circle cx="547.0" cy="723.0" r="1.25"/><circle cx="543.4" cy="723.7" r="1.25"/><circle cx="534.7" cy="725.1" r="1.25"/><circle cx="537.0" cy="723.5" r="1.25"/><circle cx="626.9" cy="659.8" r="1.25"/><circle cx="550.5" cy="711.2" r="1.25"/><circle cx="588.2" cy="642.2" r="1.25"/><circle cx="574.6" cy="663.2" r="1.25"/><circle cx="548.9" cy="716.8" r="1.25"/><circle cx="584.2" cy="645.1" r="1.25"/><circle cx="526.4" cy="730.0" r="1.25"/><circle cx="586.6" cy="636.4" r="1.25"/><circle cx="543.2" cy="724.4" r="1.25"/><circle cx="597.2" cy="627.0" r="1.25"/><circle cx="556.4" cy="707.1" r="1.25"/><circle cx="628.6" cy="671.3" r="1.25"/><circle cx="518.2" cy="729.4" r="1.25"/><circle cx="574.9" cy="660.6" r="1.25"/><circle cx="545.7" cy="717.7" r="1.25"/><circle cx="524.0" cy="731.8" r="1.25"/><circle cx="605.8" cy="621.5" r="1.25"/><circle cx="550.4" cy="718.2" r="1.25"/><circle cx="615.6" cy="633.1" r="1.25"/><circle cx="597.8" cy="624.0" r="1.25"/><circle cx="627.1" cy="663.3" r="1.25"/><circle cx="548.0" cy="718.9" r="1.25"/><circle cx="608.6" cy="632.4" r="1.25"/><circle cx="561.0" cy="702.6" r="1.25"/><circle cx="598.5" cy="632.3" r="1.25"/><circle cx="638.2" cy="739.9" r="1.25"/><circle cx="605.1" cy="622.9" r="1.25"/><circle cx="607.3" cy="631.7" r="1.25"/><circle cx="544.6" cy="721.4" r="1.25"/><circle cx="630.8" cy="686.2" r="1.25"/><circle cx="532.2" cy="726.3" r="1.25"/><circle cx="536.0" cy="725.4" r="1.25"/><circle cx="604.2" cy="634.4" r="1.25"/><circle cx="608.5" cy="617.6" r="1.25"/><circle cx="564.1" cy="692.1" r="1.25"/><circle cx="627.1" cy="666.5" r="1.25"/><circle cx="632.2" cy="687.3" r="1.25"/><circle cx="544.0" cy="720.5" r="1.25"/><circle cx="623.4" cy="646.4" r="1.25"/><circle cx="619.3" cy="641.9" r="1.25"/><circle cx="530.6" cy="725.8" r="1.25"/><circle cx="545.0" cy="722.5" r="1.25"/><circle cx="522.3" cy="730.8" r="1.25"/><circle cx="607.7" cy="630.8" r="1.25"/><circle cx="638.2" cy="733.1" r="1.25"/><circle cx="595.0" cy="623.1" r="1.25"/><circle cx="572.8" cy="670.2" r="1.25"/><circle cx="604.8" cy="631.8" r="1.25"/><circle cx="624.9" cy="648.3" r="1.25"/><circle cx="540.7" cy="722.9" r="1.25"/><circle cx="612.7" cy="626.0" r="1.25"/><circle cx="579.3" cy="659.3" r="1.25"/><circle cx="541.7" cy="725.6" r="1.25"/><circle cx="621.3" cy="643.0" r="1.25"/><circle cx="556.0" cy="710.7" r="1.25"/><circle cx="581.6" cy="645.4" r="1.25"/><circle cx="529.6" cy="728.5" r="1.25"/><circle cx="614.4" cy="632.0" r="1.25"/><circle cx="567.7" cy="689.1" r="1.25"/><circle cx="530.6" cy="728.5" r="1.25"/><circle cx="544.1" cy="721.6" r="1.25"/><circle cx="582.5" cy="655.2" r="1.25"/><circle cx="548.9" cy="722.4" r="1.25"/><circle cx="612.0" cy="626.1" r="1.25"/><circle cx="560.5" cy="699.3" r="1.25"/><circle cx="623.1" cy="650.2" r="1.25"/><circle cx="538.5" cy="726.7" r="1.25"/><circle cx="590.8" cy="629.1" r="1.25"/><circle cx="628.6" cy="669.6" r="1.25"/><circle cx="556.6" cy="710.0" r="1.25"/><circle cx="536.2" cy="724.5" r="1.25"/><circle cx="559.6" cy="705.2" r="1.25"/><circle cx="559.2" cy="700.1" r="1.25"/><circle cx="610.9" cy="612.5" r="1.25"/><circle cx="532.8" cy="731.6" r="1.25"/><circle cx="618.5" cy="630.7" r="1.25"/><circle cx="542.1" cy="722.8" r="1.25"/><circle cx="544.0" cy="721.6" r="1.25"/><circle cx="568.2" cy="683.6" r="1.25"/><circle cx="579.1" cy="652.3" r="1.25"/><circle cx="535.6" cy="727.2" r="1.25"/><circle cx="609.5" cy="619.9" r="1.25"/><circle cx="589.0" cy="635.0" r="1.25"/><circle cx="546.1" cy="720.3" r="1.25"/><circle cx="612.3" cy="631.1" r="1.25"/><circle cx="600.9" cy="632.3" r="1.25"/><circle cx="556.6" cy="707.0" r="1.25"/><circle cx="570.2" cy="676.3" r="1.25"/><circle cx="595.0" cy="628.8" r="1.25"/><circle cx="575.9" cy="665.9" r="1.25"/><circle cx="601.4" cy="623.8" r="1.25"/><circle cx="599.2" cy="627.2" r="1.25"/><circle cx="578.3" cy="651.4" r="1.25"/><circle cx="585.7" cy="636.4" r="1.25"/><circle cx="636.0" cy="711.4" r="1.25"/><circle cx="589.6" cy="645.2" r="1.25"/><circle cx="581.6" cy="651.6" r="1.25"/><circle cx="581.8" cy="653.0" r="1.25"/><circle cx="545.9" cy="721.9" r="1.25"/><circle cx="612.0" cy="612.7" r="1.25"/><circle cx="564.5" cy="694.3" r="1.25"/><circle cx="568.3" cy="681.4" r="1.25"/><circle cx="570.7" cy="677.8" r="1.25"/><circle cx="550.7" cy="714.5" r="1.25"/><circle cx="636.1" cy="711.8" r="1.25"/><circle cx="617.4" cy="635.7" r="1.25"/><circle cx="535.2" cy="726.0" r="1.25"/><circle cx="595.3" cy="637.2" r="1.25"/><circle cx="546.9" cy="716.7" r="1.25"/><circle cx="597.3" cy="623.5" r="1.25"/><circle cx="575.0" cy="660.5" r="1.25"/><circle cx="535.4" cy="725.9" r="1.25"/><circle cx="622.9" cy="650.2" r="1.25"/><circle cx="551.0" cy="718.9" r="1.25"/><circle cx="519.5" cy="731.2" r="1.25"/><circle cx="548.3" cy="719.0" r="1.25"/><circle cx="572.6" cy="676.6" r="1.25"/><circle cx="562.5" cy="689.4" r="1.25"/><circle cx="525.1" cy="728.4" r="1.25"/><circle cx="613.7" cy="619.5" r="1.25"/><circle cx="598.1" cy="627.8" r="1.25"/><circle cx="636.1" cy="720.9" r="1.25"/><circle cx="530.8" cy="727.2" r="1.25"/><circle cx="615.0" cy="629.4" r="1.25"/><circle cx="630.6" cy="681.7" r="1.25"/><circle cx="628.1" cy="679.3" r="1.25"/><circle cx="600.2" cy="618.7" r="1.25"/><circle cx="621.2" cy="643.1" r="1.25"/><circle cx="585.5" cy="643.0" r="1.25"/><circle cx="626.6" cy="671.2" r="1.25"/><circle cx="547.5" cy="716.5" r="1.25"/><circle cx="526.9" cy="731.0" r="1.25"/><circle cx="579.5" cy="657.0" r="1.25"/><circle cx="625.1" cy="647.3" r="1.25"/><circle cx="576.6" cy="663.6" r="1.25"/><circle cx="621.9" cy="648.7" r="1.25"/><circle cx="637.8" cy="718.5" r="1.25"/><circle cx="597.8" cy="619.7" r="1.25"/><circle cx="603.1" cy="622.1" r="1.25"/><circle cx="639.4" cy="738.1" r="1.25"/><circle cx="629.3" cy="671.8" r="1.25"/><circle cx="596.2" cy="636.2" r="1.25"/><circle cx="565.5" cy="697.3" r="1.25"/><circle cx="613.9" cy="625.2" r="1.25"/><circle cx="571.8" cy="681.5" r="1.25"/><circle cx="554.4" cy="708.5" r="1.25"/><circle cx="580.1" cy="649.3" r="1.25"/><circle cx="640.0" cy="734.7" r="1.25"/><circle cx="558.3" cy="703.7" r="1.25"/><circle cx="591.8" cy="641.2" r="1.25"/><circle cx="522.6" cy="731.0" r="1.25"/><circle cx="584.2" cy="636.4" r="1.25"/><circle cx="519.9" cy="729.5" r="1.25"/><circle cx="595.7" cy="637.4" r="1.25"/><circle cx="629.6" cy="690.4" r="1.25"/><circle cx="595.2" cy="632.0" r="1.25"/><circle cx="601.6" cy="625.3" r="1.25"/><circle cx="576.5" cy="662.6" r="1.25"/><circle cx="540.8" cy="720.3" r="1.25"/><circle cx="631.8" cy="691.1" r="1.25"/><circle cx="619.4" cy="637.5" r="1.25"/><circle cx="549.5" cy="717.7" r="1.25"/><circle cx="559.0" cy="709.0" r="1.25"/><circle cx="634.4" cy="698.7" r="1.25"/><circle cx="524.1" cy="728.1" r="1.25"/><circle cx="590.8" cy="628.5" r="1.25"/><circle cx="520.1" cy="732.5" r="1.25"/><circle cx="635.1" cy="702.5" r="1.25"/><circle cx="569.5" cy="676.6" r="1.25"/><circle cx="545.8" cy="720.2" r="1.25"/><circle cx="519.6" cy="731.3" r="1.25"/><circle cx="637.4" cy="719.5" r="1.25"/><circle cx="535.7" cy="723.9" r="1.25"/><circle cx="548.9" cy="718.3" r="1.25"/><circle cx="524.5" cy="729.8" r="1.25"/><circle cx="622.8" cy="651.8" r="1.25"/><circle cx="595.9" cy="630.7" r="1.25"/><circle cx="632.7" cy="702.5" r="1.25"/><circle cx="609.5" cy="625.7" r="1.25"/><circle cx="599.0" cy="627.3" r="1.25"/><circle cx="556.8" cy="706.7" r="1.25"/><circle cx="624.3" cy="655.2" r="1.25"/><circle cx="564.2" cy="696.2" r="1.25"/><circle cx="601.8" cy="620.3" r="1.25"/><circle cx="564.9" cy="697.1" r="1.25"/><circle cx="569.3" cy="681.9" r="1.25"/><circle cx="636.3" cy="712.3" r="1.25"/><circle cx="553.7" cy="702.5" r="1.25"/><circle cx="606.4" cy="624.5" r="1.25"/><circle cx="592.7" cy="618.7" r="1.25"/><circle cx="592.6" cy="634.3" r="1.25"/><circle cx="629.1" cy="676.2" r="1.25"/><circle cx="593.9" cy="622.0" r="1.25"/><circle cx="552.8" cy="709.5" r="1.25"/><circle cx="570.9" cy="680.8" r="1.25"/><circle cx="627.3" cy="664.0" r="1.25"/><circle cx="619.3" cy="629.7" r="1.25"/><circle cx="551.7" cy="710.4" r="1.25"/><circle cx="601.8" cy="622.3" r="1.25"/><circle cx="528.9" cy="731.7" r="1.25"/><circle cx="543.0" cy="721.5" r="1.25"/><circle cx="545.6" cy="722.3" r="1.25"/><circle cx="575.3" cy="659.7" r="1.25"/><circle cx="612.0" cy="624.3" r="1.25"/><circle cx="528.7" cy="727.7" r="1.25"/><circle cx="546.1" cy="724.5" r="1.25"/><circle cx="626.9" cy="674.3" r="1.25"/><circle cx="591.3" cy="631.5" r="1.25"/><circle cx="541.7" cy="723.6" r="1.25"/><circle cx="587.5" cy="642.8" r="1.25"/><circle cx="537.8" cy="719.9" r="1.25"/><circle cx="565.8" cy="688.2" r="1.25"/><circle cx="616.6" cy="622.6" r="1.25"/><circle cx="562.3" cy="700.1" r="1.25"/><circle cx="523.0" cy="727.1" r="1.25"/><circle cx="578.6" cy="656.5" r="1.25"/><circle cx="614.5" cy="641.8" r="1.25"/><circle cx="614.3" cy="619.6" r="1.25"/><circle cx="548.0" cy="715.2" r="1.25"/><circle cx="541.3" cy="722.7" r="1.25"/><circle cx="587.6" cy="632.4" r="1.25"/><circle cx="634.8" cy="714.3" r="1.25"/><circle cx="592.3" cy="634.8" r="1.25"/><circle cx="637.3" cy="723.2" r="1.25"/><circle cx="598.9" cy="619.0" r="1.25"/><circle cx="566.9" cy="688.0" r="1.25"/><circle cx="638.0" cy="723.3" r="1.25"/><circle cx="523.6" cy="730.5" r="1.25"/><circle cx="630.9" cy="675.2" r="1.25"/><circle cx="523.7" cy="729.7" r="1.25"/><circle cx="597.1" cy="626.3" r="1.25"/><circle cx="536.7" cy="725.6" r="1.25"/><circle cx="600.1" cy="630.3" r="1.25"/><circle cx="613.3" cy="621.8" r="1.25"/><circle cx="551.0" cy="714.4" r="1.25"/><circle cx="540.4" cy="724.1" r="1.25"/><circle cx="602.8" cy="617.0" r="1.25"/><circle cx="543.0" cy="715.2" r="1.25"/><circle cx="546.5" cy="714.3" r="1.25"/><circle cx="627.6" cy="669.4" r="1.25"/><circle cx="531.6" cy="725.3" r="1.25"/><circle cx="595.5" cy="634.7" r="1.25"/><circle cx="620.5" cy="644.5" r="1.25"/><circle cx="536.6" cy="725.7" r="1.25"/><circle cx="607.1" cy="630.5" r="1.25"/><circle cx="625.9" cy="660.7" r="1.25"/><circle cx="539.0" cy="725.5" r="1.25"/><circle cx="561.8" cy="700.2" r="1.25"/><circle cx="558.9" cy="703.9" r="1.25"/><circle cx="639.1" cy="724.2" r="1.25"/><circle cx="601.8" cy="626.1" r="1.25"/><circle cx="555.1" cy="711.4" r="1.25"/><circle cx="564.3" cy="683.5" r="1.25"/><circle cx="632.6" cy="693.4" r="1.25"/><circle cx="629.6" cy="671.1" r="1.25"/><circle cx="555.5" cy="709.3" r="1.25"/><circle cx="618.2" cy="636.0" r="1.25"/><circle cx="519.5" cy="729.9" r="1.25"/><circle cx="540.8" cy="728.8" r="1.25"/><circle cx="546.5" cy="721.5" r="1.25"/><circle cx="540.8" cy="722.9" r="1.25"/><circle cx="541.7" cy="720.7" r="1.25"/><circle cx="594.0" cy="636.3" r="1.25"/><circle cx="544.3" cy="724.7" r="1.25"/><circle cx="617.9" cy="639.4" r="1.25"/><circle cx="526.6" cy="730.1" r="1.25"/><circle cx="606.8" cy="615.1" r="1.25"/><circle cx="560.7" cy="698.5" r="1.25"/><circle cx="578.1" cy="642.7" r="1.25"/><circle cx="577.7" cy="654.5" r="1.25"/><circle cx="541.3" cy="721.3" r="1.25"/><circle cx="538.2" cy="726.1" r="1.25"/><circle cx="520.3" cy="732.7" r="1.25"/><circle cx="582.2" cy="641.4" r="1.25"/><circle cx="620.4" cy="634.1" r="1.25"/><circle cx="605.8" cy="635.3" r="1.25"/><circle cx="527.4" cy="727.1" r="1.25"/><circle cx="578.2" cy="655.8" r="1.25"/><circle cx="584.9" cy="631.0" r="1.25"/><circle cx="546.7" cy="719.0" r="1.25"/><circle cx="550.1" cy="717.1" r="1.25"/><circle cx="530.5" cy="728.6" r="1.25"/><circle cx="520.5" cy="732.6" r="1.25"/><circle cx="582.6" cy="645.0" r="1.25"/><circle cx="625.5" cy="659.7" r="1.25"/><circle cx="533.7" cy="728.8" r="1.25"/><circle cx="553.3" cy="710.3" r="1.25"/><circle cx="536.4" cy="728.9" r="1.25"/><circle cx="536.0" cy="728.0" r="1.25"/><circle cx="538.4" cy="722.7" r="1.25"/><circle cx="564.8" cy="692.6" r="1.25"/><circle cx="584.4" cy="651.5" r="1.25"/><circle cx="615.8" cy="629.8" r="1.25"/><circle cx="560.7" cy="709.7" r="1.25"/><circle cx="618.9" cy="622.6" r="1.25"/><circle cx="622.4" cy="644.0" r="1.25"/><circle cx="637.2" cy="719.5" r="1.25"/><circle cx="570.6" cy="678.2" r="1.25"/><circle cx="583.6" cy="638.9" r="1.25"/><circle cx="581.4" cy="646.2" r="1.25"/><circle cx="638.3" cy="726.5" r="1.25"/><circle cx="594.7" cy="623.7" r="1.25"/><circle cx="626.0" cy="663.9" r="1.25"/><circle cx="551.9" cy="716.3" r="1.25"/><circle cx="585.0" cy="635.3" r="1.25"/><circle cx="549.1" cy="720.6" r="1.25"/><circle cx="635.8" cy="719.5" r="1.25"/><circle cx="599.3" cy="622.0" r="1.25"/><circle cx="637.4" cy="724.5" r="1.25"/><circle cx="576.2" cy="661.7" r="1.25"/><circle cx="534.0" cy="725.9" r="1.25"/><circle cx="569.5" cy="682.9" r="1.25"/><circle cx="530.3" cy="731.8" r="1.25"/><circle cx="593.5" cy="639.6" r="1.25"/><circle cx="543.1" cy="722.3" r="1.25"/><circle cx="585.4" cy="642.5" r="1.25"/><circle cx="556.4" cy="706.5" r="1.25"/><circle cx="582.6" cy="650.7" r="1.25"/><circle cx="521.1" cy="732.9" r="1.25"/><circle cx="549.7" cy="721.7" r="1.25"/><circle cx="553.6" cy="709.0" r="1.25"/><circle cx="613.9" cy="625.6" r="1.25"/><circle cx="626.4" cy="661.9" r="1.25"/><circle cx="566.7" cy="692.3" r="1.25"/><circle cx="532.9" cy="726.9" r="1.25"/><circle cx="612.1" cy="622.3" r="1.25"/><circle cx="562.9" cy="699.3" r="1.25"/><circle cx="622.4" cy="647.4" r="1.25"/><circle cx="608.8" cy="626.2" r="1.25"/><circle cx="575.9" cy="655.8" r="1.25"/><circle cx="630.1" cy="683.7" r="1.25"/><circle cx="520.7" cy="730.7" r="1.25"/><circle cx="579.0" cy="644.8" r="1.25"/><circle cx="570.0" cy="676.6" r="1.25"/><circle cx="591.9" cy="636.4" r="1.25"/><circle cx="575.9" cy="663.2" r="1.25"/><circle cx="566.2" cy="689.8" r="1.25"/><circle cx="558.2" cy="703.0" r="1.25"/><circle cx="578.7" cy="651.9" r="1.25"/><circle cx="556.5" cy="705.4" r="1.25"/><circle cx="591.4" cy="621.2" r="1.25"/><circle cx="559.8" cy="700.8" r="1.25"/><circle cx="635.5" cy="721.5" r="1.25"/><circle cx="631.9" cy="685.4" r="1.25"/><circle cx="588.4" cy="651.2" r="1.25"/><circle cx="614.1" cy="650.3" r="1.25"/><circle cx="581.8" cy="651.7" r="1.25"/><circle cx="566.7" cy="689.9" r="1.25"/><circle cx="563.0" cy="693.5" r="1.25"/><circle cx="583.1" cy="640.8" r="1.25"/><circle cx="568.7" cy="687.9" r="1.25"/><circle cx="626.8" cy="661.8" r="1.25"/><circle cx="572.8" cy="676.2" r="1.25"/><circle cx="559.0" cy="705.3" r="1.25"/><circle cx="539.6" cy="725.9" r="1.25"/><circle cx="622.9" cy="642.0" r="1.25"/><circle cx="629.0" cy="678.8" r="1.25"/><circle cx="639.2" cy="733.8" r="1.25"/><circle cx="537.5" cy="725.6" r="1.25"/><circle cx="582.1" cy="647.4" r="1.25"/><circle cx="597.0" cy="633.8" r="1.25"/><circle cx="640.7" cy="739.2" r="1.25"/><circle cx="569.3" cy="679.9" r="1.25"/><circle cx="603.2" cy="621.8" r="1.25"/><circle cx="622.6" cy="651.5" r="1.25"/><circle cx="542.4" cy="725.7" r="1.25"/><circle cx="551.6" cy="717.4" r="1.25"/><circle cx="640.8" cy="743.5" r="1.25"/><circle cx="533.4" cy="725.4" r="1.25"/><circle cx="533.3" cy="726.9" r="1.25"/><circle cx="583.5" cy="642.1" r="1.25"/><circle cx="617.1" cy="632.8" r="1.25"/><circle cx="613.8" cy="631.6" r="1.25"/><circle cx="563.7" cy="695.9" r="1.25"/><circle cx="531.7" cy="726.3" r="1.25"/><circle cx="561.1" cy="701.2" r="1.25"/><circle cx="525.9" cy="728.4" r="1.25"/><circle cx="636.3" cy="728.3" r="1.25"/><circle cx="550.0" cy="710.8" r="1.25"/><circle cx="624.7" cy="654.7" r="1.25"/><circle cx="621.1" cy="639.9" r="1.25"/><circle cx="638.2" cy="733.1" r="1.25"/><circle cx="548.8" cy="721.7" r="1.25"/><circle cx="547.0" cy="722.0" r="1.25"/><circle cx="580.2" cy="653.4" r="1.25"/><circle cx="539.6" cy="724.4" r="1.25"/><circle cx="638.9" cy="730.3" r="1.25"/><circle cx="534.1" cy="728.9" r="1.25"/><circle cx="568.3" cy="682.2" r="1.25"/><circle cx="620.7" cy="641.7" r="1.25"/><circle cx="543.0" cy="722.7" r="1.25"/><circle cx="523.8" cy="731.3" r="1.25"/><circle cx="537.3" cy="725.3" r="1.25"/><circle cx="551.7" cy="713.7" r="1.25"/><circle cx="573.0" cy="665.0" r="1.25"/><circle cx="537.1" cy="726.5" r="1.25"/><circle cx="566.4" cy="688.8" r="1.25"/><circle cx="635.8" cy="721.7" r="1.25"/><circle cx="574.6" cy="661.2" r="1.25"/><circle cx="552.0" cy="712.9" r="1.25"/><circle cx="563.5" cy="693.1" r="1.25"/><circle cx="546.3" cy="719.5" r="1.25"/><circle cx="581.7" cy="649.7" r="1.25"/><circle cx="613.7" cy="634.3" r="1.25"/><circle cx="589.6" cy="638.3" r="1.25"/><circle cx="530.3" cy="727.4" r="1.25"/><circle cx="560.0" cy="705.3" r="1.25"/><circle cx="587.7" cy="641.7" r="1.25"/><circle cx="556.2" cy="706.8" r="1.25"/><circle cx="547.1" cy="716.0" r="1.25"/><circle cx="554.7" cy="717.4" r="1.25"/><circle cx="615.4" cy="617.2" r="1.25"/><circle cx="533.9" cy="726.4" r="1.25"/><circle cx="602.8" cy="630.8" r="1.25"/><circle cx="568.9" cy="682.5" r="1.25"/><circle cx="548.3" cy="716.0" r="1.25"/><circle cx="595.6" cy="627.5" r="1.25"/><circle cx="631.7" cy="688.6" r="1.25"/><circle cx="522.4" cy="729.4" r="1.25"/><circle cx="543.4" cy="722.7" r="1.25"/><circle cx="524.5" cy="731.3" r="1.25"/><circle cx="542.2" cy="722.1" r="1.25"/><circle cx="606.1" cy="627.0" r="1.25"/><circle cx="604.1" cy="627.8" r="1.25"/><circle cx="621.6" cy="642.7" r="1.25"/><circle cx="523.4" cy="728.9" r="1.25"/><circle cx="523.7" cy="730.2" r="1.25"/><circle cx="616.8" cy="625.2" r="1.25"/><circle cx="613.1" cy="617.3" r="1.25"/><circle cx="568.1" cy="686.3" r="1.25"/><circle cx="551.8" cy="706.1" r="1.25"/><circle cx="572.2" cy="671.3" r="1.25"/><circle cx="609.2" cy="621.2" r="1.25"/><circle cx="573.5" cy="660.0" r="1.25"/><circle cx="572.1" cy="680.7" r="1.25"/><circle cx="534.4" cy="726.6" r="1.25"/><circle cx="605.1" cy="625.5" r="1.25"/><circle cx="585.5" cy="633.8" r="1.25"/><circle cx="585.6" cy="640.0" r="1.25"/><circle cx="563.2" cy="697.7" r="1.25"/><circle cx="557.4" cy="703.5" r="1.25"/><circle cx="602.5" cy="627.5" r="1.25"/><circle cx="583.0" cy="655.0" r="1.25"/><circle cx="562.9" cy="699.6" r="1.25"/><circle cx="538.1" cy="727.2" r="1.25"/><circle cx="619.0" cy="647.6" r="1.25"/><circle cx="539.2" cy="725.2" r="1.25"/><circle cx="574.6" cy="661.1" r="1.25"/><circle cx="531.3" cy="727.7" r="1.25"/><circle cx="545.1" cy="718.8" r="1.25"/><circle cx="543.4" cy="722.8" r="1.25"/><circle cx="531.8" cy="728.2" r="1.25"/><circle cx="564.5" cy="694.0" r="1.25"/><circle cx="520.5" cy="728.1" r="1.25"/><circle cx="529.1" cy="729.9" r="1.25"/><circle cx="585.8" cy="630.3" r="1.25"/><circle cx="573.0" cy="670.1" r="1.25"/><circle cx="520.9" cy="728.8" r="1.25"/><circle cx="595.5" cy="620.0" r="1.25"/><circle cx="549.3" cy="717.3" r="1.25"/><circle cx="522.8" cy="730.1" r="1.25"/><circle cx="553.6" cy="707.6" r="1.25"/><circle cx="624.2" cy="645.6" r="1.25"/><circle cx="615.2" cy="622.2" r="1.25"/><circle cx="557.8" cy="701.2" r="1.25"/><circle cx="559.8" cy="707.3" r="1.25"/><circle cx="565.2" cy="691.7" r="1.25"/><circle cx="523.4" cy="732.5" r="1.25"/><circle cx="619.3" cy="640.0" r="1.25"/><circle cx="633.3" cy="718.2" r="1.25"/><circle cx="538.3" cy="725.7" r="1.25"/><circle cx="529.9" cy="729.5" r="1.25"/><circle cx="572.9" cy="666.6" r="1.25"/><circle cx="523.7" cy="731.4" r="1.25"/><circle cx="608.1" cy="613.7" r="1.25"/><circle cx="624.2" cy="650.6" r="1.25"/><circle cx="552.8" cy="713.7" r="1.25"/><circle cx="569.8" cy="678.3" r="1.25"/><circle cx="601.7" cy="621.4" r="1.25"/><circle cx="537.4" cy="725.0" r="1.25"/><circle cx="589.2" cy="638.9" r="1.25"/><circle cx="529.8" cy="729.7" r="1.25"/><circle cx="639.4" cy="722.1" r="1.25"/><circle cx="637.9" cy="724.9" r="1.25"/><circle cx="618.4" cy="626.0" r="1.25"/><circle cx="594.4" cy="633.4" r="1.25"/><circle cx="637.3" cy="725.5" r="1.25"/><circle cx="555.9" cy="712.2" r="1.25"/><circle cx="523.9" cy="729.6" r="1.25"/><circle cx="575.2" cy="662.4" r="1.25"/><circle cx="565.3" cy="694.8" r="1.25"/><circle cx="583.7" cy="646.7" r="1.25"/><circle cx="532.6" cy="725.8" r="1.25"/><circle cx="588.1" cy="633.0" r="1.25"/><circle cx="551.2" cy="714.1" r="1.25"/><circle cx="550.5" cy="721.2" r="1.25"/><circle cx="546.8" cy="720.7" r="1.25"/><circle cx="581.9" cy="648.0" r="1.25"/><circle cx="568.9" cy="678.9" r="1.25"/><circle cx="625.6" cy="661.4" r="1.25"/><circle cx="611.6" cy="611.0" r="1.25"/><circle cx="609.5" cy="616.5" r="1.25"/><circle cx="568.1" cy="683.0" r="1.25"/><circle cx="590.2" cy="635.8" r="1.25"/><circle cx="614.0" cy="622.6" r="1.25"/><circle cx="564.9" cy="688.0" r="1.25"/><circle cx="545.2" cy="721.9" r="1.25"/><circle cx="572.7" cy="671.5" r="1.25"/><circle cx="625.4" cy="669.4" r="1.25"/><circle cx="625.3" cy="657.0" r="1.25"/><circle cx="562.2" cy="700.0" r="1.25"/><circle cx="619.2" cy="637.1" r="1.25"/><circle cx="610.3" cy="615.7" r="1.25"/><circle cx="523.8" cy="730.9" r="1.25"/><circle cx="586.2" cy="638.3" r="1.25"/><circle cx="632.4" cy="697.7" r="1.25"/><circle cx="542.0" cy="727.6" r="1.25"/><circle cx="591.0" cy="633.0" r="1.25"/><circle cx="532.6" cy="727.2" r="1.25"/><circle cx="586.6" cy="640.7" r="1.25"/><circle cx="567.1" cy="685.9" r="1.25"/><circle cx="586.6" cy="643.9" r="1.25"/><circle cx="634.2" cy="713.2" r="1.25"/><circle cx="537.5" cy="728.8" r="1.25"/><circle cx="617.4" cy="627.6" r="1.25"/><circle cx="619.8" cy="638.8" r="1.25"/><circle cx="576.6" cy="652.8" r="1.25"/><circle cx="568.8" cy="683.4" r="1.25"/><circle cx="527.3" cy="729.9" r="1.25"/><circle cx="629.5" cy="676.8" r="1.25"/><circle cx="539.6" cy="725.3" r="1.25"/><circle cx="590.7" cy="639.4" r="1.25"/><circle cx="520.1" cy="732.3" r="1.25"/><circle cx="521.0" cy="735.5" r="1.25"/><circle cx="525.1" cy="728.8" r="1.25"/><circle cx="553.5" cy="714.4" r="1.25"/><circle cx="552.2" cy="719.3" r="1.25"/><circle cx="636.2" cy="720.7" r="1.25"/><circle cx="587.9" cy="635.1" r="1.25"/><circle cx="612.4" cy="633.5" r="1.25"/><circle cx="562.6" cy="695.6" r="1.25"/><circle cx="627.9" cy="656.0" r="1.25"/><circle cx="555.8" cy="707.4" r="1.25"/><circle cx="580.0" cy="650.0" r="1.25"/><circle cx="586.0" cy="639.7" r="1.25"/><circle cx="560.6" cy="705.4" r="1.25"/><circle cx="580.6" cy="657.2" r="1.25"/><circle cx="548.3" cy="719.7" r="1.25"/><circle cx="520.2" cy="729.7" r="1.25"/><circle cx="573.0" cy="669.3" r="1.25"/><circle cx="539.3" cy="722.8" r="1.25"/><circle cx="557.2" cy="707.5" r="1.25"/><circle cx="633.2" cy="711.7" r="1.25"/><circle cx="592.4" cy="630.2" r="1.25"/><circle cx="590.6" cy="627.9" r="1.25"/><circle cx="614.2" cy="639.2" r="1.25"/><circle cx="528.0" cy="733.4" r="1.25"/><circle cx="553.0" cy="713.3" r="1.25"/><circle cx="539.3" cy="724.8" r="1.25"/><circle cx="547.1" cy="721.7" r="1.25"/><circle cx="593.5" cy="625.2" r="1.25"/><circle cx="542.1" cy="722.6" r="1.25"/><circle cx="590.6" cy="621.1" r="1.25"/><circle cx="627.5" cy="664.6" r="1.25"/><circle cx="542.4" cy="728.5" r="1.25"/><circle cx="597.2" cy="624.6" r="1.25"/><circle cx="558.8" cy="703.5" r="1.25"/><circle cx="567.5" cy="684.1" r="1.25"/><circle cx="525.2" cy="730.5" r="1.25"/><circle cx="596.1" cy="633.0" r="1.25"/><circle cx="593.4" cy="632.5" r="1.25"/><circle cx="521.5" cy="728.9" r="1.25"/><circle cx="639.9" cy="730.7" r="1.25"/><circle cx="608.5" cy="627.9" r="1.25"/><circle cx="538.4" cy="723.3" r="1.25"/><circle cx="531.1" cy="727.9" r="1.25"/><circle cx="584.3" cy="645.4" r="1.25"/><circle cx="599.2" cy="633.1" r="1.25"/><circle cx="609.6" cy="626.3" r="1.25"/><circle cx="614.3" cy="625.7" r="1.25"/><circle cx="613.2" cy="619.7" r="1.25"/><circle cx="553.0" cy="719.9" r="1.25"/><circle cx="534.8" cy="724.5" r="1.25"/><circle cx="599.6" cy="627.4" r="1.25"/></g>
<text x="405.2" y="622.1" class="lb">f’</text>
<text transform="translate(402.3,644.7) scale(1.42,1)" class="eps" style="font-size:14.4px">ε</text>
<text x="410.8" y="649.5" class="eps" letter-spacing="0.35">s=0.036</text>
<text x="552.3" y="619.8" style="font-size:14px;fill:#111;stroke:#111;stroke-width:0.3px">420<tspan dy="-3.3" style="font-size:10px">O</tspan><tspan dy="3.3" dx="0.5">C</tspan></text>
<rect x="55.5" y="836.3" width="252.7" height="168.4" fill="#c3e3dc"/>
<path d="M55.5 896.5 L114.1 998.0 L308.2 839.1 L308.2 1004.7 L55.5 1004.7Z" fill="#c7e0b5"/>
<path d="M55.5 957 C75 970 95 984 106 992 C110 995 113 999 113.5 1004.7 L55.5 1004.7Z" fill="#f3f2c0"/>
<path d="M55.5 957 C75 970 95 984 106 992 C110 995 113 999 113.5 1004.7" fill="none" stroke="#142014" stroke-width="1.7"/>
<path d="M140.3 1004.7 C142 1000 148 997.5 158 994.7 L308.2 970 L308.2 1004.7Z" fill="#f3f2c0"/>
<path d="M140.3 1004.7 C142 1000 148 997.5 158 994.7 L308.2 970" fill="none" stroke="#142014" stroke-width="1.7"/>
<path d="M55.5 896.5 L114.1 998.0 L308.2 839.1" fill="none" stroke="#142014" stroke-width="1.7"/>
<path d="M55.5 920.9 H172 V1004.7" fill="none" stroke="#3d5cb0" stroke-width="1.6" stroke-dasharray="4.2 3.1"/>
<path d="M55.5 836.3h4 M55.5 846.8h3 M55.5 857.3h4 M55.5 867.9h3 M55.5 878.4h4 M55.5 888.9h3 M55.5 899.5h4 M55.5 910.0h3 M55.5 920.5h4 M55.5 931.0h3 M55.5 941.5h4 M55.5 952.1h3 M55.5 962.6h4 M55.5 973.1h3 M55.5 983.7h4 M55.5 994.2h3 M55.5 1004.7h4 M55.5 1004.7v-2.5 M65.2 1004.7v-2.5 M74.9 1004.7v-2.5 M84.7 1004.7v-2.5 M94.4 1004.7v-2.5 M104.1 1004.7v-2.5 M113.8 1004.7v-2.5 M123.5 1004.7v-2.5 M133.3 1004.7v-2.5 M143.0 1004.7v-2.5 M152.7 1004.7v-2.5 M162.4 1004.7v-2.5 M172.1 1004.7v-2.5 M181.8 1004.7v-2.5 M191.6 1004.7v-2.5 M201.3 1004.7v-2.5 M211.0 1004.7v-2.5 M220.7 1004.7v-2.5 M230.4 1004.7v-2.5 M240.2 1004.7v-2.5 M249.9 1004.7v-2.5 M259.6 1004.7v-2.5 M269.3 1004.7v-2.5 M279.0 1004.7v-2.5 M288.8 1004.7v-2.5 M298.5 1004.7v-2.5 M308.2 1004.7v-2.5" stroke="#3a3a70" stroke-width="1.1" fill="none"/>
<path d="M55.5 836.3 H308.2 V1004.7" fill="none" stroke="#4a5a5a" stroke-width="1.4"/>
<path d="M55.5 836.3 V1004.7 H308.2" fill="none" stroke="#45457a" stroke-width="1.3"/>
<text x="47.5" y="841.1" class="tk" text-anchor="end">800</text>
<text x="47.5" y="862.1" class="tk" text-anchor="end">700</text>
<text x="47.5" y="883.2" class="tk" text-anchor="end">600</text>
<text x="47.5" y="904.2" class="tk" text-anchor="end">500</text>
<text x="47.5" y="925.3" class="tk" text-anchor="end">400</text>
<text x="47.5" y="946.3" class="tk" text-anchor="end">300</text>
<text x="47.5" y="967.4" class="tk" text-anchor="end">200</text>
<text x="47.5" y="988.5" class="tk" text-anchor="end">100</text>
<text x="47.5" y="1009.5" class="tk" text-anchor="end">0</text>
<text x="64.0" y="1021" class="tk" text-anchor="middle">-10</text>
<text x="111.9" y="1021" class="tk" text-anchor="middle">0</text>
<text x="162.5" y="1021" class="tk" text-anchor="middle">10</text>
<text x="211.3" y="1021" class="tk" text-anchor="middle">20</text>
<text x="259.5" y="1021" class="tk" text-anchor="middle">30</text>
<text x="308.8" y="1021" class="tk" text-anchor="middle">40</text>
<text x="105.8" y="1037.7" style="font-size:12.6px;fill:#111;stroke:#111;stroke-width:0.3px" letter-spacing="0.2">Out-of-plane strain,</text>
<text transform="translate(221.2,1035.6) scale(1.3,1)" style="font-size:12.6px;fill:#111;stroke:#111;stroke-width:0.3px">ε</text>
<text x="228.0" y="1037.7" style="font-size:12.6px;fill:#111;stroke:#111;stroke-width:0.3px">s x10</text>
<text x="259.2" y="1033.4" style="font-size:9px;fill:#111;stroke:#111;stroke-width:0.3px">-3</text>
<text transform="translate(14.2,919.7) rotate(-90)" text-anchor="middle" style="font-size:12px;fill:#111;stroke:#111;stroke-width:0.3px"><tspan font-style="italic">T</tspan> (K)</text>
<path d="M156.8 942.2 L162.1 937.2 L167.4 942.2 L162.1 947.2Z" fill="#e8141c"/>
<path d="M167.4 942.2 L172.7 937.2 L178.0 942.2 L172.7 947.2Z" fill="#e8141c"/>
<path d="M215.4 942.2 L220.7 937.2 L226.0 942.2 L220.7 947.2Z" fill="#e8141c"/>
<path d="M234.8 942.2 L240.1 937.2 L245.4 942.2 L240.1 947.2Z" fill="#e8141c"/>
<path d="M254.1 877.7 L259.4 872.7 L264.7 877.7 L259.4 882.7Z" fill="#e8141c"/>
<path d="M283.4 859.0 L288.7 854.0 L294.0 859.0 L288.7 864.0Z" fill="#e8141c"/>
<text x="154.2" y="936.2" style="font-size:12.5px;fill:#222;stroke:#222;stroke-width:0.35px">(a)</text>
<text x="171.5" y="936.2" style="font-size:12.5px;fill:#222;stroke:#222;stroke-width:0.35px">(b)</text>
<text x="212.7" y="958" style="font-size:12.5px;fill:#222;stroke:#222;stroke-width:0.35px">(c)</text>
<text x="232.6" y="958" style="font-size:12.5px;fill:#222;stroke:#222;stroke-width:0.35px">(d)</text>
<text x="238" y="876.7" style="font-size:12.5px;fill:#222;stroke:#222;stroke-width:0.35px">(e)</text>
<text x="269.3" y="856.8" style="font-size:12.5px;fill:#222;stroke:#222;stroke-width:0.35px">(f)</text>
<text x="103.6" y="895.5" style="font-size:13px;fill:#1c1c1c;stroke:#1c1c1c;stroke-width:0.45px">Paraelectric</text>
<text x="238.5" y="907.4" style="font-size:13px;fill:#1c1c1c;stroke:#1c1c1c;stroke-width:0.45px">Range of</text>
<text x="238.5" y="920.3" style="font-size:13px;fill:#1c1c1c;stroke:#1c1c1c;stroke-width:0.45px">ferroelectrc</text>
<text x="238.5" y="933.2" style="font-size:13px;fill:#1c1c1c;stroke:#1c1c1c;stroke-width:0.45px">transition</text>
<text x="73.8" y="1000.7" style="font-size:13px;fill:#1c1c1c;stroke:#1c1c1c;stroke-width:0.45px">Ferro.</text>
<text x="209.8" y="1000.7" style="font-size:13px;fill:#1c1c1c;stroke:#1c1c1c;stroke-width:0.45px">Ferroelectric</text>
<text x="58.8" y="977.8" style="font-size:12px;fill:#1c1c1c;stroke:#1c1c1c;stroke-width:0.4px">P</text>
<text x="290" y="984.8" style="font-size:13px;fill:#1c1c1c;stroke:#1c1c1c;stroke-width:0.45px">P</text>
<path d="M61 982.4 H70.4 V979.6 L78.4 985.6 L70.4 991.8 V988.8 H61Z" fill="#12a0e6"/>
<path d="M290.6 1001.7 V993.6 H287 L294.4 986.0 L301.8 993.6 H298.1 V1001.7Z" fill="#12a0e6"/>
<text x="67.8" y="852.8" class="lb">g</text>
</svg></body></html>
